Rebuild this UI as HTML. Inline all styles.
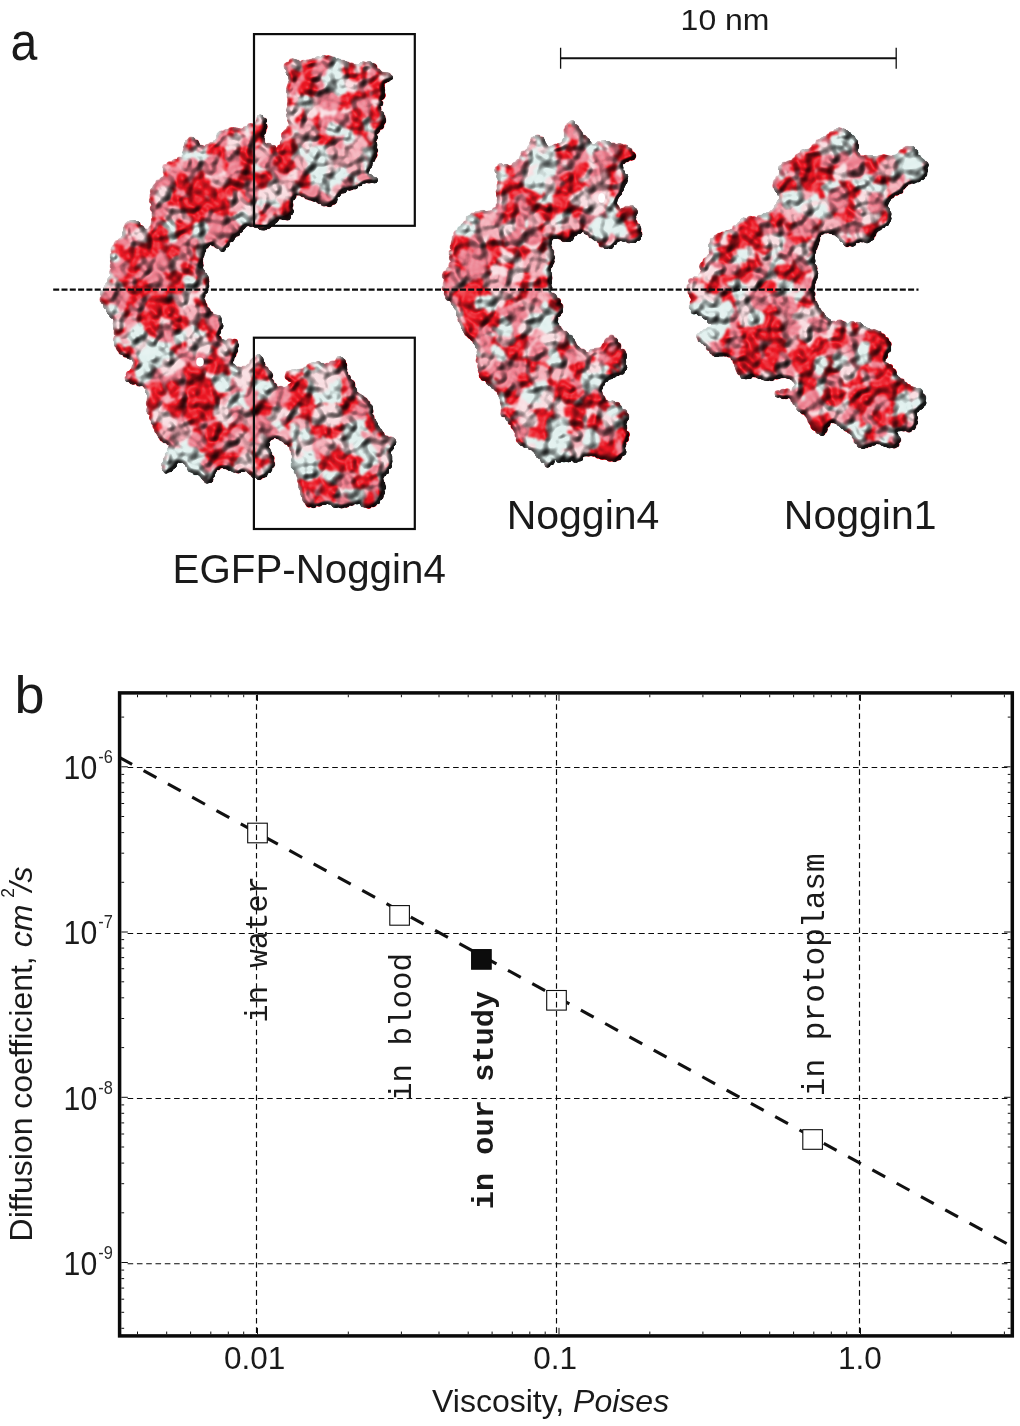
<!DOCTYPE html>
<html><head><meta charset="utf-8"><title>figure</title>
<style>
html,body{margin:0;padding:0;background:#fff;}
body{width:1020px;height:1426px;overflow:hidden;}
svg{display:block;}
text{font-family:"Liberation Sans",sans-serif;fill:#1a1a1a;}
text.mono{font-family:"Liberation Mono",monospace;}
.grid{stroke:#0a0a0a;stroke-width:1.15;stroke-dasharray:5.6 3.7;fill:none;}
</style></head><body>
<svg width="1020" height="1426" viewBox="0 0 1020 1426">
<rect width="1020" height="1426" fill="#fff"/>
<defs>

<filter id="lt" x="-4%" y="-4%" width="108%" height="108%" color-interpolation-filters="sRGB">
  <feColorMatrix in="SourceGraphic" type="matrix" values="0 0 0 0 0  0 0 0 0 0  0 0 0 0 0  1 0 0 0 0" result="h0"/>
  <feGaussianBlur in="h0" stdDeviation="1.9" result="hA"/>
  <feDiffuseLighting in="hA" surfaceScale="13" diffuseConstant="0.580" lighting-color="#ffffff" result="lit">
    <feDistantLight azimuth="225" elevation="62"/>
  </feDiffuseLighting>
  <feComponentTransfer in="lit" result="lit2"><feFuncR type="linear" slope="0.9" intercept="0.047"/><feFuncG type="linear" slope="0.9" intercept="0.047"/><feFuncB type="linear" slope="0.9" intercept="0.047"/></feComponentTransfer>
  <feSpecularLighting in="hA" surfaceScale="13" specularConstant="0.42" specularExponent="16" lighting-color="#ffffff" result="spec">
    <feDistantLight azimuth="225" elevation="62"/>
  </feSpecularLighting>
  <feComposite in="spec" in2="spec" operator="arithmetic" k1="0" k2="0.9" k3="0" k4="-0.2" result="spec1"/>
  <feGaussianBlur in="spec1" stdDeviation="0.9" result="spec2"/>
  <feComposite in="spec2" in2="lit2" operator="over" result="sh"/>
  <feComposite in="sh" in2="SourceAlpha" operator="in" result="shin"/>
  <feFlood flood-color="#ffffff" result="wh"/>
  <feComposite in="shin" in2="wh" operator="over"/>
</filter>
<filter id="cb" x="-4%" y="-4%" width="108%" height="108%" color-interpolation-filters="sRGB"><feTurbulence type="fractalNoise" baseFrequency="0.06" numOctaves="2" seed="4" result="n"/><feDisplacementMap in="SourceGraphic" in2="n" scale="14" xChannelSelector="R" yChannelSelector="G" result="d"/><feGaussianBlur in="d" stdDeviation="1.2"/></filter>
<radialGradient id="h0"><stop offset="0" stop-color="rgb(255,0,0)"/><stop offset="0.3" stop-color="rgb(243,0,0)"/><stop offset="0.5" stop-color="rgb(221,0,0)"/><stop offset="0.7" stop-color="rgb(182,0,0)"/><stop offset="0.85" stop-color="rgb(134,0,0)"/><stop offset="0.95" stop-color="rgb(80,0,0)"/><stop offset="1" stop-color="rgb(0,0,0)"/></radialGradient>
<radialGradient id="h1"><stop offset="0" stop-color="rgb(217,0,0)"/><stop offset="0.3" stop-color="rgb(207,0,0)"/><stop offset="0.5" stop-color="rgb(188,0,0)"/><stop offset="0.7" stop-color="rgb(155,0,0)"/><stop offset="0.85" stop-color="rgb(114,0,0)"/><stop offset="0.95" stop-color="rgb(68,0,0)"/><stop offset="1" stop-color="rgb(0,0,0)"/></radialGradient>
<radialGradient id="h2"><stop offset="0" stop-color="rgb(178,0,0)"/><stop offset="0.3" stop-color="rgb(170,0,0)"/><stop offset="0.5" stop-color="rgb(155,0,0)"/><stop offset="0.7" stop-color="rgb(127,0,0)"/><stop offset="0.85" stop-color="rgb(94,0,0)"/><stop offset="0.95" stop-color="rgb(56,0,0)"/><stop offset="1" stop-color="rgb(0,0,0)"/></radialGradient>
<radialGradient id="h3"><stop offset="0" stop-color="rgb(140,0,0)"/><stop offset="0.3" stop-color="rgb(134,0,0)"/><stop offset="0.5" stop-color="rgb(121,0,0)"/><stop offset="0.7" stop-color="rgb(100,0,0)"/><stop offset="0.85" stop-color="rgb(74,0,0)"/><stop offset="0.95" stop-color="rgb(44,0,0)"/><stop offset="1" stop-color="rgb(0,0,0)"/></radialGradient>
</defs>
<style>.s0{fill:url(#h0)}.s1{fill:url(#h1)}.s2{fill:url(#h2)}.s3{fill:url(#h3)}.k0{fill:#e0f0ee}.k1{fill:#f9dce0}.k2{fill:#f4acb6}.k3{fill:#ec7c8c}.k4{fill:#ec1622}.sp{mix-blend-mode:hard-light}.sp circle{mix-blend-mode:lighten}</style>
<g><g filter="url(#cb)"><circle class="k3" cx="162.5" cy="307.0" r="8.9"/><circle class="k2" cx="174.0" cy="417.0" r="10.2"/><circle class="k3" cx="195.5" cy="175.0" r="8.5"/><circle class="k2" cx="295.0" cy="418.0" r="8.6"/><circle class="k2" cx="227.5" cy="437.5" r="7.9"/><circle class="k0" cx="240.5" cy="227.0" r="4.6"/><circle class="k3" cx="299.5" cy="186.5" r="8.8"/><circle class="k2" cx="319.5" cy="443.5" r="9.1"/><circle class="k2" cx="303.5" cy="480.0" r="6.4"/><circle class="k3" cx="379.0" cy="431.0" r="3.1"/><circle class="k4" cx="343.0" cy="434.5" r="9.8"/><circle class="k4" cx="324.0" cy="482.0" r="10.0"/><circle class="k1" cx="335.5" cy="184.5" r="8.4"/><circle class="k4" cx="253.0" cy="404.0" r="8.1"/><circle class="k3" cx="164.5" cy="357.0" r="9.8"/><circle class="k3" cx="184.0" cy="157.0" r="2.6"/><circle class="k2" cx="161.5" cy="426.0" r="8.8"/><circle class="k2" cx="340.5" cy="505.0" r="3.5"/><circle class="k2" cx="180.5" cy="211.0" r="9.4"/><circle class="k1" cx="206.5" cy="365.0" r="8.1"/><circle class="k3" cx="184.5" cy="328.0" r="10.2"/><circle class="k3" cx="266.5" cy="457.5" r="7.0"/><circle class="k3" cx="242.5" cy="164.0" r="9.8"/><circle class="k2" cx="327.5" cy="131.0" r="9.0"/><circle class="k3" cx="301.5" cy="379.0" r="10.3"/><circle class="k4" cx="344.0" cy="92.5" r="8.6"/><circle class="k2" cx="219.5" cy="406.5" r="8.6"/><circle class="k3" cx="373.5" cy="419.5" r="2.1"/><circle class="k4" cx="267.0" cy="412.0" r="9.6"/><circle class="k4" cx="263.0" cy="128.5" r="4.0"/><circle class="k2" cx="363.0" cy="500.5" r="6.4"/><circle class="k4" cx="230.5" cy="464.5" r="6.4"/><circle class="k4" cx="338.0" cy="402.0" r="8.1"/><circle class="k4" cx="112.5" cy="284.0" r="7.0"/><circle class="k4" cx="312.0" cy="401.5" r="8.4"/><circle class="k1" cx="355.0" cy="426.5" r="8.7"/><circle class="k2" cx="336.0" cy="114.5" r="10.2"/><circle class="k1" cx="345.0" cy="456.0" r="10.1"/><circle class="k4" cx="260.5" cy="188.5" r="8.0"/><circle class="k4" cx="260.0" cy="373.5" r="9.2"/><circle class="k4" cx="120.5" cy="258.0" r="9.4"/><circle class="k3" cx="253.0" cy="438.5" r="9.7"/><circle class="k2" cx="226.5" cy="388.5" r="10.2"/><circle class="k4" cx="310.0" cy="423.0" r="9.6"/><circle class="k4" cx="314.5" cy="125.5" r="9.6"/><circle class="k0" cx="297.5" cy="373.5" r="5.0"/><circle class="k2" cx="136.5" cy="227.0" r="6.1"/><circle class="k1" cx="322.0" cy="371.5" r="7.9"/><circle class="k3" cx="121.0" cy="339.0" r="8.0"/><circle class="k4" cx="372.0" cy="92.5" r="9.1"/><circle class="k2" cx="342.5" cy="417.0" r="9.0"/><circle class="k4" cx="173.5" cy="244.0" r="9.4"/><circle class="k3" cx="295.5" cy="426.5" r="9.1"/><circle class="k3" cx="109.0" cy="312.5" r="2.1"/><circle class="k4" cx="294.0" cy="177.0" r="8.0"/><circle class="k1" cx="187.0" cy="345.5" r="9.7"/><circle class="k1" cx="345.0" cy="131.0" r="8.6"/><circle class="k1" cx="380.0" cy="438.0" r="6.3"/><circle class="k2" cx="203.5" cy="164.5" r="9.3"/><circle class="k3" cx="252.0" cy="206.5" r="9.7"/><circle class="k4" cx="348.5" cy="388.0" r="7.8"/><circle class="k1" cx="344.0" cy="107.0" r="9.7"/><circle class="k0" cx="202.5" cy="469.5" r="7.3"/><circle class="k0" cx="309.5" cy="141.0" r="10.3"/><circle class="k4" cx="310.5" cy="501.5" r="5.9"/><circle class="k0" cx="372.0" cy="129.0" r="7.8"/><circle class="k3" cx="159.5" cy="397.5" r="9.0"/><circle class="k3" cx="341.0" cy="378.0" r="8.6"/><circle class="k4" cx="210.0" cy="357.5" r="9.9"/><circle class="k4" cx="152.5" cy="309.5" r="9.4"/><circle class="k2" cx="183.0" cy="277.5" r="9.3"/><circle class="k2" cx="159.0" cy="246.0" r="10.0"/><circle class="k2" cx="197.0" cy="353.0" r="8.8"/><circle class="k4" cx="130.0" cy="286.5" r="8.7"/><circle class="k4" cx="172.0" cy="259.5" r="8.0"/><circle class="k3" cx="380.0" cy="87.5" r="4.8"/><circle class="k2" cx="294.5" cy="93.5" r="8.1"/><circle class="k3" cx="261.5" cy="423.5" r="10.3"/><circle class="k4" cx="158.5" cy="294.0" r="8.1"/><circle class="k3" cx="166.5" cy="237.0" r="8.5"/><circle class="k2" cx="184.5" cy="422.0" r="10.2"/><circle class="k1" cx="197.0" cy="145.0" r="3.1"/><circle class="k3" cx="222.5" cy="449.5" r="8.9"/><circle class="k1" cx="279.5" cy="436.0" r="3.8"/><circle class="k0" cx="317.5" cy="460.0" r="8.5"/><circle class="k2" cx="278.0" cy="183.5" r="9.1"/><circle class="k4" cx="372.5" cy="152.0" r="5.7"/><circle class="k1" cx="153.0" cy="338.5" r="8.6"/><circle class="k0" cx="171.5" cy="351.5" r="9.0"/><circle class="k0" cx="375.5" cy="181.0" r="2.1"/><circle class="k2" cx="199.0" cy="243.0" r="8.5"/><circle class="k3" cx="207.5" cy="226.5" r="9.8"/><circle class="k3" cx="239.5" cy="137.5" r="9.0"/><circle class="k4" cx="149.5" cy="240.0" r="8.1"/><circle class="k0" cx="296.0" cy="121.5" r="8.1"/><circle class="k0" cx="182.5" cy="447.5" r="8.9"/><circle class="k1" cx="245.5" cy="188.5" r="8.2"/><circle class="k3" cx="355.5" cy="399.0" r="6.8"/><circle class="k2" cx="368.5" cy="441.0" r="9.6"/><circle class="k3" cx="189.5" cy="181.5" r="8.2"/><circle class="k2" cx="188.0" cy="150.0" r="5.5"/><circle class="k1" cx="344.5" cy="394.5" r="8.9"/><circle class="k0" cx="300.0" cy="392.5" r="9.2"/><circle class="k4" cx="215.5" cy="240.5" r="6.4"/><circle class="k3" cx="226.5" cy="215.0" r="9.6"/><circle class="k4" cx="351.5" cy="103.0" r="8.1"/><circle class="k3" cx="388.5" cy="441.5" r="5.5"/><circle class="k3" cx="201.5" cy="395.5" r="9.8"/><circle class="k4" cx="227.5" cy="181.0" r="8.6"/><circle class="k1" cx="205.0" cy="451.0" r="8.3"/><circle class="k0" cx="342.0" cy="150.5" r="8.1"/><circle class="k0" cx="317.0" cy="77.5" r="8.1"/><circle class="k3" cx="337.0" cy="123.5" r="9.2"/><circle class="k1" cx="259.5" cy="474.0" r="5.9"/><circle class="k4" cx="176.5" cy="344.5" r="8.9"/><circle class="k2" cx="301.0" cy="133.5" r="9.6"/><circle class="k3" cx="312.0" cy="66.0" r="7.1"/><circle class="k4" cx="138.0" cy="264.5" r="7.8"/><circle class="k2" cx="307.5" cy="157.0" r="8.1"/><circle class="k3" cx="152.0" cy="377.5" r="10.1"/><circle class="k3" cx="315.0" cy="436.0" r="8.5"/><circle class="k3" cx="149.0" cy="233.5" r="6.1"/><circle class="k3" cx="301.5" cy="407.0" r="8.2"/><circle class="k4" cx="142.5" cy="316.5" r="8.5"/><circle class="k2" cx="325.5" cy="150.5" r="9.3"/><circle class="k1" cx="236.0" cy="392.5" r="9.6"/><circle class="k3" cx="173.5" cy="332.5" r="8.9"/><circle class="k1" cx="356.0" cy="80.0" r="8.2"/><circle class="k1" cx="321.5" cy="95.0" r="8.2"/><circle class="k1" cx="179.0" cy="220.5" r="8.2"/><circle class="k4" cx="316.5" cy="110.5" r="10.3"/><circle class="k4" cx="203.0" cy="409.5" r="8.8"/><circle class="k3" cx="276.0" cy="433.5" r="4.5"/><circle class="k3" cx="178.0" cy="308.5" r="7.8"/><circle class="k3" cx="164.5" cy="224.0" r="9.9"/><circle class="k4" cx="206.5" cy="177.5" r="9.8"/><circle class="k4" cx="177.5" cy="394.5" r="9.0"/><circle class="k4" cx="357.5" cy="93.5" r="9.7"/><circle class="k4" cx="310.0" cy="481.0" r="9.1"/><circle class="k0" cx="254.5" cy="160.5" r="8.7"/><circle class="k4" cx="255.5" cy="180.5" r="8.3"/><circle class="k2" cx="220.5" cy="325.0" r="3.7"/><circle class="k0" cx="329.5" cy="84.0" r="10.1"/><circle class="k3" cx="218.5" cy="221.5" r="9.4"/><circle class="k3" cx="210.0" cy="237.5" r="7.0"/><circle class="k3" cx="302.5" cy="82.0" r="9.2"/><circle class="k4" cx="166.0" cy="289.5" r="9.9"/><circle class="k1" cx="370.5" cy="73.0" r="9.8"/><circle class="k1" cx="249.0" cy="422.0" r="10.3"/><circle class="k0" cx="359.5" cy="174.5" r="8.0"/><circle class="k4" cx="204.5" cy="372.5" r="8.5"/><circle class="k0" cx="343.5" cy="74.0" r="8.8"/><circle class="k4" cx="274.5" cy="215.0" r="7.4"/><circle class="k3" cx="220.5" cy="360.0" r="10.2"/><circle class="k1" cx="245.5" cy="386.0" r="8.9"/><circle class="k4" cx="172.0" cy="320.5" r="9.6"/><circle class="k1" cx="155.0" cy="202.5" r="6.4"/><circle class="k0" cx="268.5" cy="170.5" r="9.8"/><circle class="k4" cx="339.0" cy="194.5" r="2.4"/><circle class="k0" cx="169.0" cy="449.0" r="2.0"/><circle class="k4" cx="192.0" cy="277.5" r="8.2"/><circle class="k0" cx="192.5" cy="158.0" r="9.7"/><circle class="k3" cx="313.5" cy="496.0" r="9.2"/><circle class="k4" cx="194.5" cy="292.0" r="9.8"/><circle class="k4" cx="290.0" cy="121.5" r="2.4"/><circle class="k1" cx="218.5" cy="398.0" r="8.7"/><circle class="k3" cx="252.5" cy="412.0" r="9.4"/><circle class="k4" cx="368.5" cy="411.0" r="5.0"/><circle class="k3" cx="339.5" cy="448.0" r="8.8"/><circle class="k1" cx="239.0" cy="178.0" r="8.4"/><circle class="k3" cx="324.0" cy="366.0" r="2.6"/><circle class="k2" cx="169.0" cy="275.5" r="9.2"/><circle class="k4" cx="200.5" cy="184.0" r="9.8"/><circle class="k4" cx="211.5" cy="418.5" r="9.1"/><circle class="k2" cx="188.0" cy="237.5" r="10.2"/><circle class="k0" cx="279.5" cy="204.0" r="8.1"/><circle class="k1" cx="259.5" cy="144.5" r="6.6"/><circle class="k0" cx="131.5" cy="344.5" r="8.8"/><circle class="k3" cx="375.5" cy="432.5" r="6.7"/><circle class="k4" cx="164.0" cy="253.0" r="9.9"/><circle class="k4" cx="303.0" cy="192.0" r="5.1"/><circle class="k4" cx="289.5" cy="392.0" r="7.0"/><circle class="k0" cx="331.5" cy="169.0" r="10.3"/><circle class="k2" cx="268.0" cy="152.5" r="9.2"/><circle class="k4" cx="149.0" cy="283.0" r="8.6"/><circle class="k0" cx="291.5" cy="132.0" r="7.0"/><circle class="k0" cx="146.0" cy="231.0" r="2.6"/><circle class="k4" cx="186.0" cy="379.5" r="9.7"/><circle class="k1" cx="269.5" cy="182.0" r="7.8"/><circle class="k0" cx="260.0" cy="171.0" r="9.0"/><circle class="k3" cx="157.5" cy="258.0" r="7.8"/><circle class="k3" cx="226.0" cy="170.0" r="9.5"/><circle class="k4" cx="140.5" cy="242.0" r="9.9"/><circle class="k3" cx="285.0" cy="390.5" r="4.0"/><circle class="k4" cx="202.0" cy="208.5" r="8.8"/><circle class="k2" cx="139.0" cy="354.5" r="9.0"/><circle class="k3" cx="186.5" cy="396.5" r="9.6"/><circle class="k1" cx="296.0" cy="167.0" r="9.6"/><circle class="k3" cx="323.5" cy="502.0" r="3.2"/><circle class="k3" cx="317.0" cy="192.0" r="10.3"/><circle class="k0" cx="347.0" cy="492.0" r="8.7"/><circle class="k4" cx="193.0" cy="214.0" r="10.3"/><circle class="k1" cx="309.5" cy="175.5" r="8.8"/><circle class="k0" cx="359.0" cy="491.5" r="9.4"/><circle class="k3" cx="308.0" cy="120.5" r="10.0"/><circle class="k4" cx="386.5" cy="454.5" r="5.5"/><circle class="k4" cx="325.0" cy="432.0" r="7.8"/><circle class="k4" cx="185.0" cy="405.5" r="8.7"/><circle class="k4" cx="353.5" cy="186.5" r="3.5"/><circle class="k0" cx="215.5" cy="159.0" r="9.4"/><circle class="k4" cx="228.0" cy="455.5" r="8.0"/><circle class="k4" cx="215.5" cy="349.0" r="7.8"/><circle class="k4" cx="334.5" cy="460.0" r="10.2"/><circle class="k2" cx="377.0" cy="445.5" r="7.8"/><circle class="k3" cx="180.5" cy="159.0" r="2.6"/><circle class="k0" cx="325.0" cy="387.5" r="8.7"/><circle class="k2" cx="364.5" cy="172.5" r="4.0"/><circle class="k1" cx="252.5" cy="369.5" r="7.8"/><circle class="k4" cx="188.5" cy="386.5" r="7.8"/><circle class="k4" cx="301.0" cy="112.0" r="8.3"/><circle class="k2" cx="289.0" cy="88.0" r="2.6"/><circle class="k4" cx="174.5" cy="163.0" r="3.7"/><circle class="k4" cx="167.5" cy="300.5" r="10.2"/><circle class="k2" cx="230.5" cy="208.0" r="9.6"/><circle class="k1" cx="350.0" cy="117.5" r="9.3"/><circle class="k3" cx="352.0" cy="480.5" r="9.1"/><circle class="k3" cx="326.0" cy="472.0" r="10.3"/><circle class="k3" cx="194.0" cy="426.5" r="9.7"/><circle class="k4" cx="261.5" cy="210.0" r="10.3"/><circle class="k3" cx="130.5" cy="244.0" r="10.0"/><circle class="k4" cx="254.5" cy="465.0" r="8.4"/><circle class="k0" cx="316.0" cy="150.0" r="9.5"/><circle class="k1" cx="355.5" cy="453.0" r="8.2"/><circle class="k4" cx="209.5" cy="316.5" r="4.9"/><circle class="k3" cx="206.0" cy="197.0" r="8.4"/><circle class="k4" cx="357.5" cy="136.0" r="9.1"/><circle class="k2" cx="299.0" cy="442.0" r="8.8"/><circle class="k2" cx="174.0" cy="381.0" r="10.3"/><circle class="k4" cx="219.0" cy="328.5" r="3.7"/><circle class="k2" cx="232.0" cy="356.5" r="3.5"/><circle class="k4" cx="369.0" cy="145.5" r="8.5"/><circle class="k3" cx="247.5" cy="180.0" r="9.4"/><circle class="k3" cx="196.5" cy="320.0" r="9.3"/><circle class="k4" cx="217.5" cy="465.0" r="4.9"/><circle class="k0" cx="219.5" cy="421.0" r="9.9"/><circle class="k3" cx="185.5" cy="262.0" r="8.7"/><circle class="k3" cx="169.0" cy="173.5" r="5.9"/><circle class="k4" cx="109.0" cy="299.0" r="9.1"/><circle class="k3" cx="376.0" cy="150.5" r="2.0"/><circle class="k0" cx="364.0" cy="129.0" r="8.4"/><circle class="k0" cx="330.5" cy="498.0" r="6.9"/><circle class="k0" cx="367.0" cy="452.5" r="7.8"/><circle class="k1" cx="183.0" cy="170.0" r="9.1"/><circle class="k1" cx="179.5" cy="251.0" r="9.3"/><circle class="k4" cx="152.5" cy="198.0" r="3.5"/><circle class="k4" cx="182.0" cy="200.0" r="10.2"/><circle class="k1" cx="285.0" cy="214.5" r="5.7"/><circle class="k2" cx="350.0" cy="379.5" r="2.1"/><circle class="k1" cx="163.0" cy="387.5" r="8.1"/><circle class="k0" cx="310.0" cy="372.5" r="8.1"/><circle class="k4" cx="366.0" cy="415.5" r="8.1"/><circle class="k1" cx="356.0" cy="440.0" r="8.7"/><circle class="k4" cx="163.0" cy="316.0" r="9.6"/><circle class="k0" cx="358.0" cy="472.0" r="8.6"/><circle class="k0" cx="188.0" cy="462.5" r="4.2"/><circle class="k4" cx="237.5" cy="152.0" r="8.5"/><circle class="k4" cx="288.5" cy="431.5" r="9.2"/><circle class="k0" cx="193.5" cy="464.0" r="8.0"/><circle class="k1" cx="325.0" cy="174.0" r="8.5"/><circle class="k4" cx="142.0" cy="384.0" r="3.1"/><circle class="k4" cx="161.0" cy="341.0" r="9.5"/><circle class="k4" cx="188.5" cy="368.5" r="8.2"/><circle class="k0" cx="326.5" cy="75.0" r="8.3"/><circle class="k2" cx="145.5" cy="334.5" r="8.2"/><circle class="k3" cx="128.5" cy="315.5" r="10.0"/><circle class="k1" cx="173.0" cy="446.0" r="4.5"/><circle class="k0" cx="346.0" cy="173.5" r="9.2"/><circle class="k4" cx="157.0" cy="192.5" r="7.0"/><circle class="k0" cx="261.5" cy="199.0" r="9.8"/><circle class="k4" cx="246.0" cy="198.5" r="8.7"/><circle class="k4" cx="115.5" cy="273.0" r="6.5"/><circle class="k3" cx="232.5" cy="409.0" r="9.1"/><circle class="k3" cx="192.0" cy="360.5" r="8.7"/><circle class="k1" cx="166.5" cy="202.0" r="8.9"/><circle class="k0" cx="206.5" cy="460.0" r="8.0"/><circle class="k2" cx="139.0" cy="365.0" r="6.4"/><circle class="k0" cx="224.0" cy="430.0" r="8.0"/><circle class="k1" cx="303.0" cy="96.0" r="10.0"/><circle class="k0" cx="383.5" cy="122.5" r="2.1"/><circle class="k3" cx="374.0" cy="102.0" r="8.5"/><circle class="k4" cx="324.0" cy="424.0" r="9.7"/><circle class="k2" cx="255.0" cy="215.5" r="10.1"/><circle class="k3" cx="164.0" cy="179.5" r="3.2"/><circle class="k3" cx="378.0" cy="458.5" r="8.1"/><circle class="k1" cx="265.5" cy="467.0" r="7.7"/><circle class="k3" cx="293.5" cy="388.0" r="5.7"/><circle class="k0" cx="237.5" cy="372.0" r="5.5"/><circle class="k3" cx="301.5" cy="471.0" r="7.3"/><circle class="k0" cx="329.0" cy="402.5" r="7.8"/><circle class="k2" cx="178.5" cy="439.0" r="8.8"/><circle class="k0" cx="325.5" cy="186.5" r="9.8"/><circle class="k3" cx="269.0" cy="144.5" r="2.0"/><circle class="k0" cx="195.0" cy="454.0" r="9.2"/><circle class="k1" cx="328.5" cy="91.5" r="7.8"/><circle class="k3" cx="389.0" cy="447.0" r="4.9"/><circle class="k2" cx="155.0" cy="266.5" r="7.9"/><circle class="k1" cx="205.5" cy="339.0" r="9.6"/><circle class="k4" cx="235.5" cy="424.0" r="7.9"/><circle class="k4" cx="199.0" cy="220.5" r="8.7"/><circle class="k4" cx="358.5" cy="405.5" r="8.8"/><circle class="k1" cx="204.0" cy="244.5" r="5.3"/><circle class="k3" cx="177.0" cy="236.0" r="8.4"/><circle class="k1" cx="160.5" cy="325.0" r="8.8"/><circle class="k0" cx="366.0" cy="117.0" r="9.4"/><circle class="k0" cx="226.0" cy="375.5" r="8.6"/><circle class="k0" cx="173.0" cy="464.5" r="4.2"/><circle class="k4" cx="226.5" cy="145.0" r="9.9"/><circle class="k4" cx="317.5" cy="487.5" r="10.0"/><circle class="k1" cx="127.5" cy="381.0" r="2.0"/><circle class="k0" cx="316.0" cy="471.5" r="8.9"/><circle class="k2" cx="132.5" cy="325.0" r="9.5"/><circle class="k4" cx="280.5" cy="405.0" r="8.0"/><circle class="k2" cx="179.0" cy="267.0" r="8.2"/><circle class="k1" cx="236.5" cy="225.0" r="9.1"/><circle class="k4" cx="312.5" cy="94.0" r="9.7"/><circle class="k4" cx="144.0" cy="379.5" r="8.0"/><circle class="k4" cx="270.5" cy="461.0" r="5.0"/><circle class="k1" cx="304.0" cy="65.0" r="5.0"/><circle class="k4" cx="222.5" cy="197.0" r="9.9"/><circle class="k4" cx="242.5" cy="453.5" r="8.1"/><circle class="k1" cx="229.0" cy="468.0" r="2.6"/><circle class="k3" cx="168.0" cy="189.0" r="7.8"/><circle class="k3" cx="294.5" cy="84.5" r="6.9"/><circle class="k2" cx="161.0" cy="415.5" r="10.3"/><circle class="k3" cx="318.5" cy="63.5" r="7.3"/><circle class="k2" cx="370.0" cy="493.5" r="8.2"/><circle class="k1" cx="187.0" cy="436.5" r="9.5"/><circle class="k3" cx="270.0" cy="424.5" r="9.3"/><circle class="k3" cx="275.5" cy="389.0" r="3.9"/><circle class="k4" cx="129.0" cy="306.0" r="8.6"/><circle class="k2" cx="151.0" cy="366.0" r="9.7"/><circle class="k2" cx="224.0" cy="237.0" r="9.1"/><circle class="k4" cx="189.5" cy="225.5" r="8.5"/><circle class="k3" cx="140.0" cy="307.5" r="9.1"/><circle class="k4" cx="202.0" cy="419.0" r="8.2"/><circle class="k4" cx="254.0" cy="151.0" r="8.0"/><circle class="k3" cx="288.0" cy="439.0" r="5.9"/><circle class="k1" cx="383.0" cy="466.5" r="8.4"/><circle class="k3" cx="191.5" cy="247.0" r="8.6"/><circle class="k3" cx="375.0" cy="501.0" r="4.9"/><circle class="k1" cx="145.5" cy="345.5" r="8.7"/><circle class="k1" cx="235.5" cy="195.5" r="8.1"/><circle class="k4" cx="259.5" cy="124.5" r="4.8"/><circle class="k4" cx="195.0" cy="377.5" r="10.3"/><circle class="k2" cx="338.5" cy="359.0" r="2.8"/><circle class="k3" cx="167.0" cy="407.0" r="7.9"/><circle class="k1" cx="266.5" cy="381.0" r="6.6"/><circle class="k4" cx="224.5" cy="160.5" r="7.8"/><circle class="k2" cx="369.0" cy="178.0" r="4.8"/><circle class="k4" cx="127.5" cy="267.5" r="8.8"/><circle class="k3" cx="350.0" cy="160.0" r="9.2"/><circle class="k4" cx="173.0" cy="402.5" r="9.5"/><circle class="k1" cx="152.0" cy="397.5" r="5.5"/><circle class="k2" cx="333.5" cy="366.0" r="5.5"/><circle class="k3" cx="247.5" cy="220.5" r="6.0"/><circle class="k4" cx="161.0" cy="434.0" r="4.2"/><circle class="k3" cx="330.0" cy="66.0" r="8.2"/><circle class="k4" cx="161.0" cy="275.5" r="8.6"/><circle class="k1" cx="287.5" cy="173.0" r="9.5"/><circle class="k4" cx="140.5" cy="255.0" r="9.3"/><circle class="k3" cx="176.0" cy="371.5" r="9.5"/><circle class="k3" cx="237.0" cy="445.5" r="8.1"/><circle class="k0" cx="267.0" cy="444.0" r="3.0"/><circle class="k1" cx="393.0" cy="445.5" r="2.6"/><circle class="k1" cx="302.0" cy="148.0" r="8.0"/><circle class="k1" cx="197.0" cy="262.0" r="6.0"/><circle class="k4" cx="295.5" cy="449.5" r="5.7"/><circle class="k0" cx="199.0" cy="472.5" r="3.5"/><circle class="k3" cx="297.0" cy="69.5" r="8.2"/><circle class="k2" cx="333.5" cy="147.5" r="8.6"/><circle class="k4" cx="215.5" cy="388.0" r="9.5"/><circle class="k1" cx="333.5" cy="439.0" r="8.2"/><circle class="k1" cx="277.0" cy="153.0" r="4.5"/><circle class="k0" cx="195.5" cy="340.0" r="7.8"/><circle class="k0" cx="288.0" cy="109.5" r="2.0"/><circle class="k3" cx="164.5" cy="379.5" r="9.2"/><circle class="k4" cx="253.0" cy="132.5" r="9.6"/><circle class="k3" cx="171.5" cy="168.5" r="7.3"/><circle class="k4" cx="201.0" cy="435.0" r="8.1"/><circle class="k3" cx="380.0" cy="72.5" r="2.4"/><circle class="k4" cx="157.5" cy="432.0" r="2.4"/><circle class="k3" cx="327.5" cy="367.5" r="4.5"/><circle class="k2" cx="390.0" cy="78.0" r="2.8"/><circle class="k4" cx="311.5" cy="104.0" r="8.8"/><circle class="k0" cx="208.5" cy="153.0" r="9.1"/><circle class="k2" cx="165.0" cy="433.5" r="7.8"/><circle class="k0" cx="310.0" cy="166.5" r="8.2"/><circle class="k1" cx="204.5" cy="308.5" r="4.2"/><circle class="k4" cx="124.5" cy="229.5" r="2.0"/><circle class="k3" cx="213.5" cy="232.0" r="9.5"/><circle class="k4" cx="356.0" cy="128.0" r="10.1"/><circle class="k1" cx="307.0" cy="367.0" r="2.1"/><circle class="k3" cx="378.0" cy="427.5" r="2.0"/><circle class="k2" cx="175.5" cy="190.0" r="8.4"/><circle class="k1" cx="116.5" cy="309.0" r="8.2"/><circle class="k3" cx="195.0" cy="148.0" r="6.4"/><circle class="k4" cx="381.0" cy="100.0" r="3.2"/><circle class="k3" cx="214.5" cy="447.0" r="8.9"/><circle class="k4" cx="127.0" cy="351.0" r="6.6"/><circle class="k0" cx="317.0" cy="388.5" r="8.0"/><circle class="k4" cx="337.5" cy="487.0" r="8.8"/><circle class="k0" cx="197.5" cy="331.0" r="10.1"/><circle class="k2" cx="203.5" cy="293.0" r="3.2"/><circle class="k3" cx="291.0" cy="79.0" r="2.6"/><circle class="k4" cx="363.0" cy="99.5" r="8.7"/><circle class="k3" cx="340.5" cy="426.5" r="7.8"/><circle class="k3" cx="378.0" cy="117.5" r="7.7"/><circle class="k4" cx="138.0" cy="295.0" r="9.9"/><circle class="k2" cx="248.0" cy="469.0" r="3.1"/><circle class="k0" cx="298.5" cy="434.0" r="10.3"/><circle class="k2" cx="227.5" cy="401.0" r="9.5"/><circle class="k3" cx="314.0" cy="450.0" r="9.6"/><circle class="k0" cx="154.0" cy="346.0" r="8.1"/><circle class="k1" cx="226.0" cy="353.5" r="9.6"/><circle class="k0" cx="353.0" cy="180.0" r="9.6"/><circle class="k0" cx="210.5" cy="474.0" r="4.8"/><circle class="k3" cx="163.5" cy="466.5" r="3.1"/><circle class="k2" cx="370.0" cy="83.0" r="9.8"/><circle class="k4" cx="137.0" cy="372.5" r="7.5"/><circle class="k4" cx="194.0" cy="195.5" r="9.6"/><circle class="k3" cx="150.0" cy="387.5" r="5.9"/><circle class="k3" cx="154.0" cy="423.5" r="2.6"/><circle class="k2" cx="375.5" cy="475.0" r="8.2"/><circle class="k3" cx="157.0" cy="283.5" r="10.3"/><circle class="k0" cx="243.0" cy="407.5" r="10.2"/><circle class="k2" cx="108.0" cy="306.5" r="4.4"/><circle class="k3" cx="134.5" cy="278.5" r="9.1"/><circle class="k4" cx="189.5" cy="139.5" r="3.5"/><circle class="k3" cx="216.0" cy="211.0" r="9.6"/><circle class="k3" cx="348.5" cy="67.5" r="5.5"/><circle class="k4" cx="322.5" cy="119.0" r="10.2"/><circle class="k4" cx="373.5" cy="156.0" r="3.2"/><circle class="k2" cx="198.5" cy="307.0" r="8.4"/><circle class="k3" cx="107.5" cy="289.0" r="4.8"/><circle class="k4" cx="338.0" cy="370.0" r="9.5"/><circle class="k4" cx="338.0" cy="60.0" r="2.1"/><circle class="k4" cx="192.0" cy="409.5" r="9.1"/><circle class="k3" cx="184.5" cy="189.0" r="8.0"/><circle class="k4" cx="367.0" cy="474.0" r="8.0"/><circle class="k3" cx="160.0" cy="370.5" r="8.7"/><circle class="k1" cx="219.0" cy="142.5" r="4.9"/><circle class="k3" cx="359.0" cy="107.0" r="9.3"/><circle class="k2" cx="347.5" cy="472.0" r="8.1"/><circle class="k2" cx="247.0" cy="429.5" r="8.2"/><circle class="k0" cx="331.5" cy="195.0" r="7.9"/><circle class="k2" cx="211.5" cy="480.0" r="2.0"/><circle class="k2" cx="185.0" cy="297.5" r="9.5"/><circle class="k4" cx="262.0" cy="219.0" r="8.3"/><circle class="k3" cx="282.5" cy="419.5" r="8.3"/><circle class="k4" cx="127.5" cy="297.5" r="7.9"/><circle class="k0" cx="238.5" cy="233.0" r="2.4"/><circle class="k0" cx="214.0" cy="143.0" r="2.6"/><circle class="k4" cx="246.5" cy="444.5" r="8.8"/><circle class="k4" cx="204.0" cy="383.0" r="9.7"/><circle class="k4" cx="304.5" cy="195.5" r="2.6"/><circle class="k1" cx="331.5" cy="503.0" r="3.1"/><circle class="k2" cx="112.5" cy="315.0" r="3.7"/><circle class="k3" cx="261.0" cy="443.5" r="8.6"/><circle class="k1" cx="347.5" cy="445.5" r="8.3"/><circle class="k4" cx="252.5" cy="378.5" r="8.5"/><circle class="k0" cx="285.5" cy="66.0" r="2.0"/><circle class="k0" cx="264.0" cy="474.5" r="3.5"/><circle class="k2" cx="316.0" cy="136.0" r="8.8"/><circle class="k2" cx="206.5" cy="148.0" r="3.9"/><circle class="k2" cx="293.0" cy="144.0" r="10.1"/><circle class="k0" cx="293.0" cy="445.5" r="4.6"/><circle class="k2" cx="236.5" cy="347.0" r="2.1"/><circle class="k3" cx="130.0" cy="377.5" r="5.6"/><circle class="k4" cx="238.5" cy="211.0" r="8.2"/><circle class="k4" cx="246.5" cy="172.0" r="9.1"/><circle class="k0" cx="298.5" cy="462.0" r="7.5"/><circle class="k4" cx="196.5" cy="402.0" r="7.8"/><circle class="k3" cx="288.5" cy="217.0" r="2.8"/><circle class="k2" cx="320.0" cy="102.5" r="9.5"/><circle class="k4" cx="292.0" cy="159.0" r="9.8"/><circle class="k3" cx="124.5" cy="325.5" r="8.6"/><circle class="k4" cx="230.0" cy="239.0" r="4.2"/><circle class="k2" cx="370.0" cy="429.5" r="9.7"/><circle class="k4" cx="336.5" cy="469.0" r="8.1"/><circle class="k3" cx="184.0" cy="356.5" r="8.6"/><circle class="k3" cx="372.5" cy="466.5" r="8.8"/><circle class="k4" cx="157.0" cy="428.0" r="3.9"/><circle class="k4" cx="122.0" cy="278.0" r="8.2"/><circle class="k4" cx="379.5" cy="493.5" r="5.5"/><circle class="k1" cx="118.0" cy="289.5" r="8.2"/><circle class="k4" cx="332.5" cy="427.5" r="10.0"/><circle class="k2" cx="124.5" cy="239.5" r="4.5"/><circle class="k1" cx="176.5" cy="363.0" r="8.4"/><circle class="k0" cx="171.0" cy="230.0" r="10.2"/><circle class="k0" cx="362.0" cy="151.0" r="9.6"/><circle class="k1" cx="154.0" cy="409.5" r="8.2"/><circle class="k4" cx="158.5" cy="217.0" r="7.0"/><circle class="k4" cx="313.0" cy="410.5" r="9.5"/><circle class="k0" cx="165.0" cy="460.0" r="2.5"/><circle class="k4" cx="302.0" cy="490.5" r="3.1"/><circle class="k1" cx="288.5" cy="116.5" r="2.4"/><circle class="k3" cx="119.5" cy="298.0" r="10.1"/><circle class="k1" cx="130.0" cy="232.5" r="7.7"/><circle class="k3" cx="270.5" cy="208.5" r="8.0"/><circle class="k1" cx="242.0" cy="368.5" r="2.5"/><circle class="k2" cx="251.0" cy="452.5" r="9.6"/><circle class="k1" cx="186.5" cy="317.0" r="8.0"/><circle class="k2" cx="272.0" cy="147.5" r="3.5"/><circle class="k2" cx="128.0" cy="333.0" r="8.9"/><circle class="k3" cx="315.0" cy="59.0" r="2.0"/><circle class="k3" cx="113.0" cy="260.5" r="3.0"/><circle class="k0" cx="369.0" cy="160.5" r="5.5"/><circle class="k0" cx="191.0" cy="447.0" r="9.1"/><circle class="k0" cx="273.5" cy="198.0" r="9.9"/><circle class="k3" cx="225.0" cy="463.5" r="5.3"/><circle class="k4" cx="150.5" cy="319.0" r="8.4"/><circle class="k0" cx="189.5" cy="285.5" r="7.9"/><circle class="k0" cx="367.5" cy="170.0" r="2.4"/><circle class="k1" cx="214.5" cy="373.5" r="9.6"/><circle class="k4" cx="377.5" cy="481.0" r="6.1"/><circle class="k3" cx="348.0" cy="500.5" r="6.4"/><circle class="k0" cx="340.5" cy="166.5" r="8.5"/><circle class="k3" cx="349.0" cy="189.0" r="2.0"/><circle class="k4" cx="306.0" cy="415.5" r="9.6"/><circle class="k1" cx="141.0" cy="227.5" r="3.1"/><circle class="k4" cx="283.0" cy="147.0" r="4.9"/><circle class="k1" cx="225.0" cy="346.0" r="6.0"/><circle class="k0" cx="204.5" cy="474.5" r="5.2"/><circle class="k1" cx="115.0" cy="246.5" r="3.2"/><circle class="k4" cx="238.5" cy="461.5" r="8.9"/><circle class="k1" cx="187.0" cy="336.0" r="8.9"/><circle class="k0" cx="201.0" cy="232.0" r="9.2"/><circle class="k4" cx="235.5" cy="236.0" r="2.4"/><circle class="k4" cx="188.5" cy="144.0" r="4.8"/><circle class="k4" cx="294.0" cy="195.0" r="3.8"/><circle class="k0" cx="222.0" cy="248.0" r="3.7"/><circle class="k0" cx="172.0" cy="468.5" r="3.0"/><circle class="k2" cx="216.5" cy="335.5" r="3.1"/><circle class="k1" cx="382.5" cy="473.5" r="3.8"/><circle class="k4" cx="197.0" cy="254.0" r="7.5"/><circle class="k4" cx="256.5" cy="223.0" r="5.0"/><circle class="k4" cx="254.5" cy="389.0" r="9.9"/><circle class="k4" cx="360.5" cy="480.5" r="8.1"/><circle class="k4" cx="103.0" cy="291.0" r="2.5"/><circle class="k2" cx="211.0" cy="146.5" r="4.2"/><circle class="k1" cx="113.5" cy="267.5" r="4.0"/><circle class="k4" cx="321.5" cy="406.5" r="9.3"/><circle class="k3" cx="194.0" cy="143.0" r="4.8"/><circle class="k0" cx="194.0" cy="472.5" r="2.5"/><circle class="k3" cx="219.0" cy="440.0" r="9.7"/><circle class="k4" cx="231.5" cy="134.5" r="6.9"/><circle class="k0" cx="328.5" cy="395.0" r="9.2"/><circle class="k4" cx="358.5" cy="185.0" r="2.6"/><circle class="k0" cx="168.5" cy="462.5" r="6.6"/><circle class="k0" cx="156.5" cy="357.5" r="9.1"/><circle class="k3" cx="275.5" cy="163.5" r="10.2"/><circle class="k0" cx="170.0" cy="453.5" r="4.8"/><circle class="k4" cx="165.0" cy="213.5" r="9.0"/><circle class="k3" cx="159.0" cy="181.0" r="2.1"/><circle class="k2" cx="392.5" cy="438.5" r="2.0"/><circle class="k1" cx="133.0" cy="368.0" r="2.0"/><circle class="k0" cx="243.5" cy="398.5" r="9.2"/><circle class="k3" cx="196.0" cy="269.5" r="8.2"/><circle class="k1" cx="155.5" cy="186.5" r="3.1"/><circle class="k4" cx="152.5" cy="403.5" r="6.5"/><circle class="k0" cx="303.0" cy="453.0" r="10.0"/><circle class="k3" cx="296.0" cy="106.0" r="9.0"/><circle class="k2" cx="234.5" cy="129.5" r="2.4"/><circle class="k2" cx="245.5" cy="371.0" r="5.5"/><circle class="k0" cx="366.0" cy="505.0" r="3.7"/><circle class="k3" cx="202.0" cy="275.5" r="5.0"/><circle class="k4" cx="211.0" cy="204.5" r="8.2"/><circle class="k4" cx="272.0" cy="224.5" r="2.4"/><circle class="k0" cx="117.5" cy="342.0" r="4.8"/><circle class="k0" cx="200.5" cy="152.5" r="7.5"/><circle class="k3" cx="353.0" cy="391.0" r="4.5"/><circle class="k4" cx="260.0" cy="456.5" r="8.6"/><circle class="k1" cx="290.5" cy="411.0" r="9.4"/><circle class="k2" cx="172.5" cy="428.5" r="8.4"/><circle class="k3" cx="269.0" cy="376.0" r="4.0"/><circle class="k4" cx="208.5" cy="403.0" r="9.8"/><circle class="k3" cx="175.0" cy="177.5" r="9.2"/><circle class="k3" cx="364.0" cy="181.0" r="2.8"/><circle class="k0" cx="371.5" cy="64.5" r="3.0"/><circle class="k1" cx="216.0" cy="173.0" r="9.1"/><circle class="k4" cx="144.5" cy="324.5" r="10.3"/><circle class="k2" cx="266.0" cy="373.0" r="5.2"/><circle class="k0" cx="166.5" cy="439.5" r="4.2"/><circle class="k4" cx="207.5" cy="186.0" r="7.8"/><circle class="k1" cx="339.0" cy="495.0" r="8.5"/><circle class="k1" cx="310.0" cy="381.0" r="8.7"/><circle class="k2" cx="186.5" cy="307.5" r="8.1"/><circle class="k2" cx="265.5" cy="402.5" r="8.2"/><circle class="k2" cx="329.5" cy="60.0" r="4.6"/><circle class="k3" cx="265.5" cy="433.5" r="9.2"/><circle class="k4" cx="375.5" cy="136.0" r="2.5"/><circle class="k0" cx="349.5" cy="145.0" r="10.3"/><circle class="k0" cx="111.5" cy="272.5" r="2.5"/><circle class="k1" cx="292.5" cy="114.5" r="6.7"/><circle class="k0" cx="206.0" cy="329.5" r="8.3"/><circle class="k4" cx="366.0" cy="138.0" r="7.8"/><circle class="k3" cx="164.0" cy="265.5" r="8.8"/><circle class="k3" cx="223.5" cy="134.5" r="5.0"/><circle class="k3" cx="332.0" cy="106.0" r="8.6"/><circle class="k3" cx="379.0" cy="498.0" r="3.5"/><circle class="k3" cx="338.0" cy="139.0" r="10.3"/><circle class="k4" cx="104.5" cy="304.5" r="2.4"/><circle class="k3" cx="384.5" cy="116.5" r="2.1"/><circle class="k4" cx="131.0" cy="355.0" r="5.0"/><circle class="k0" cx="322.0" cy="162.5" r="9.0"/><circle class="k4" cx="232.5" cy="351.5" r="5.0"/><circle class="k3" cx="254.0" cy="193.5" r="8.3"/><circle class="k3" cx="146.5" cy="383.5" r="4.6"/><circle class="k0" cx="357.5" cy="501.5" r="3.1"/><circle class="k4" cx="103.5" cy="301.0" r="3.5"/><circle class="k2" cx="285.5" cy="196.5" r="8.7"/><circle class="k3" cx="323.5" cy="493.0" r="8.5"/><circle class="k2" cx="242.0" cy="417.5" r="10.1"/><circle class="k4" cx="205.5" cy="442.5" r="10.2"/><circle class="k4" cx="338.5" cy="98.5" r="8.2"/><circle class="k2" cx="218.0" cy="245.5" r="3.7"/><circle class="k0" cx="361.5" cy="458.0" r="8.3"/><circle class="k3" cx="148.5" cy="392.0" r="3.5"/><circle class="k3" cx="279.5" cy="172.0" r="7.9"/><circle class="k4" cx="346.0" cy="404.5" r="10.0"/><circle class="k4" cx="149.5" cy="293.5" r="8.4"/><circle class="k0" cx="206.0" cy="279.0" r="3.5"/><circle class="k2" cx="118.0" cy="317.5" r="7.0"/><circle class="k3" cx="283.5" cy="157.0" r="9.1"/><circle class="k4" cx="174.5" cy="204.5" r="7.8"/><circle class="k3" cx="231.0" cy="234.5" r="6.7"/><circle class="k2" cx="360.5" cy="67.5" r="5.3"/><circle class="k3" cx="256.0" cy="363.5" r="7.0"/><circle class="k4" cx="303.0" cy="372.5" r="4.0"/><circle class="k3" cx="381.5" cy="127.0" r="2.1"/><circle class="k0" cx="237.0" cy="377.5" r="7.8"/><circle class="k3" cx="362.0" cy="165.0" r="8.2"/><circle class="k0" cx="281.0" cy="391.0" r="4.8"/><circle class="k3" cx="316.5" cy="87.0" r="9.1"/><circle class="k4" cx="151.0" cy="229.5" r="3.7"/><circle class="k1" cx="202.0" cy="346.5" r="10.2"/><circle class="k3" cx="210.0" cy="467.5" r="7.8"/><circle class="k4" cx="364.0" cy="62.5" r="2.1"/><circle class="k4" cx="328.0" cy="454.5" r="9.6"/><circle class="k0" cx="337.0" cy="80.5" r="9.4"/><circle class="k3" cx="248.0" cy="143.0" r="9.5"/><circle class="k4" cx="217.0" cy="457.5" r="8.4"/><circle class="k4" cx="143.0" cy="288.5" r="9.3"/><circle class="k4" cx="226.0" cy="366.5" r="7.9"/><circle class="k0" cx="228.5" cy="152.0" r="7.8"/><circle class="k2" cx="372.0" cy="504.5" r="3.0"/><circle class="k1" cx="232.5" cy="340.5" r="3.2"/><circle class="k3" cx="363.5" cy="399.5" r="3.2"/><circle class="k3" cx="224.0" cy="243.5" r="5.6"/><circle class="k2" cx="270.0" cy="393.5" r="8.1"/><circle class="k2" cx="125.5" cy="250.5" r="9.4"/><circle class="k0" cx="318.0" cy="181.5" r="10.0"/><circle class="k2" cx="168.5" cy="340.5" r="7.8"/><circle class="k1" cx="367.5" cy="174.5" r="2.4"/><circle class="k4" cx="329.0" cy="205.0" r="2.4"/><circle class="k3" cx="346.5" cy="374.0" r="2.0"/><circle class="k0" cx="175.5" cy="455.5" r="8.0"/><circle class="k0" cx="343.0" cy="360.5" r="2.1"/><circle class="k4" cx="358.0" cy="117.0" r="8.9"/><circle class="k0" cx="308.5" cy="389.5" r="8.2"/><circle class="k4" cx="325.0" cy="139.5" r="7.9"/><circle class="k1" cx="206.0" cy="479.0" r="3.5"/><circle class="k0" cx="340.0" cy="66.5" r="7.3"/><circle class="k3" cx="231.0" cy="417.0" r="10.2"/><circle class="k4" cx="151.5" cy="204.0" r="2.6"/><circle class="k2" cx="271.0" cy="467.5" r="2.8"/><circle class="k0" cx="295.0" cy="464.5" r="4.5"/><circle class="k1" cx="297.5" cy="455.0" r="6.1"/><circle class="k4" cx="301.0" cy="62.5" r="2.6"/><circle class="k0" cx="206.0" cy="288.0" r="3.5"/><circle class="k2" cx="153.0" cy="223.0" r="2.5"/><circle class="k4" cx="349.5" cy="413.0" r="9.6"/><circle class="k1" cx="335.5" cy="411.5" r="8.6"/><circle class="k1" cx="379.0" cy="111.0" r="2.8"/><circle class="k1" cx="341.5" cy="62.5" r="3.1"/><circle class="k4" cx="376.0" cy="68.0" r="2.4"/><circle class="k4" cx="302.5" cy="496.5" r="2.0"/><circle class="k4" cx="239.5" cy="431.0" r="9.2"/><circle class="k3" cx="228.5" cy="228.5" r="9.7"/><circle class="k3" cx="208.5" cy="428.0" r="7.9"/><circle class="k3" cx="157.5" cy="224.5" r="7.0"/><circle class="k0" cx="137.5" cy="334.5" r="8.7"/><circle class="k4" cx="261.5" cy="139.5" r="3.5"/><circle class="k1" cx="332.0" cy="161.0" r="9.9"/><circle class="k2" cx="177.0" cy="298.0" r="8.2"/><circle class="k2" cx="352.5" cy="500.5" r="4.8"/><circle class="k3" cx="359.5" cy="433.0" r="7.9"/><circle class="k0" cx="271.0" cy="436.0" r="3.9"/><circle class="k1" cx="318.0" cy="418.0" r="8.4"/><circle class="k1" cx="325.0" cy="413.5" r="7.7"/><circle class="k0" cx="219.0" cy="134.0" r="3.0"/><circle class="k4" cx="270.0" cy="384.0" r="4.9"/><circle class="k1" cx="231.5" cy="345.0" r="7.0"/><circle class="k4" cx="289.5" cy="444.5" r="2.6"/><circle class="k4" cx="309.5" cy="73.5" r="9.8"/><circle class="k3" cx="384.5" cy="487.0" r="2.0"/><circle class="k2" cx="167.0" cy="167.0" r="3.7"/><circle class="k3" cx="147.0" cy="302.0" r="9.2"/><circle class="k2" cx="115.0" cy="337.0" r="2.0"/><circle class="k3" cx="232.5" cy="159.5" r="10.2"/><circle class="k2" cx="326.5" cy="447.0" r="8.0"/><circle class="k0" cx="147.0" cy="356.5" r="10.1"/><circle class="k3" cx="202.0" cy="271.0" r="2.8"/><circle class="k1" cx="269.0" cy="440.0" r="2.0"/><circle class="k1" cx="240.0" cy="467.0" r="5.9"/><circle class="k1" cx="348.5" cy="83.0" r="9.7"/><circle class="k1" cx="291.0" cy="379.5" r="2.8"/><circle class="k1" cx="380.5" cy="79.5" r="5.6"/><circle class="k4" cx="133.5" cy="223.5" r="3.9"/><circle class="k4" cx="303.5" cy="487.0" r="5.3"/><circle class="k4" cx="351.5" cy="72.0" r="8.3"/><circle class="k4" cx="176.5" cy="288.5" r="8.8"/><circle class="k4" cx="389.5" cy="468.0" r="2.1"/><circle class="k3" cx="325.5" cy="201.0" r="5.9"/><circle class="k3" cx="267.0" cy="227.0" r="2.5"/><circle class="k0" cx="381.0" cy="488.0" r="5.0"/><circle class="k0" cx="304.5" cy="499.5" r="2.8"/><circle class="k2" cx="135.0" cy="358.5" r="3.9"/><circle class="k0" cx="316.5" cy="366.0" r="5.3"/><circle class="k4" cx="228.5" cy="189.5" r="8.5"/><circle class="k0" cx="298.5" cy="477.5" r="2.0"/><circle class="k3" cx="172.0" cy="440.0" r="6.6"/><circle class="k2" cx="294.0" cy="100.0" r="6.5"/><circle class="k3" cx="309.0" cy="190.0" r="9.5"/><circle class="k0" cx="218.0" cy="321.5" r="5.6"/><circle class="k4" cx="260.0" cy="381.5" r="10.0"/><circle class="k1" cx="345.5" cy="368.5" r="2.0"/><circle class="k2" cx="263.0" cy="228.5" r="2.6"/><circle class="k4" cx="385.5" cy="74.0" r="2.0"/><circle class="k3" cx="214.0" cy="327.5" r="8.6"/><circle class="k2" cx="167.5" cy="394.0" r="8.5"/><circle class="k3" cx="367.5" cy="106.5" r="9.6"/><circle class="k0" cx="314.5" cy="200.0" r="2.0"/><circle class="k4" cx="384.5" cy="81.5" r="2.0"/><circle class="k3" cx="291.0" cy="372.5" r="2.8"/><circle class="k3" cx="327.0" cy="501.0" r="3.5"/><circle class="k0" cx="295.0" cy="60.5" r="2.1"/><circle class="k3" cx="320.5" cy="198.5" r="5.7"/><circle class="k1" cx="138.0" cy="381.5" r="5.0"/><circle class="k4" cx="212.5" cy="336.0" r="7.0"/><circle class="k3" cx="273.5" cy="385.0" r="2.8"/><circle class="k4" cx="346.5" cy="464.5" r="8.5"/><circle class="k3" cx="234.5" cy="167.5" r="9.5"/><circle class="k2" cx="289.5" cy="65.5" r="5.5"/><circle class="k2" cx="342.0" cy="187.5" r="6.3"/><circle class="k3" cx="284.5" cy="142.5" r="4.4"/><circle class="k0" cx="187.0" cy="456.0" r="7.8"/><circle class="k3" cx="183.5" cy="414.5" r="8.0"/><circle class="k1" cx="307.0" cy="440.0" r="9.6"/><circle class="k3" cx="346.5" cy="381.0" r="5.9"/><circle class="k4" cx="235.5" cy="343.0" r="3.1"/><circle class="k3" cx="169.5" cy="443.0" r="2.8"/><circle class="k4" cx="290.5" cy="400.5" r="10.1"/><circle class="k0" cx="116.0" cy="333.0" r="2.5"/><circle class="k4" cx="291.0" cy="104.5" r="4.0"/><circle class="k3" cx="217.5" cy="341.5" r="5.6"/><circle class="k3" cx="145.0" cy="272.5" r="10.2"/><circle class="k1" cx="257.0" cy="477.0" r="2.4"/><circle class="k2" cx="339.5" cy="158.0" r="9.4"/><circle class="k1" cx="287.5" cy="204.0" r="5.6"/><circle class="k4" cx="122.0" cy="351.5" r="3.5"/><circle class="k4" cx="318.5" cy="501.0" r="5.5"/><circle class="k0" cx="389.5" cy="459.0" r="3.1"/><circle class="k3" cx="211.0" cy="218.5" r="8.2"/><circle class="k4" cx="277.5" cy="219.5" r="2.1"/><circle class="k0" cx="317.0" cy="171.0" r="8.9"/><circle class="k1" cx="214.5" cy="317.5" r="3.5"/><circle class="k4" cx="267.5" cy="448.5" r="3.2"/><circle class="k0" cx="296.0" cy="469.0" r="3.7"/><circle class="k4" cx="258.5" cy="135.5" r="6.0"/><circle class="k4" cx="119.5" cy="347.0" r="3.9"/><circle class="k4" cx="192.0" cy="205.5" r="9.6"/><circle class="k4" cx="179.5" cy="322.0" r="8.1"/><circle class="k4" cx="307.0" cy="491.0" r="7.7"/><circle class="k0" cx="306.0" cy="462.0" r="8.3"/><circle class="k4" cx="379.0" cy="123.5" r="6.1"/><circle class="k2" cx="226.0" cy="246.5" r="2.1"/><circle class="k1" cx="331.0" cy="419.0" r="9.9"/><circle class="k1" cx="154.5" cy="419.5" r="4.4"/><circle class="k0" cx="200.5" cy="267.0" r="3.5"/><circle class="k4" cx="118.5" cy="241.5" r="2.4"/><circle class="k0" cx="334.0" cy="476.5" r="8.9"/><circle class="k4" cx="353.5" cy="385.5" r="2.8"/><circle class="k3" cx="266.5" cy="160.5" r="8.6"/><circle class="k4" cx="214.5" cy="191.5" r="9.4"/><circle class="k0" cx="349.5" cy="504.0" r="2.6"/><circle class="k1" cx="287.0" cy="139.0" r="6.1"/><circle class="k0" cx="319.0" cy="398.5" r="8.1"/><circle class="k3" cx="301.5" cy="176.0" r="7.8"/><circle class="k0" cx="185.0" cy="460.5" r="3.5"/><circle class="k3" cx="198.0" cy="298.0" r="6.5"/><circle class="k1" cx="249.5" cy="366.5" r="3.7"/><circle class="k3" cx="129.5" cy="372.5" r="2.1"/><circle class="k1" cx="245.5" cy="132.0" r="5.2"/><circle class="k1" cx="208.0" cy="310.5" r="2.6"/><circle class="k1" cx="107.5" cy="285.0" r="3.1"/><circle class="k1" cx="116.0" cy="327.5" r="3.2"/><circle class="k4" cx="341.5" cy="385.5" r="8.1"/><circle class="k3" cx="256.0" cy="429.5" r="8.2"/><circle class="k2" cx="381.0" cy="482.5" r="3.5"/><circle class="k0" cx="364.0" cy="424.0" r="9.0"/><circle class="k0" cx="295.0" cy="191.0" r="5.6"/><circle class="k4" cx="339.0" cy="363.0" r="6.1"/><circle class="k4" cx="263.5" cy="143.5" r="2.5"/><circle class="k2" cx="254.0" cy="472.0" r="5.2"/><circle class="k3" cx="370.5" cy="164.5" r="2.4"/><circle class="k0" cx="179.0" cy="461.0" r="2.0"/><circle class="k2" cx="309.0" cy="61.0" r="2.0"/><circle class="k4" cx="196.5" cy="387.5" r="8.1"/><circle class="k0" cx="190.5" cy="470.0" r="3.1"/><circle class="k0" cx="167.5" cy="470.5" r="2.6"/><circle class="k3" cx="166.0" cy="176.5" r="2.5"/><circle class="k3" cx="358.0" cy="414.5" r="9.0"/><circle class="k0" cx="252.5" cy="360.0" r="2.1"/><circle class="k2" cx="259.5" cy="397.0" r="9.1"/><circle class="k3" cx="197.0" cy="441.5" r="8.3"/><circle class="k4" cx="150.5" cy="412.5" r="3.7"/><circle class="k0" cx="332.0" cy="382.0" r="8.9"/><circle class="k1" cx="264.0" cy="451.0" r="7.1"/><circle class="k4" cx="158.0" cy="236.0" r="10.2"/><circle class="k4" cx="231.5" cy="430.5" r="8.3"/><circle class="k1" cx="113.0" cy="277.5" r="4.6"/><circle class="k0" cx="233.0" cy="469.5" r="3.0"/><circle class="k3" cx="149.0" cy="259.0" r="9.3"/><circle class="k4" cx="290.0" cy="96.5" r="3.2"/><circle class="k4" cx="309.0" cy="505.0" r="2.4"/><circle class="k0" cx="268.0" cy="471.0" r="3.1"/><circle class="k3" cx="153.0" cy="192.0" r="3.0"/><circle class="k2" cx="270.0" cy="221.5" r="5.9"/><circle class="k4" cx="261.5" cy="367.0" r="4.8"/><circle class="k2" cx="280.5" cy="215.5" r="4.0"/><circle class="k4" cx="351.5" cy="64.5" r="2.0"/><circle class="k2" cx="348.0" cy="422.5" r="7.9"/><circle class="k1" cx="168.5" cy="367.0" r="9.3"/><circle class="k4" cx="126.5" cy="225.0" r="3.1"/><circle class="k3" cx="310.0" cy="196.5" r="3.7"/><circle class="k4" cx="138.5" cy="224.0" r="2.6"/><circle class="k1" cx="154.5" cy="215.5" r="3.0"/><circle class="k1" cx="264.0" cy="225.0" r="5.5"/><circle class="k4" cx="136.0" cy="362.5" r="2.6"/><circle class="k4" cx="206.0" cy="321.0" r="9.6"/><circle class="k2" cx="321.5" cy="203.5" r="2.0"/><circle class="k3" cx="365.5" cy="403.0" r="3.9"/><circle class="k1" cx="261.5" cy="120.0" r="5.5"/><circle class="k1" cx="270.0" cy="372.5" r="2.1"/><circle class="k4" cx="360.0" cy="72.5" r="8.8"/><circle class="k0" cx="373.0" cy="160.0" r="2.1"/><circle class="k3" cx="154.0" cy="227.5" r="4.2"/><circle class="k0" cx="223.0" cy="341.5" r="2.4"/><circle class="k1" cx="320.5" cy="380.5" r="9.5"/><circle class="k2" cx="228.5" cy="341.5" r="2.6"/><circle class="k4" cx="246.0" cy="156.5" r="9.7"/><circle class="k2" cx="239.5" cy="131.5" r="3.1"/><circle class="k0" cx="247.5" cy="128.5" r="3.8"/><circle class="k1" cx="202.5" cy="284.5" r="7.0"/><circle class="k0" cx="259.5" cy="357.5" r="3.1"/><circle class="k4" cx="323.5" cy="57.0" r="2.0"/><circle class="k2" cx="286.0" cy="188.0" r="9.6"/><circle class="k4" cx="291.5" cy="208.0" r="2.4"/><circle class="k4" cx="375.5" cy="424.5" r="2.6"/><circle class="k1" cx="383.0" cy="91.5" r="2.0"/><circle class="k1" cx="262.0" cy="116.0" r="2.4"/><circle class="k4" cx="109.5" cy="279.0" r="2.1"/><circle class="k4" cx="381.0" cy="434.5" r="3.5"/><circle class="k4" cx="126.5" cy="376.0" r="2.6"/><circle class="k4" cx="342.5" cy="365.5" r="4.5"/><circle class="k4" cx="288.0" cy="74.0" r="2.1"/><circle class="k2" cx="384.0" cy="448.5" r="8.2"/><circle class="k4" cx="161.5" cy="438.0" r="2.4"/><circle class="k0" cx="221.5" cy="320.5" r="2.0"/><circle class="k4" cx="222.5" cy="206.0" r="9.6"/><circle class="k0" cx="113.5" cy="253.0" r="4.0"/><circle class="k4" cx="132.0" cy="256.5" r="9.6"/><circle class="k4" cx="243.0" cy="223.0" r="5.2"/><circle class="k4" cx="380.0" cy="96.0" r="5.3"/><circle class="k0" cx="338.0" cy="177.5" r="7.8"/><circle class="k3" cx="273.0" cy="405.5" r="8.1"/><circle class="k4" cx="368.5" cy="481.5" r="8.8"/><circle class="k1" cx="192.0" cy="301.5" r="9.6"/><circle class="k0" cx="297.0" cy="474.0" r="2.0"/><circle class="k0" cx="278.0" cy="429.5" r="8.9"/><circle class="k0" cx="184.5" cy="161.5" r="6.4"/><circle class="k1" cx="275.5" cy="413.5" r="9.5"/><circle class="k4" cx="296.0" cy="381.0" r="5.0"/><circle class="k3" cx="357.0" cy="394.5" r="2.4"/><circle class="k4" cx="288.0" cy="128.5" r="2.1"/><circle class="k2" cx="303.0" cy="425.5" r="7.7"/><circle class="k4" cx="370.5" cy="416.5" r="4.0"/><circle class="k0" cx="380.0" cy="477.0" r="3.2"/><circle class="k4" cx="201.0" cy="301.5" r="4.5"/><circle class="k4" cx="372.5" cy="141.0" r="5.0"/><circle class="k4" cx="356.0" cy="464.0" r="8.6"/><circle class="k3" cx="122.0" cy="243.5" r="6.0"/><circle class="k4" cx="165.0" cy="172.0" r="2.4"/><circle class="k4" cx="147.0" cy="248.0" r="9.2"/><circle class="k4" cx="214.5" cy="432.5" r="9.2"/><circle class="k1" cx="357.5" cy="159.0" r="7.9"/><circle class="k2" cx="369.0" cy="405.5" r="2.8"/><circle class="k1" cx="227.5" cy="130.5" r="2.0"/><circle class="k3" cx="252.0" cy="222.5" r="4.5"/><circle class="k2" cx="337.0" cy="191.5" r="5.9"/><circle class="k4" cx="181.0" cy="229.0" r="8.1"/><circle class="k4" cx="152.0" cy="208.0" r="2.4"/><circle class="k4" cx="336.5" cy="502.5" r="5.9"/><circle class="k4" cx="300.0" cy="481.0" r="2.8"/><circle class="k3" cx="287.5" cy="69.0" r="3.9"/><circle class="k4" cx="216.5" cy="149.5" r="9.0"/><circle class="k4" cx="284.0" cy="440.5" r="2.4"/><circle class="k4" cx="372.0" cy="423.5" r="5.3"/><circle class="k3" cx="238.5" cy="471.0" r="2.5"/><circle class="k1" cx="260.5" cy="362.0" r="4.0"/><circle class="k1" cx="130.0" cy="222.5" r="2.1"/><circle class="k0" cx="213.5" cy="472.0" r="2.6"/><circle class="k2" cx="367.5" cy="65.0" r="4.5"/><circle class="k2" cx="274.0" cy="462.5" r="2.0"/><circle class="k3" cx="119.5" cy="267.5" r="9.8"/><circle class="k1" cx="389.0" cy="463.0" r="3.5"/><circle class="k0" cx="299.0" cy="155.0" r="8.6"/><circle class="k3" cx="316.0" cy="505.0" r="2.4"/><circle class="k1" cx="292.0" cy="213.5" r="2.0"/><circle class="k4" cx="228.0" cy="242.5" r="3.1"/><circle class="k0" cx="233.5" cy="369.0" r="4.8"/><circle class="k2" cx="252.5" cy="127.5" r="4.5"/><circle class="k3" cx="191.0" cy="167.5" r="9.6"/><circle class="k4" cx="148.5" cy="402.5" r="2.5"/><circle class="k4" cx="278.5" cy="149.0" r="2.4"/><circle class="k1" cx="381.0" cy="115.0" r="3.8"/><circle class="k4" cx="255.5" cy="124.5" r="2.5"/><circle class="k2" cx="185.5" cy="217.0" r="7.9"/><circle class="k1" cx="271.0" cy="380.0" r="2.0"/><circle class="k1" cx="140.5" cy="234.5" r="7.7"/><circle class="k4" cx="236.5" cy="185.5" r="8.8"/><circle class="k4" cx="292.5" cy="74.0" r="6.1"/><circle class="k3" cx="291.0" cy="198.0" r="3.9"/><circle class="k3" cx="147.5" cy="407.0" r="2.0"/><circle class="k3" cx="228.0" cy="360.0" r="5.7"/><circle class="k4" cx="153.0" cy="329.0" r="8.6"/><circle class="k0" cx="374.5" cy="132.0" r="4.2"/><circle class="k1" cx="360.0" cy="397.5" r="3.2"/><circle class="k3" cx="210.0" cy="242.5" r="2.0"/><circle class="k2" cx="270.0" cy="456.5" r="3.5"/><circle class="k2" cx="115.5" cy="321.5" r="3.5"/><circle class="k2" cx="185.0" cy="147.0" r="2.0"/><circle class="k4" cx="119.5" cy="330.5" r="6.1"/><circle class="k3" cx="334.0" cy="58.5" r="2.0"/><circle class="k0" cx="153.5" cy="212.0" r="3.0"/><circle class="k0" cx="204.0" cy="249.0" r="2.8"/><circle class="k0" cx="336.5" cy="88.5" r="10.0"/><circle class="k0" cx="184.0" cy="152.5" r="2.0"/><circle class="k4" cx="285.5" cy="209.0" r="8.3"/><circle class="k3" cx="102.5" cy="295.0" r="3.0"/><circle class="k3" cx="200.5" cy="260.0" r="2.5"/><circle class="k1" cx="287.5" cy="374.5" r="3.2"/><circle class="k1" cx="334.5" cy="197.5" r="4.2"/><circle class="k1" cx="294.0" cy="459.5" r="3.0"/><circle class="k3" cx="125.0" cy="234.5" r="3.0"/><circle class="k4" cx="196.5" cy="368.0" r="9.1"/><circle class="k2" cx="353.5" cy="167.5" r="8.6"/><circle class="k4" cx="155.5" cy="301.5" r="8.3"/><circle class="k3" cx="381.0" cy="83.5" r="3.5"/><circle class="k4" cx="127.5" cy="356.0" r="2.6"/><circle class="k4" cx="134.0" cy="381.5" r="3.7"/><circle class="k3" cx="204.5" cy="312.5" r="6.6"/><circle class="k1" cx="247.0" cy="213.5" r="10.1"/><circle class="k2" cx="319.0" cy="58.0" r="2.6"/><circle class="k4" cx="333.5" cy="203.0" r="2.6"/><circle class="k0" cx="235.5" cy="401.0" r="9.2"/><circle class="k4" cx="291.0" cy="61.0" r="2.1"/><circle class="k0" cx="336.0" cy="394.0" r="7.9"/><circle class="k0" cx="263.0" cy="389.0" r="9.6"/><circle class="k2" cx="358.5" cy="143.5" r="8.0"/><circle class="k4" cx="311.0" cy="366.5" r="3.7"/><circle class="k3" cx="182.0" cy="243.0" r="8.3"/><circle class="k4" cx="312.5" cy="62.0" r="3.5"/><circle class="k4" cx="155.5" cy="391.0" r="8.2"/><circle class="k3" cx="234.5" cy="385.0" r="7.8"/><circle class="k1" cx="331.0" cy="374.0" r="9.1"/><circle class="k4" cx="287.5" cy="150.0" r="9.6"/><circle class="k3" cx="218.0" cy="138.5" r="2.5"/><circle class="k3" cx="362.5" cy="84.5" r="8.2"/><circle class="k4" cx="308.5" cy="88.0" r="7.7"/><circle class="k3" cx="218.0" cy="316.5" r="2.0"/><circle class="k3" cx="232.0" cy="360.5" r="2.0"/><circle class="k2" cx="353.0" cy="152.5" r="10.2"/><circle class="k4" cx="204.5" cy="303.5" r="2.1"/><circle class="k0" cx="188.5" cy="466.5" r="2.8"/><circle class="k0" cx="351.0" cy="433.5" r="10.1"/><circle class="k4" cx="178.0" cy="408.0" r="7.8"/><circle class="k4" cx="117.0" cy="251.5" r="7.5"/><circle class="k2" cx="385.5" cy="470.5" r="4.2"/><circle class="k4" cx="375.0" cy="111.0" r="6.6"/><circle class="k1" cx="244.5" cy="378.0" r="9.5"/><circle class="k4" cx="148.5" cy="396.5" r="2.4"/><circle class="k3" cx="375.5" cy="488.5" r="7.8"/><circle class="k4" cx="265.5" cy="124.0" r="2.0"/><circle class="k2" cx="293.5" cy="126.0" r="5.1"/><circle class="k1" cx="251.5" cy="363.5" r="3.5"/><circle class="k1" cx="385.5" cy="459.5" r="7.1"/><circle class="k1" cx="201.5" cy="296.0" r="3.7"/><circle class="k0" cx="335.0" cy="73.0" r="8.1"/><circle class="k2" cx="386.5" cy="438.0" r="2.5"/><circle class="k3" cx="215.0" cy="468.0" r="4.2"/><circle class="k1" cx="378.0" cy="104.5" r="4.8"/><circle class="k2" cx="237.0" cy="368.0" r="2.0"/><circle class="k4" cx="261.5" cy="478.5" r="2.4"/><circle class="k3" cx="342.0" cy="192.0" r="2.6"/><circle class="k3" cx="263.5" cy="364.0" r="2.0"/><circle class="k4" cx="290.0" cy="100.5" r="2.5"/><circle class="k2" cx="181.0" cy="429.5" r="9.6"/><circle class="k2" cx="342.5" cy="373.0" r="5.5"/><circle class="k0" cx="161.0" cy="349.5" r="10.3"/><circle class="k1" cx="370.0" cy="181.5" r="2.0"/><circle class="k1" cx="327.5" cy="112.0" r="7.8"/><circle class="k0" cx="145.5" cy="372.0" r="9.1"/><circle class="k3" cx="282.5" cy="395.5" r="8.0"/><circle class="k4" cx="209.5" cy="393.5" r="10.2"/><circle class="k1" cx="356.0" cy="67.0" r="3.5"/><circle class="k3" cx="111.5" cy="256.0" r="2.0"/><circle class="k0" cx="345.5" cy="505.0" r="3.0"/><circle class="k4" cx="286.0" cy="134.0" r="4.2"/><circle class="k4" cx="192.5" cy="417.5" r="9.4"/><circle class="k4" cx="258.5" cy="226.5" r="2.6"/><circle class="k1" cx="265.5" cy="146.5" r="3.0"/><circle class="k2" cx="219.0" cy="181.5" r="7.8"/><circle class="k3" cx="265.0" cy="368.5" r="2.8"/><circle class="k1" cx="279.0" cy="192.0" r="8.1"/><circle class="k3" cx="365.0" cy="407.0" r="6.7"/><circle class="k4" cx="299.5" cy="193.5" r="2.4"/><circle class="k3" cx="106.5" cy="293.5" r="6.3"/><circle class="k3" cx="167.5" cy="181.0" r="6.4"/><circle class="k2" cx="199.0" cy="148.0" r="3.2"/><circle class="k0" cx="220.5" cy="381.5" r="8.4"/><circle class="k1" cx="288.0" cy="387.0" r="2.1"/><circle class="k1" cx="268.0" cy="191.5" r="9.1"/><circle class="k0" cx="374.0" cy="145.5" r="3.5"/><circle class="k3" cx="378.0" cy="129.5" r="3.1"/><circle class="k1" cx="232.0" cy="364.5" r="2.1"/><circle class="k0" cx="336.0" cy="63.0" r="5.6"/><circle class="k0" cx="269.0" cy="452.0" r="2.5"/><circle class="k3" cx="159.0" cy="207.5" r="9.1"/><circle class="k4" cx="370.0" cy="501.0" r="6.9"/><circle class="k2" cx="245.5" cy="465.5" r="6.0"/><circle class="k0" cx="173.5" cy="460.5" r="5.7"/><circle class="k0" cx="359.5" cy="181.0" r="5.2"/><circle class="k2" cx="309.0" cy="130.5" r="7.9"/><circle class="k0" cx="388.0" cy="451.0" r="3.5"/><circle class="k3" cx="213.5" cy="243.5" r="2.8"/><circle class="k4" cx="326.5" cy="464.5" r="7.8"/><circle class="k3" cx="334.0" cy="362.0" r="2.4"/><circle class="k4" cx="206.5" cy="283.0" r="3.0"/><circle class="k3" cx="160.0" cy="186.0" r="6.6"/><circle class="k1" cx="395.0" cy="442.5" r="2.6"/><circle class="k4" cx="170.5" cy="311.5" r="9.8"/><circle class="k3" cx="347.0" cy="184.0" r="7.3"/><circle class="k3" cx="344.0" cy="479.5" r="9.1"/><circle class="k4" cx="304.0" cy="399.5" r="9.1"/><circle class="k3" cx="249.5" cy="125.5" r="2.0"/><circle class="k3" cx="186.5" cy="253.5" r="7.8"/><circle class="k4" cx="263.5" cy="133.5" r="2.0"/><circle class="k1" cx="201.0" cy="251.5" r="4.6"/><circle class="k3" cx="377.0" cy="75.5" r="6.7"/><circle class="k2" cx="330.0" cy="364.0" r="2.4"/><circle class="k3" cx="212.5" cy="166.0" r="8.0"/><circle class="k3" cx="342.5" cy="118.5" r="7.9"/><circle class="k1" cx="274.5" cy="221.5" r="2.8"/><circle class="k0" cx="307.5" cy="432.0" r="8.8"/><circle class="k0" cx="361.0" cy="447.0" r="8.6"/><circle class="k4" cx="290.5" cy="84.0" r="3.0"/><circle class="k0" cx="336.5" cy="507.0" r="2.1"/><circle class="k1" cx="283.5" cy="218.0" r="2.0"/><circle class="k4" cx="293.0" cy="384.0" r="2.1"/><circle class="k4" cx="382.5" cy="491.5" r="3.0"/><circle class="k4" cx="317.0" cy="428.5" r="7.8"/><circle class="k2" cx="292.0" cy="451.0" r="2.0"/><circle class="k1" cx="297.0" cy="64.0" r="5.0"/><circle class="k3" cx="342.0" cy="501.5" r="6.7"/><circle class="k0" cx="181.0" cy="457.0" r="6.1"/><circle class="k1" cx="264.5" cy="440.0" r="5.3"/><circle class="k2" cx="302.5" cy="162.5" r="7.9"/><circle class="k1" cx="118.5" cy="324.5" r="6.0"/><circle class="k4" cx="146.0" cy="388.0" r="2.0"/><circle class="k3" cx="181.0" cy="386.5" r="8.2"/><circle class="k1" cx="344.5" cy="65.0" r="4.4"/><circle class="k4" cx="284.5" cy="165.0" r="8.6"/><circle class="k3" cx="212.5" cy="320.5" r="6.6"/><circle class="k3" cx="153.0" cy="275.5" r="9.7"/><circle class="k3" cx="284.0" cy="137.0" r="3.0"/><circle class="k3" cx="165.0" cy="334.0" r="8.8"/><circle class="k4" cx="175.0" cy="280.0" r="7.8"/><circle class="k3" cx="202.0" cy="256.5" r="2.0"/><circle class="k4" cx="300.0" cy="485.5" r="2.0"/><circle class="k0" cx="367.0" cy="166.0" r="4.6"/><circle class="k2" cx="172.5" cy="215.5" r="7.9"/><circle class="k2" cx="179.5" cy="162.5" r="5.3"/><circle class="k1" cx="288.5" cy="92.5" r="2.5"/><circle class="k2" cx="255.5" cy="356.5" r="2.1"/><circle class="k1" cx="248.5" cy="460.0" r="8.3"/><circle class="k1" cx="166.0" cy="456.5" r="2.4"/><circle class="k2" cx="372.0" cy="135.0" r="6.0"/><circle class="k2" cx="229.5" cy="445.0" r="8.0"/><circle class="k0" cx="361.5" cy="504.5" r="2.1"/><circle class="k2" cx="238.5" cy="202.5" r="8.3"/><circle class="k0" cx="111.0" cy="309.5" r="5.3"/><circle class="k4" cx="154.0" cy="219.5" r="3.0"/><circle class="k0" cx="345.0" cy="190.0" r="2.6"/><circle class="k1" cx="293.5" cy="455.5" r="2.1"/><circle class="k4" cx="151.5" cy="416.5" r="2.8"/><circle class="k2" cx="371.5" cy="413.0" r="2.5"/><circle class="k0" cx="112.0" cy="249.0" r="2.1"/><circle class="k4" cx="212.5" cy="410.5" r="9.9"/><circle class="k0" cx="179.5" cy="337.5" r="7.8"/><circle class="k4" cx="153.5" cy="251.5" r="7.8"/><circle class="k3" cx="115.0" cy="263.5" r="5.0"/><circle class="k3" cx="325.0" cy="61.5" r="6.5"/><circle class="k3" cx="113.5" cy="318.5" r="2.6"/><circle class="k0" cx="306.0" cy="370.5" r="3.8"/><circle class="k1" cx="291.0" cy="202.5" r="2.0"/><circle class="k4" cx="221.0" cy="466.0" r="2.1"/><circle class="k1" cx="233.0" cy="141.5" r="7.8"/><circle class="k0" cx="187.5" cy="155.5" r="5.6"/><circle class="k3" cx="259.0" cy="415.5" r="7.8"/><circle class="k4" cx="198.5" cy="201.5" r="7.7"/><circle class="k4" cx="214.0" cy="365.5" r="9.4"/><circle class="k1" cx="374.0" cy="177.5" r="2.1"/><circle class="k1" cx="318.5" cy="363.0" r="2.0"/><circle class="k1" cx="243.5" cy="470.0" r="2.0"/><circle class="k1" cx="371.5" cy="409.0" r="2.0"/><circle class="k4" cx="187.0" cy="271.0" r="8.2"/><circle class="k4" cx="306.5" cy="182.5" r="8.2"/><circle class="k4" cx="176.5" cy="160.0" r="2.0"/><circle class="k0" cx="257.5" cy="120.5" r="2.0"/><circle class="k1" cx="124.0" cy="354.5" r="2.1"/><circle class="k3" cx="130.5" cy="226.5" r="6.1"/><circle class="k4" cx="293.0" cy="376.0" r="6.7"/><circle class="k4" cx="171.0" cy="164.5" r="3.5"/><circle class="k0" cx="369.0" cy="459.5" r="7.8"/><circle class="k0" cx="364.5" cy="466.0" r="7.8"/><circle class="k2" cx="265.0" cy="118.5" r="2.0"/><circle class="k1" cx="294.0" cy="370.5" r="2.0"/><circle class="k4" cx="219.5" cy="338.5" r="2.1"/><circle class="k3" cx="329.5" cy="123.0" r="7.9"/><circle class="k3" cx="200.5" cy="360.0" r="8.2"/><circle class="k2" cx="313.5" cy="363.5" r="2.0"/><circle class="k3" cx="219.0" cy="332.5" r="2.0"/><circle class="k4" cx="181.0" cy="182.0" r="7.8"/><circle class="k0" cx="195.0" cy="139.0" r="2.0"/><circle class="k3" cx="299.5" cy="370.5" r="2.0"/><circle class="k4" cx="382.0" cy="75.5" r="4.0"/><circle class="k3" cx="320.5" cy="70.0" r="8.0"/><circle class="k4" cx="331.5" cy="491.5" r="7.9"/><circle class="k0" cx="196.0" cy="469.5" r="5.7"/><circle class="k4" cx="382.5" cy="496.0" r="2.0"/><circle class="k4" cx="259.5" cy="408.0" r="10.2"/><circle class="k3" cx="272.0" cy="432.0" r="6.8"/><circle class="k0" cx="315.0" cy="158.0" r="8.7"/><circle class="k3" cx="201.5" cy="263.5" r="2.0"/><circle class="k3" cx="202.5" cy="147.0" r="2.1"/><circle class="k2" cx="318.0" cy="201.5" r="2.0"/><circle class="k0" cx="240.5" cy="218.5" r="8.2"/><circle class="k2" cx="248.0" cy="224.5" r="2.0"/><circle class="k4" cx="377.0" cy="84.0" r="7.5"/><circle class="k3" cx="258.5" cy="117.0" r="2.0"/><circle class="k0" cx="356.0" cy="497.5" r="7.0"/><circle class="k0" cx="308.0" cy="473.0" r="8.5"/><circle class="k3" cx="364.5" cy="177.0" r="6.0"/><circle class="k4" cx="250.5" cy="473.0" r="2.1"/><circle class="k3" cx="207.5" cy="245.5" r="2.0"/><circle class="k4" cx="171.0" cy="196.0" r="7.9"/><circle class="k4" cx="376.0" cy="504.5" r="2.0"/><circle class="k1" cx="287.0" cy="113.0" r="2.0"/><circle class="k4" cx="287.5" cy="62.5" r="2.0"/><circle class="k2" cx="260.0" cy="155.5" r="7.9"/><circle class="k3" cx="279.0" cy="387.5" r="2.0"/><circle class="k1" cx="309.0" cy="112.5" r="8.0"/><circle class="k3" cx="350.0" cy="383.5" r="4.5"/><circle class="k3" cx="235.5" cy="231.0" r="5.9"/><circle class="k3" cx="222.5" cy="139.5" r="7.1"/><circle class="k4" cx="274.0" cy="150.5" r="3.7"/><circle class="k3" cx="235.5" cy="438.0" r="9.7"/><circle class="k1" cx="223.5" cy="414.0" r="9.4"/><circle class="k2" cx="283.0" cy="435.0" r="6.4"/><circle class="k3" cx="391.0" cy="74.5" r="2.0"/><circle class="k0" cx="244.5" cy="226.5" r="2.1"/><circle class="k4" cx="327.5" cy="57.0" r="2.0"/><circle class="k2" cx="325.0" cy="205.0" r="2.4"/><circle class="k1" cx="386.0" cy="78.0" r="4.4"/><circle class="k3" cx="306.5" cy="496.5" r="5.6"/><circle class="k4" cx="172.5" cy="388.5" r="7.9"/><circle class="k4" cx="194.0" cy="188.0" r="7.9"/><circle class="k3" cx="251.5" cy="396.5" r="9.7"/><circle class="k2" cx="192.5" cy="312.5" r="9.4"/><circle class="k3" cx="312.5" cy="506.0" r="2.5"/><circle class="k3" cx="320.5" cy="504.0" r="2.0"/><circle class="k2" cx="253.5" cy="476.0" r="2.0"/><circle class="k3" cx="328.0" cy="99.0" r="9.7"/><circle class="k1" cx="291.5" cy="108.5" r="5.3"/><circle class="k4" cx="263.0" cy="178.5" r="8.8"/><circle class="k0" cx="349.5" cy="137.5" r="8.0"/><circle class="k2" cx="243.5" cy="437.5" r="7.8"/><circle class="k3" cx="380.0" cy="107.5" r="2.0"/><circle class="k1" cx="166.5" cy="420.5" r="7.9"/><circle class="k0" cx="115.0" cy="257.0" r="5.5"/><circle class="k4" cx="134.5" cy="271.0" r="8.0"/><circle class="k1" cx="163.5" cy="195.0" r="7.9"/><circle class="k0" cx="335.5" cy="131.5" r="8.1"/><circle class="k4" cx="171.5" cy="251.5" r="7.9"/><circle class="k0" cx="303.5" cy="104.0" r="8.1"/><circle class="k4" cx="298.5" cy="385.5" r="7.5"/></g><g class="sp" filter="url(#lt)"><circle class="s2" cx="140.0" cy="375.0" r="7.7"/><circle class="s3" cx="365.0" cy="502.0" r="6.1"/><circle class="s2" cx="235.5" cy="404.5" r="5.9"/><circle class="s2" cx="155.5" cy="295.5" r="10.9"/><circle class="s3" cx="289.5" cy="115.5" r="3.7"/><circle class="s3" cx="154.5" cy="270.0" r="9.4"/><circle class="s0" cx="260.5" cy="442.0" r="8.8"/><circle class="s0" cx="176.0" cy="328.5" r="5.8"/><circle class="s0" cx="182.0" cy="423.0" r="6.2"/><circle class="s3" cx="268.0" cy="398.0" r="6.5"/><circle class="s2" cx="246.0" cy="188.0" r="6.0"/><circle class="s0" cx="230.5" cy="231.5" r="8.0"/><circle class="s1" cx="131.0" cy="301.5" r="10.4"/><circle class="s0" cx="163.5" cy="346.0" r="6.8"/><circle class="s2" cx="363.0" cy="412.0" r="7.9"/><circle class="s2" cx="329.0" cy="116.5" r="9.3"/><circle class="s1" cx="194.0" cy="393.5" r="7.1"/><circle class="s0" cx="308.0" cy="88.0" r="8.3"/><circle class="s0" cx="298.0" cy="179.0" r="9.9"/><circle class="s2" cx="157.5" cy="410.0" r="5.7"/><circle class="s0" cx="282.0" cy="211.0" r="6.6"/><circle class="s1" cx="129.5" cy="258.0" r="7.7"/><circle class="s1" cx="250.0" cy="380.0" r="8.2"/><circle class="s2" cx="231.5" cy="368.5" r="5.8"/><circle class="s0" cx="169.0" cy="274.0" r="7.7"/><circle class="s0" cx="118.5" cy="328.0" r="5.7"/><circle class="s3" cx="128.0" cy="320.5" r="10.1"/><circle class="s3" cx="330.5" cy="190.5" r="5.8"/><circle class="s0" cx="309.0" cy="164.5" r="7.1"/><circle class="s1" cx="321.5" cy="368.5" r="5.9"/><circle class="s3" cx="254.5" cy="421.0" r="11.0"/><circle class="s0" cx="212.0" cy="451.0" r="9.7"/><circle class="s3" cx="367.0" cy="85.5" r="6.8"/><circle class="s1" cx="351.5" cy="461.0" r="7.3"/><circle class="s0" cx="378.5" cy="87.5" r="6.4"/><circle class="s2" cx="322.0" cy="70.0" r="7.1"/><circle class="s2" cx="194.5" cy="428.0" r="9.9"/><circle class="s2" cx="328.0" cy="488.0" r="9.5"/><circle class="s0" cx="156.5" cy="314.0" r="6.5"/><circle class="s1" cx="264.0" cy="126.5" r="3.7"/><circle class="s2" cx="234.5" cy="342.5" r="3.7"/><circle class="s2" cx="222.5" cy="456.5" r="5.8"/><circle class="s0" cx="284.0" cy="143.0" r="4.2"/><circle class="s3" cx="311.5" cy="68.5" r="5.8"/><circle class="s1" cx="161.5" cy="390.0" r="7.3"/><circle class="s3" cx="181.0" cy="339.5" r="9.6"/><circle class="s2" cx="272.0" cy="166.0" r="8.2"/><circle class="s0" cx="337.0" cy="471.0" r="11.0"/><circle class="s0" cx="356.5" cy="116.0" r="8.0"/><circle class="s2" cx="141.5" cy="285.0" r="7.1"/><circle class="s0" cx="332.5" cy="199.5" r="5.5"/><circle class="s0" cx="206.0" cy="402.0" r="9.3"/><circle class="s1" cx="199.5" cy="439.0" r="9.4"/><circle class="s1" cx="348.5" cy="101.5" r="8.8"/><circle class="s1" cx="338.5" cy="137.0" r="6.3"/><circle class="s2" cx="269.5" cy="414.0" r="10.4"/><circle class="s3" cx="357.5" cy="419.5" r="6.7"/><circle class="s1" cx="127.5" cy="248.5" r="10.1"/><circle class="s2" cx="316.5" cy="123.0" r="10.6"/><circle class="s3" cx="215.0" cy="461.0" r="6.1"/><circle class="s0" cx="389.0" cy="466.0" r="3.2"/><circle class="s0" cx="276.5" cy="435.5" r="3.0"/><circle class="s0" cx="329.0" cy="126.5" r="6.2"/><circle class="s0" cx="260.0" cy="118.0" r="3.9"/><circle class="s2" cx="261.0" cy="471.0" r="7.6"/><circle class="s1" cx="304.5" cy="430.5" r="5.8"/><circle class="s0" cx="193.0" cy="330.0" r="6.2"/><circle class="s0" cx="249.0" cy="201.0" r="7.1"/><circle class="s3" cx="203.0" cy="392.5" r="7.0"/><circle class="s2" cx="332.0" cy="420.0" r="6.2"/><circle class="s2" cx="129.5" cy="374.5" r="3.7"/><circle class="s0" cx="318.0" cy="416.5" r="9.6"/><circle class="s1" cx="130.5" cy="330.0" r="8.4"/><circle class="s2" cx="273.5" cy="198.5" r="10.2"/><circle class="s3" cx="242.0" cy="161.0" r="5.9"/><circle class="s3" cx="347.0" cy="411.0" r="10.3"/><circle class="s1" cx="290.0" cy="159.0" r="9.6"/><circle class="s2" cx="159.5" cy="213.0" r="7.9"/><circle class="s0" cx="227.0" cy="414.0" r="5.9"/><circle class="s1" cx="222.5" cy="371.0" r="6.7"/><circle class="s2" cx="299.0" cy="142.0" r="8.0"/><circle class="s3" cx="208.5" cy="180.0" r="8.7"/><circle class="s3" cx="316.5" cy="394.0" r="9.1"/><circle class="s3" cx="171.5" cy="242.0" r="7.6"/><circle class="s0" cx="271.5" cy="179.0" r="8.3"/><circle class="s1" cx="359.0" cy="155.5" r="8.3"/><circle class="s2" cx="208.0" cy="369.0" r="7.3"/><circle class="s3" cx="365.5" cy="163.5" r="7.5"/><circle class="s3" cx="237.0" cy="191.0" r="5.9"/><circle class="s3" cx="276.5" cy="425.5" r="9.5"/><circle class="s0" cx="181.0" cy="219.0" r="6.0"/><circle class="s2" cx="203.0" cy="281.5" r="6.7"/><circle class="s1" cx="359.0" cy="473.0" r="10.0"/><circle class="s1" cx="196.5" cy="166.0" r="6.3"/><circle class="s0" cx="168.5" cy="184.0" r="9.7"/><circle class="s2" cx="325.5" cy="425.0" r="9.4"/><circle class="s1" cx="302.5" cy="462.0" r="10.1"/><circle class="s0" cx="377.5" cy="483.5" r="7.2"/><circle class="s0" cx="142.5" cy="333.5" r="6.8"/><circle class="s3" cx="209.5" cy="470.5" r="7.1"/><circle class="s2" cx="303.0" cy="110.5" r="7.1"/><circle class="s2" cx="179.5" cy="284.0" r="6.6"/><circle class="s0" cx="307.5" cy="384.5" r="8.9"/><circle class="s0" cx="150.5" cy="326.5" r="5.8"/><circle class="s1" cx="201.0" cy="188.0" r="8.9"/><circle class="s0" cx="329.0" cy="80.0" r="9.2"/><circle class="s1" cx="328.5" cy="393.5" r="8.6"/><circle class="s3" cx="218.5" cy="350.0" r="7.8"/><circle class="s2" cx="218.5" cy="420.0" r="6.4"/><circle class="s0" cx="204.0" cy="357.5" r="8.1"/><circle class="s0" cx="271.0" cy="153.0" r="7.7"/><circle class="s3" cx="315.0" cy="145.0" r="6.1"/><circle class="s3" cx="304.0" cy="123.0" r="5.9"/><circle class="s0" cx="330.5" cy="411.5" r="6.6"/><circle class="s2" cx="371.5" cy="490.5" r="6.6"/><circle class="s3" cx="318.5" cy="476.5" r="7.8"/><circle class="s2" cx="323.5" cy="496.0" r="6.4"/><circle class="s3" cx="201.5" cy="348.0" r="5.7"/><circle class="s1" cx="361.5" cy="452.5" r="10.0"/><circle class="s0" cx="189.0" cy="225.0" r="10.5"/><circle class="s2" cx="224.0" cy="196.5" r="7.9"/><circle class="s3" cx="287.5" cy="391.0" r="5.2"/><circle class="s0" cx="291.5" cy="408.0" r="7.2"/><circle class="s1" cx="123.0" cy="311.0" r="8.1"/><circle class="s1" cx="322.5" cy="458.5" r="10.6"/><circle class="s1" cx="208.5" cy="194.0" r="11.0"/><circle class="s3" cx="193.0" cy="409.0" r="6.1"/><circle class="s2" cx="252.5" cy="170.5" r="6.1"/><circle class="s1" cx="220.0" cy="230.5" r="10.5"/><circle class="s3" cx="171.0" cy="368.0" r="10.3"/><circle class="s0" cx="194.5" cy="304.5" r="5.9"/><circle class="s0" cx="352.0" cy="468.5" r="5.9"/><circle class="s0" cx="258.0" cy="400.5" r="10.4"/><circle class="s3" cx="306.0" cy="155.0" r="10.6"/><circle class="s2" cx="202.5" cy="454.0" r="6.3"/><circle class="s2" cx="385.5" cy="458.5" r="7.2"/><circle class="s0" cx="166.0" cy="295.0" r="8.8"/><circle class="s2" cx="241.5" cy="424.0" r="9.0"/><circle class="s3" cx="168.5" cy="418.5" r="9.8"/><circle class="s0" cx="192.0" cy="318.5" r="10.9"/><circle class="s0" cx="185.5" cy="241.0" r="8.0"/><circle class="s1" cx="201.5" cy="150.5" r="5.7"/><circle class="s2" cx="237.0" cy="460.5" r="5.9"/><circle class="s1" cx="211.5" cy="169.5" r="6.6"/><circle class="s1" cx="192.0" cy="356.0" r="6.4"/><circle class="s1" cx="317.5" cy="487.5" r="9.9"/><circle class="s1" cx="305.0" cy="493.0" r="5.5"/><circle class="s2" cx="260.5" cy="181.0" r="7.6"/><circle class="s1" cx="254.0" cy="159.0" r="6.4"/><circle class="s2" cx="319.5" cy="436.5" r="8.8"/><circle class="s0" cx="250.5" cy="214.0" r="9.8"/><circle class="s0" cx="111.0" cy="297.0" r="5.7"/><circle class="s3" cx="318.5" cy="112.0" r="7.8"/><circle class="s1" cx="136.0" cy="316.5" r="6.8"/><circle class="s2" cx="267.0" cy="212.0" r="6.3"/><circle class="s3" cx="172.5" cy="388.0" r="8.2"/><circle class="s3" cx="130.5" cy="355.5" r="4.6"/><circle class="s3" cx="341.0" cy="499.0" r="9.1"/><circle class="s3" cx="241.5" cy="397.5" r="6.3"/><circle class="s3" cx="189.5" cy="276.0" r="7.1"/><circle class="s2" cx="176.0" cy="170.0" r="5.8"/><circle class="s2" cx="338.5" cy="92.0" r="6.8"/><circle class="s1" cx="356.0" cy="137.5" r="8.7"/><circle class="s3" cx="257.5" cy="193.5" r="10.6"/><circle class="s2" cx="122.5" cy="294.0" r="8.3"/><circle class="s2" cx="227.0" cy="427.5" r="7.8"/><circle class="s0" cx="218.0" cy="331.5" r="3.4"/><circle class="s3" cx="266.5" cy="437.0" r="5.9"/><circle class="s0" cx="339.5" cy="425.5" r="7.6"/><circle class="s1" cx="203.0" cy="423.0" r="6.1"/><circle class="s0" cx="166.0" cy="471.0" r="3.0"/><circle class="s2" cx="365.5" cy="104.5" r="10.2"/><circle class="s2" cx="339.0" cy="182.0" r="5.9"/><circle class="s2" cx="379.5" cy="431.0" r="3.0"/><circle class="s1" cx="338.5" cy="77.5" r="5.8"/><circle class="s2" cx="295.5" cy="116.0" r="5.7"/><circle class="s3" cx="320.0" cy="80.0" r="5.8"/><circle class="s2" cx="131.5" cy="230.0" r="5.8"/><circle class="s0" cx="328.5" cy="62.0" r="6.7"/><circle class="s1" cx="342.5" cy="454.5" r="7.2"/><circle class="s0" cx="264.5" cy="474.5" r="3.3"/><circle class="s0" cx="336.5" cy="367.5" r="7.2"/><circle class="s2" cx="170.0" cy="335.0" r="6.2"/><circle class="s3" cx="381.5" cy="84.0" r="3.2"/><circle class="s2" cx="296.5" cy="442.0" r="5.8"/><circle class="s2" cx="184.5" cy="328.0" r="8.3"/><circle class="s2" cx="250.0" cy="465.5" r="7.3"/><circle class="s2" cx="366.0" cy="127.0" r="7.9"/><circle class="s3" cx="228.5" cy="186.0" r="6.3"/><circle class="s1" cx="364.0" cy="180.0" r="3.9"/><circle class="s1" cx="234.5" cy="214.5" r="7.0"/><circle class="s2" cx="157.0" cy="376.0" r="6.5"/><circle class="s2" cx="217.5" cy="386.0" r="9.8"/><circle class="s3" cx="369.5" cy="97.0" r="6.5"/><circle class="s1" cx="245.5" cy="412.0" r="5.7"/><circle class="s3" cx="315.5" cy="171.0" r="6.3"/><circle class="s2" cx="152.5" cy="257.5" r="7.5"/><circle class="s3" cx="221.0" cy="157.0" r="6.2"/><circle class="s1" cx="219.0" cy="205.5" r="9.8"/><circle class="s1" cx="289.5" cy="72.5" r="4.4"/><circle class="s3" cx="237.5" cy="449.0" r="6.9"/><circle class="s3" cx="352.0" cy="78.0" r="5.9"/><circle class="s2" cx="193.0" cy="156.0" r="6.6"/><circle class="s2" cx="164.0" cy="399.0" r="6.3"/><circle class="s3" cx="279.5" cy="415.5" r="7.1"/><circle class="s0" cx="330.0" cy="139.0" r="8.5"/><circle class="s2" cx="175.0" cy="254.5" r="7.0"/><circle class="s2" cx="276.5" cy="396.0" r="9.9"/><circle class="s3" cx="326.0" cy="106.0" r="7.8"/><circle class="s0" cx="169.5" cy="224.5" r="5.8"/><circle class="s2" cx="160.0" cy="248.0" r="10.8"/><circle class="s2" cx="337.0" cy="170.5" r="6.0"/><circle class="s2" cx="237.0" cy="137.5" r="6.2"/><circle class="s1" cx="331.0" cy="463.5" r="5.8"/><circle class="s0" cx="366.0" cy="437.5" r="6.8"/><circle class="s2" cx="265.5" cy="452.0" r="6.1"/><circle class="s1" cx="244.5" cy="455.0" r="5.7"/><circle class="s3" cx="242.5" cy="440.5" r="5.7"/><circle class="s0" cx="228.0" cy="176.0" r="8.9"/><circle class="s3" cx="229.0" cy="139.5" r="7.7"/><circle class="s3" cx="156.5" cy="426.0" r="4.2"/><circle class="s1" cx="343.5" cy="147.0" r="7.8"/><circle class="s3" cx="302.5" cy="78.5" r="7.1"/><circle class="s1" cx="173.5" cy="345.5" r="10.2"/><circle class="s1" cx="191.0" cy="451.0" r="11.0"/><circle class="s2" cx="147.0" cy="252.5" r="5.7"/><circle class="s3" cx="204.0" cy="411.5" r="5.7"/><circle class="s0" cx="114.5" cy="282.0" r="8.1"/><circle class="s0" cx="179.5" cy="207.5" r="9.0"/><circle class="s3" cx="165.5" cy="306.0" r="9.1"/><circle class="s3" cx="118.0" cy="339.5" r="5.2"/><circle class="s2" cx="122.0" cy="262.5" r="6.6"/><circle class="s0" cx="142.5" cy="238.5" r="9.9"/><circle class="s1" cx="169.5" cy="436.5" r="6.6"/><circle class="s0" cx="378.5" cy="465.0" r="6.1"/><circle class="s3" cx="170.5" cy="199.5" r="6.5"/><circle class="s3" cx="199.0" cy="461.0" r="6.2"/><circle class="s0" cx="290.5" cy="187.5" r="6.4"/><circle class="s0" cx="375.0" cy="129.5" r="5.4"/><circle class="s2" cx="342.5" cy="380.0" r="5.7"/><circle class="s0" cx="189.5" cy="259.0" r="6.0"/><circle class="s2" cx="230.5" cy="347.0" r="5.8"/><circle class="s2" cx="317.5" cy="447.5" r="8.9"/><circle class="s1" cx="370.5" cy="411.0" r="3.2"/><circle class="s1" cx="177.5" cy="317.0" r="7.8"/><circle class="s0" cx="350.0" cy="480.5" r="7.1"/><circle class="s0" cx="323.5" cy="58.5" r="3.7"/><circle class="s1" cx="312.5" cy="462.0" r="6.9"/><circle class="s2" cx="339.5" cy="483.5" r="6.7"/><circle class="s2" cx="169.0" cy="212.5" r="5.7"/><circle class="s2" cx="209.5" cy="152.0" r="7.5"/><circle class="s3" cx="293.5" cy="86.5" r="6.8"/><circle class="s0" cx="212.0" cy="358.5" r="5.7"/><circle class="s0" cx="227.0" cy="439.5" r="8.6"/><circle class="s0" cx="298.5" cy="400.5" r="7.5"/><circle class="s0" cx="326.0" cy="432.5" r="5.9"/><circle class="s0" cx="276.5" cy="189.5" r="6.0"/><circle class="s1" cx="141.5" cy="297.5" r="5.7"/><circle class="s0" cx="157.0" cy="280.0" r="9.4"/><circle class="s0" cx="156.5" cy="203.0" r="5.8"/><circle class="s0" cx="226.0" cy="244.0" r="4.0"/><circle class="s3" cx="145.5" cy="381.5" r="6.0"/><circle class="s2" cx="116.5" cy="302.0" r="5.8"/><circle class="s2" cx="202.0" cy="323.0" r="9.6"/><circle class="s3" cx="150.5" cy="410.5" r="4.8"/><circle class="s1" cx="254.5" cy="362.5" r="5.4"/><circle class="s0" cx="134.5" cy="367.0" r="3.3"/><circle class="s3" cx="259.0" cy="390.0" r="10.1"/><circle class="s2" cx="240.5" cy="385.5" r="8.3"/><circle class="s2" cx="195.0" cy="363.5" r="7.2"/><circle class="s0" cx="366.0" cy="426.0" r="9.1"/><circle class="s1" cx="165.0" cy="411.0" r="5.9"/><circle class="s0" cx="183.0" cy="301.5" r="6.2"/><circle class="s3" cx="206.0" cy="246.0" r="3.0"/><circle class="s0" cx="342.0" cy="118.0" r="10.5"/><circle class="s0" cx="304.0" cy="473.5" r="6.3"/><circle class="s0" cx="229.5" cy="398.5" r="8.4"/><circle class="s0" cx="195.5" cy="244.0" r="6.5"/><circle class="s2" cx="234.5" cy="161.5" r="10.2"/><circle class="s3" cx="184.0" cy="438.0" r="10.1"/><circle class="s1" cx="376.5" cy="119.5" r="9.6"/><circle class="s0" cx="167.5" cy="460.0" r="5.0"/><circle class="s3" cx="115.5" cy="249.5" r="5.4"/><circle class="s3" cx="220.5" cy="145.0" r="7.9"/><circle class="s2" cx="258.0" cy="370.5" r="6.3"/><circle class="s1" cx="158.5" cy="324.0" r="7.5"/><circle class="s1" cx="125.5" cy="236.0" r="4.1"/><circle class="s3" cx="338.0" cy="62.5" r="4.6"/><circle class="s0" cx="292.0" cy="196.0" r="4.7"/><circle class="s3" cx="347.5" cy="443.5" r="6.5"/><circle class="s1" cx="347.5" cy="386.0" r="8.1"/><circle class="s0" cx="368.5" cy="476.5" r="8.4"/><circle class="s2" cx="346.5" cy="433.0" r="7.6"/><circle class="s1" cx="167.0" cy="284.5" r="9.8"/><circle class="s2" cx="128.0" cy="346.5" r="10.1"/><circle class="s1" cx="343.0" cy="361.5" r="3.0"/><circle class="s1" cx="285.5" cy="436.0" r="7.0"/><circle class="s1" cx="184.5" cy="194.0" r="7.9"/><circle class="s1" cx="361.0" cy="73.0" r="5.9"/><circle class="s3" cx="328.5" cy="180.0" r="7.8"/><circle class="s0" cx="366.5" cy="461.5" r="10.0"/><circle class="s3" cx="260.0" cy="136.5" r="4.7"/><circle class="s0" cx="198.0" cy="337.0" r="6.6"/><circle class="s3" cx="160.0" cy="229.0" r="8.1"/><circle class="s2" cx="144.5" cy="361.5" r="9.5"/><circle class="s3" cx="197.5" cy="382.5" r="10.6"/><circle class="s0" cx="185.5" cy="167.5" r="5.8"/><circle class="s3" cx="146.0" cy="308.5" r="6.1"/><circle class="s0" cx="182.0" cy="229.0" r="5.7"/><circle class="s0" cx="174.5" cy="230.5" r="9.2"/><circle class="s3" cx="160.0" cy="364.0" r="9.0"/><circle class="s1" cx="294.0" cy="429.0" r="9.2"/><circle class="s1" cx="294.5" cy="102.0" r="7.2"/><circle class="s3" cx="184.5" cy="407.5" r="6.7"/><circle class="s0" cx="296.0" cy="381.5" r="5.0"/><circle class="s1" cx="362.0" cy="483.5" r="6.5"/><circle class="s0" cx="191.0" cy="345.0" r="7.7"/><circle class="s3" cx="147.5" cy="352.0" r="9.7"/><circle class="s1" cx="189.5" cy="147.0" r="6.7"/><circle class="s2" cx="295.5" cy="153.5" r="6.1"/><circle class="s3" cx="391.0" cy="442.0" r="5.8"/><circle class="s1" cx="162.0" cy="431.5" r="6.5"/><circle class="s2" cx="332.5" cy="364.5" r="3.9"/><circle class="s1" cx="250.5" cy="135.5" r="8.7"/><circle class="s3" cx="214.0" cy="322.0" r="8.2"/><circle class="s2" cx="322.5" cy="377.5" r="6.7"/><circle class="s1" cx="375.0" cy="429.5" r="5.7"/><circle class="s2" cx="224.5" cy="166.0" r="10.3"/><circle class="s0" cx="222.0" cy="219.0" r="9.2"/><circle class="s1" cx="155.0" cy="402.5" r="9.1"/><circle class="s0" cx="235.5" cy="149.0" r="7.0"/><circle class="s0" cx="132.0" cy="289.0" r="6.3"/><circle class="s1" cx="350.0" cy="155.5" r="5.7"/><circle class="s3" cx="275.0" cy="206.0" r="5.7"/><circle class="s0" cx="346.0" cy="178.0" r="7.9"/><circle class="s0" cx="319.0" cy="503.5" r="3.2"/><circle class="s1" cx="296.0" cy="65.5" r="6.4"/><circle class="s2" cx="210.0" cy="479.5" r="3.7"/><circle class="s1" cx="205.5" cy="159.5" r="5.7"/><circle class="s1" cx="349.5" cy="126.0" r="8.9"/><circle class="s1" cx="231.0" cy="456.0" r="7.6"/><circle class="s2" cx="176.0" cy="357.0" r="6.0"/><circle class="s0" cx="176.5" cy="403.5" r="10.6"/><circle class="s1" cx="349.5" cy="185.0" r="5.9"/><circle class="s3" cx="178.0" cy="267.0" r="7.4"/><circle class="s2" cx="320.0" cy="199.5" r="4.8"/><circle class="s3" cx="133.0" cy="380.0" r="5.0"/><circle class="s3" cx="225.5" cy="357.0" r="6.0"/><circle class="s3" cx="239.0" cy="203.0" r="8.1"/><circle class="s3" cx="115.0" cy="261.0" r="5.2"/><circle class="s1" cx="313.5" cy="407.0" r="6.9"/><circle class="s0" cx="194.0" cy="207.5" r="5.8"/><circle class="s3" cx="154.0" cy="196.0" r="4.7"/><circle class="s1" cx="258.5" cy="357.0" r="3.3"/><circle class="s1" cx="308.0" cy="99.5" r="6.1"/><circle class="s1" cx="180.0" cy="160.0" r="3.4"/><circle class="s1" cx="323.5" cy="162.0" r="7.3"/><circle class="s0" cx="165.5" cy="264.5" r="10.3"/><circle class="s2" cx="345.0" cy="396.5" r="5.8"/><circle class="s0" cx="121.5" cy="352.0" r="3.0"/><circle class="s1" cx="112.0" cy="316.0" r="3.0"/><circle class="s1" cx="339.0" cy="442.5" r="6.2"/><circle class="s3" cx="370.0" cy="445.5" r="5.8"/><circle class="s0" cx="287.0" cy="441.0" r="4.0"/><circle class="s3" cx="303.5" cy="63.0" r="3.2"/><circle class="s2" cx="325.5" cy="404.0" r="8.1"/><circle class="s3" cx="314.0" cy="379.0" r="6.4"/><circle class="s0" cx="180.0" cy="377.5" r="7.8"/><circle class="s1" cx="224.5" cy="380.5" r="6.0"/><circle class="s1" cx="191.5" cy="468.0" r="5.0"/><circle class="s3" cx="215.0" cy="186.0" r="5.9"/><circle class="s1" cx="197.5" cy="416.5" r="9.4"/><circle class="s2" cx="170.0" cy="165.0" r="3.7"/><circle class="s2" cx="390.0" cy="77.5" r="3.2"/><circle class="s1" cx="267.0" cy="375.5" r="6.2"/><circle class="s2" cx="175.0" cy="459.0" r="5.4"/><circle class="s3" cx="184.0" cy="386.5" r="10.2"/><circle class="s2" cx="245.5" cy="223.0" r="3.9"/><circle class="s1" cx="208.5" cy="209.5" r="7.0"/><circle class="s1" cx="256.0" cy="125.5" r="3.7"/><circle class="s3" cx="103.0" cy="293.0" r="3.7"/><circle class="s3" cx="190.5" cy="290.5" r="7.2"/><circle class="s0" cx="251.0" cy="440.0" r="10.3"/><circle class="s3" cx="387.5" cy="451.5" r="4.2"/><circle class="s3" cx="215.0" cy="442.0" r="6.1"/><circle class="s0" cx="140.0" cy="262.0" r="8.1"/><circle class="s2" cx="359.0" cy="87.5" r="5.7"/><circle class="s1" cx="207.5" cy="341.0" r="5.9"/><circle class="s1" cx="190.0" cy="175.0" r="5.9"/><circle class="s0" cx="262.5" cy="145.5" r="4.4"/><circle class="s2" cx="284.0" cy="404.5" r="6.4"/><circle class="s2" cx="376.0" cy="101.5" r="5.8"/><circle class="s1" cx="336.5" cy="384.5" r="10.3"/><circle class="s0" cx="183.0" cy="179.0" r="8.2"/><circle class="s0" cx="235.0" cy="439.5" r="5.7"/><circle class="s2" cx="283.0" cy="178.0" r="10.7"/><circle class="s2" cx="361.0" cy="494.5" r="9.1"/><circle class="s3" cx="255.0" cy="147.5" r="8.6"/><circle class="s1" cx="356.5" cy="169.0" r="7.0"/><circle class="s0" cx="256.0" cy="451.0" r="6.6"/><circle class="s1" cx="135.0" cy="359.0" r="3.7"/><circle class="s0" cx="261.0" cy="173.5" r="5.8"/><circle class="s3" cx="205.0" cy="237.5" r="5.7"/><circle class="s0" cx="347.0" cy="136.0" r="6.8"/><circle class="s0" cx="197.0" cy="262.5" r="6.3"/><circle class="s2" cx="309.0" cy="189.5" r="8.1"/><circle class="s0" cx="241.0" cy="225.0" r="5.8"/><circle class="s0" cx="331.0" cy="443.0" r="6.4"/><circle class="s1" cx="354.5" cy="94.5" r="7.1"/><circle class="s2" cx="372.0" cy="68.0" r="5.5"/><circle class="s0" cx="215.0" cy="428.5" r="7.9"/><circle class="s2" cx="351.5" cy="67.0" r="4.4"/><circle class="s0" cx="187.5" cy="311.0" r="6.6"/><circle class="s1" cx="371.0" cy="77.0" r="6.6"/><circle class="s3" cx="333.0" cy="98.5" r="5.8"/><circle class="s3" cx="208.5" cy="226.5" r="8.1"/><circle class="s3" cx="313.5" cy="426.5" r="6.9"/><circle class="s1" cx="380.0" cy="95.0" r="5.7"/><circle class="s1" cx="184.5" cy="366.0" r="9.4"/><circle class="s2" cx="313.5" cy="505.0" r="3.3"/><circle class="s3" cx="357.5" cy="178.5" r="7.1"/><circle class="s1" cx="250.0" cy="368.5" r="5.4"/><circle class="s1" cx="124.0" cy="280.0" r="9.6"/><circle class="s3" cx="296.0" cy="419.0" r="10.3"/><circle class="s1" cx="306.5" cy="499.0" r="4.7"/><circle class="s0" cx="191.5" cy="234.5" r="6.4"/><circle class="s3" cx="149.5" cy="403.5" r="3.7"/><circle class="s0" cx="303.5" cy="133.0" r="8.9"/><circle class="s2" cx="221.5" cy="136.0" r="5.7"/><circle class="s0" cx="275.0" cy="405.5" r="5.8"/><circle class="s0" cx="246.0" cy="152.0" r="6.3"/><circle class="s1" cx="308.0" cy="438.0" r="9.7"/><circle class="s2" cx="267.0" cy="427.5" r="7.1"/><circle class="s3" cx="303.0" cy="454.0" r="5.8"/><circle class="s2" cx="203.0" cy="306.0" r="4.6"/><circle class="s2" cx="306.5" cy="486.0" r="8.6"/><circle class="s0" cx="315.0" cy="135.0" r="6.5"/><circle class="s0" cx="131.5" cy="241.0" r="5.8"/><circle class="s0" cx="205.0" cy="312.0" r="6.1"/><circle class="s2" cx="176.5" cy="431.0" r="7.6"/><circle class="s1" cx="200.0" cy="216.0" r="5.8"/><circle class="s3" cx="297.5" cy="471.0" r="4.1"/><circle class="s1" cx="330.0" cy="501.0" r="4.1"/><circle class="s3" cx="332.5" cy="455.0" r="8.1"/><circle class="s0" cx="333.0" cy="153.5" r="7.9"/><circle class="s0" cx="158.0" cy="334.5" r="5.7"/><circle class="s2" cx="374.0" cy="150.5" r="4.2"/><circle class="s2" cx="248.5" cy="429.0" r="6.1"/><circle class="s1" cx="173.5" cy="444.5" r="5.2"/><circle class="s3" cx="351.5" cy="502.0" r="3.9"/><circle class="s2" cx="295.0" cy="465.5" r="4.8"/><circle class="s2" cx="156.5" cy="417.5" r="7.1"/><circle class="s0" cx="267.0" cy="389.0" r="5.8"/><circle class="s2" cx="365.0" cy="136.5" r="6.1"/><circle class="s1" cx="158.5" cy="236.5" r="5.8"/><circle class="s2" cx="157.0" cy="221.0" r="6.2"/><circle class="s0" cx="214.5" cy="336.0" r="5.2"/><circle class="s0" cx="158.0" cy="188.5" r="6.3"/><circle class="s2" cx="200.0" cy="203.0" r="9.7"/><circle class="s1" cx="379.0" cy="452.0" r="6.5"/><circle class="s2" cx="294.0" cy="372.0" r="3.7"/><circle class="s2" cx="261.5" cy="155.5" r="8.0"/><circle class="s1" cx="187.5" cy="464.5" r="3.0"/><circle class="s3" cx="259.5" cy="409.5" r="6.0"/><circle class="s3" cx="149.0" cy="276.5" r="6.0"/><circle class="s2" cx="169.0" cy="467.5" r="5.2"/><circle class="s0" cx="169.0" cy="323.5" r="6.0"/><circle class="s3" cx="345.0" cy="170.5" r="5.8"/><circle class="s1" cx="270.5" cy="382.5" r="3.9"/><circle class="s2" cx="166.5" cy="175.5" r="3.2"/><circle class="s0" cx="226.0" cy="465.0" r="4.6"/><circle class="s0" cx="227.5" cy="387.5" r="6.4"/><circle class="s1" cx="380.5" cy="126.0" r="3.7"/><circle class="s2" cx="155.0" cy="350.0" r="5.7"/><circle class="s3" cx="256.0" cy="208.0" r="6.1"/><circle class="s1" cx="217.0" cy="178.5" r="6.3"/><circle class="s1" cx="303.0" cy="193.0" r="4.4"/><circle class="s1" cx="180.0" cy="293.5" r="10.0"/><circle class="s0" cx="207.5" cy="332.0" r="7.5"/><circle class="s0" cx="348.0" cy="163.0" r="6.3"/><circle class="s2" cx="134.0" cy="272.0" r="6.4"/><circle class="s0" cx="317.5" cy="90.5" r="6.1"/><circle class="s3" cx="246.0" cy="129.0" r="3.3"/><circle class="s2" cx="276.0" cy="152.0" r="3.7"/><circle class="s3" cx="174.5" cy="302.0" r="5.7"/><circle class="s0" cx="137.0" cy="224.5" r="3.7"/><circle class="s3" cx="200.0" cy="272.5" r="5.5"/><circle class="s3" cx="335.5" cy="108.0" r="7.6"/><circle class="s3" cx="242.5" cy="145.0" r="6.1"/><circle class="s1" cx="245.5" cy="404.0" r="6.0"/><circle class="s3" cx="141.5" cy="344.5" r="9.4"/><circle class="s0" cx="267.5" cy="224.0" r="5.2"/><circle class="s2" cx="370.0" cy="418.0" r="4.8"/><circle class="s0" cx="294.5" cy="452.5" r="4.1"/><circle class="s3" cx="325.5" cy="95.5" r="8.9"/><circle class="s2" cx="293.5" cy="123.0" r="5.5"/><circle class="s0" cx="329.5" cy="172.0" r="6.2"/><circle class="s1" cx="352.0" cy="85.5" r="8.5"/><circle class="s3" cx="201.0" cy="249.5" r="5.5"/><circle class="s2" cx="373.0" cy="502.5" r="4.7"/><circle class="s0" cx="381.0" cy="439.5" r="5.9"/><circle class="s0" cx="273.5" cy="386.5" r="3.9"/><circle class="s0" cx="185.5" cy="252.0" r="6.9"/><circle class="s2" cx="376.0" cy="109.5" r="5.7"/><circle class="s3" cx="219.5" cy="401.0" r="6.3"/><circle class="s1" cx="152.0" cy="229.5" r="4.4"/><circle class="s2" cx="339.5" cy="161.0" r="7.4"/><circle class="s1" cx="384.0" cy="79.5" r="4.1"/><circle class="s0" cx="299.0" cy="95.0" r="5.7"/><circle class="s2" cx="235.5" cy="431.0" r="5.9"/><circle class="s1" cx="261.0" cy="219.0" r="6.8"/><circle class="s2" cx="205.0" cy="478.0" r="3.4"/><circle class="s2" cx="381.0" cy="475.5" r="3.7"/><circle class="s0" cx="348.0" cy="421.5" r="6.3"/><circle class="s1" cx="352.0" cy="383.5" r="3.0"/><circle class="s3" cx="287.5" cy="217.0" r="3.7"/><circle class="s0" cx="343.0" cy="67.0" r="6.9"/><circle class="s0" cx="282.5" cy="149.5" r="6.1"/><circle class="s2" cx="331.5" cy="162.5" r="5.7"/><circle class="s0" cx="314.5" cy="155.5" r="5.9"/><circle class="s2" cx="335.5" cy="69.5" r="6.2"/><circle class="s0" cx="205.0" cy="291.0" r="3.3"/><circle class="s0" cx="231.0" cy="130.5" r="3.2"/><circle class="s0" cx="201.5" cy="473.0" r="4.0"/><circle class="s3" cx="217.5" cy="238.5" r="6.6"/><circle class="s1" cx="283.0" cy="167.5" r="9.1"/><circle class="s0" cx="237.0" cy="179.5" r="8.1"/><circle class="s3" cx="354.0" cy="402.0" r="8.0"/><circle class="s0" cx="168.5" cy="352.0" r="5.9"/><circle class="s2" cx="331.0" cy="373.0" r="5.8"/><circle class="s2" cx="122.5" cy="254.5" r="6.1"/><circle class="s0" cx="367.0" cy="404.0" r="3.7"/><circle class="s1" cx="337.0" cy="193.0" r="4.8"/><circle class="s3" cx="205.5" cy="433.0" r="6.2"/><circle class="s3" cx="116.5" cy="332.5" r="3.2"/><circle class="s2" cx="341.0" cy="416.5" r="6.1"/><circle class="s1" cx="113.0" cy="309.0" r="7.5"/><circle class="s3" cx="113.5" cy="272.5" r="4.7"/><circle class="s1" cx="306.0" cy="413.0" r="9.8"/><circle class="s1" cx="369.0" cy="178.5" r="5.2"/><circle class="s1" cx="236.5" cy="417.5" r="6.4"/><circle class="s3" cx="166.0" cy="380.5" r="6.7"/><circle class="s0" cx="264.5" cy="204.5" r="6.1"/><circle class="s0" cx="216.5" cy="365.5" r="5.7"/><circle class="s0" cx="256.5" cy="225.0" r="3.4"/><circle class="s2" cx="198.0" cy="296.0" r="7.1"/><circle class="s1" cx="118.5" cy="319.0" r="5.7"/><circle class="s2" cx="119.5" cy="271.0" r="6.7"/><circle class="s1" cx="127.5" cy="379.0" r="3.2"/><circle class="s2" cx="192.0" cy="182.0" r="5.7"/><circle class="s0" cx="199.0" cy="231.5" r="5.8"/><circle class="s0" cx="146.0" cy="269.5" r="6.5"/><circle class="s2" cx="281.0" cy="389.0" r="3.2"/><circle class="s2" cx="136.0" cy="324.0" r="5.7"/><circle class="s2" cx="238.5" cy="376.5" r="5.9"/><circle class="s1" cx="188.0" cy="201.5" r="5.9"/><circle class="s1" cx="345.5" cy="110.5" r="6.0"/><circle class="s2" cx="293.5" cy="167.0" r="6.8"/><circle class="s2" cx="285.0" cy="194.0" r="10.3"/><circle class="s0" cx="352.0" cy="490.5" r="10.0"/><circle class="s0" cx="318.0" cy="364.0" r="3.2"/><circle class="s2" cx="382.0" cy="74.5" r="3.2"/><circle class="s1" cx="290.5" cy="136.5" r="9.3"/><circle class="s1" cx="317.5" cy="188.0" r="5.7"/><circle class="s0" cx="169.0" cy="442.5" r="3.0"/><circle class="s2" cx="149.0" cy="319.0" r="6.2"/><circle class="s2" cx="197.5" cy="176.0" r="7.0"/><circle class="s2" cx="288.0" cy="66.5" r="4.7"/><circle class="s2" cx="243.5" cy="469.0" r="3.2"/><circle class="s3" cx="184.5" cy="157.0" r="3.3"/><circle class="s3" cx="234.5" cy="468.5" r="4.6"/><circle class="s1" cx="305.5" cy="393.5" r="6.9"/><circle class="s2" cx="152.5" cy="394.0" r="6.2"/><circle class="s0" cx="302.5" cy="375.5" r="7.2"/><circle class="s2" cx="121.0" cy="240.5" r="3.3"/><circle class="s0" cx="243.0" cy="168.5" r="7.8"/><circle class="s3" cx="355.5" cy="437.5" r="7.1"/><circle class="s3" cx="146.0" cy="232.5" r="4.2"/><circle class="s0" cx="363.0" cy="66.0" r="5.0"/><circle class="s3" cx="153.5" cy="303.5" r="6.2"/><circle class="s3" cx="269.0" cy="145.5" r="3.0"/><circle class="s0" cx="132.0" cy="280.5" r="5.9"/><circle class="s3" cx="168.0" cy="170.5" r="5.7"/><circle class="s0" cx="366.0" cy="145.0" r="10.9"/><circle class="s2" cx="139.0" cy="251.5" r="7.0"/><circle class="s0" cx="348.0" cy="377.5" r="3.0"/><circle class="s2" cx="204.5" cy="378.5" r="5.9"/><circle class="s1" cx="381.0" cy="114.0" r="3.3"/><circle class="s1" cx="336.0" cy="397.0" r="6.6"/><circle class="s0" cx="311.5" cy="77.0" r="6.2"/><circle class="s1" cx="180.5" cy="451.5" r="7.7"/><circle class="s1" cx="341.5" cy="505.0" r="3.7"/><circle class="s3" cx="198.5" cy="147.0" r="3.0"/><circle class="s2" cx="226.5" cy="132.5" r="3.7"/><circle class="s0" cx="181.5" cy="397.0" r="6.1"/><circle class="s2" cx="234.5" cy="350.5" r="3.7"/><circle class="s2" cx="290.0" cy="129.0" r="4.0"/><circle class="s0" cx="189.5" cy="419.5" r="5.8"/><circle class="s3" cx="109.0" cy="286.5" r="5.2"/><circle class="s0" cx="237.0" cy="233.5" r="3.3"/><circle class="s2" cx="343.5" cy="463.5" r="6.4"/><circle class="s1" cx="179.5" cy="415.0" r="9.4"/><circle class="s2" cx="229.5" cy="205.5" r="5.7"/><circle class="s0" cx="165.5" cy="439.5" r="3.9"/><circle class="s2" cx="217.0" cy="466.5" r="4.1"/><circle class="s0" cx="356.0" cy="447.0" r="5.7"/><circle class="s2" cx="218.0" cy="244.5" r="4.7"/><circle class="s0" cx="191.5" cy="372.0" r="5.9"/><circle class="s2" cx="231.5" cy="354.5" r="5.0"/><circle class="s0" cx="187.5" cy="267.0" r="6.8"/><circle class="s1" cx="314.0" cy="61.0" r="3.4"/><circle class="s1" cx="255.5" cy="433.5" r="6.0"/><circle class="s2" cx="313.5" cy="497.5" r="6.5"/><circle class="s3" cx="327.5" cy="367.0" r="4.2"/><circle class="s1" cx="370.0" cy="155.0" r="7.0"/><circle class="s2" cx="344.5" cy="491.5" r="5.8"/><circle class="s1" cx="312.5" cy="180.0" r="7.3"/><circle class="s0" cx="345.0" cy="374.0" r="3.4"/><circle class="s2" cx="313.0" cy="365.0" r="3.3"/><circle class="s1" cx="186.0" cy="351.5" r="5.7"/><circle class="s3" cx="297.5" cy="389.5" r="7.4"/><circle class="s1" cx="250.5" cy="127.0" r="3.9"/><circle class="s3" cx="206.0" cy="277.5" r="3.0"/><circle class="s3" cx="270.5" cy="458.5" r="4.1"/><circle class="s3" cx="110.5" cy="279.5" r="3.4"/><circle class="s0" cx="291.5" cy="110.0" r="5.7"/><circle class="s0" cx="343.0" cy="404.0" r="6.2"/><circle class="s2" cx="117.0" cy="344.5" r="3.3"/><circle class="s1" cx="131.0" cy="223.0" r="3.2"/><circle class="s3" cx="298.0" cy="190.5" r="5.2"/><circle class="s2" cx="343.5" cy="190.0" r="3.7"/><circle class="s2" cx="153.5" cy="191.0" r="3.7"/><circle class="s1" cx="273.5" cy="218.5" r="5.8"/><circle class="s2" cx="213.5" cy="218.5" r="6.2"/><circle class="s2" cx="147.5" cy="292.0" r="6.5"/><circle class="s3" cx="113.0" cy="266.0" r="3.4"/><circle class="s3" cx="239.5" cy="369.5" r="3.2"/><circle class="s2" cx="261.5" cy="364.5" r="4.2"/><circle class="s3" cx="288.5" cy="373.5" r="3.2"/><circle class="s3" cx="189.5" cy="443.0" r="5.9"/><circle class="s1" cx="292.5" cy="385.0" r="3.0"/><circle class="s3" cx="343.5" cy="369.5" r="4.2"/><circle class="s0" cx="153.0" cy="341.0" r="6.1"/><circle class="s3" cx="173.5" cy="465.5" r="3.4"/><circle class="s0" cx="379.0" cy="496.0" r="5.0"/><circle class="s1" cx="207.0" cy="462.0" r="5.8"/><circle class="s2" cx="302.0" cy="480.0" r="5.2"/><circle class="s3" cx="341.0" cy="129.5" r="6.2"/><circle class="s1" cx="153.5" cy="358.0" r="6.0"/><circle class="s2" cx="321.5" cy="468.0" r="6.2"/><circle class="s3" cx="316.5" cy="100.0" r="9.2"/><circle class="s3" cx="271.5" cy="464.5" r="3.7"/><circle class="s2" cx="290.0" cy="444.5" r="3.0"/><circle class="s0" cx="212.0" cy="377.0" r="6.8"/><circle class="s3" cx="285.5" cy="426.0" r="6.9"/><circle class="s0" cx="168.5" cy="360.5" r="6.0"/><circle class="s1" cx="265.0" cy="196.5" r="5.8"/><circle class="s3" cx="265.0" cy="370.0" r="4.0"/><circle class="s0" cx="163.5" cy="195.0" r="8.7"/><circle class="s2" cx="152.0" cy="200.5" r="3.2"/><circle class="s0" cx="290.0" cy="144.5" r="5.7"/><circle class="s3" cx="268.5" cy="187.5" r="5.8"/><circle class="s2" cx="104.5" cy="299.5" r="5.2"/><circle class="s0" cx="369.0" cy="64.0" r="3.3"/><circle class="s0" cx="361.5" cy="398.0" r="3.3"/><circle class="s2" cx="259.0" cy="463.5" r="6.1"/><circle class="s2" cx="230.5" cy="238.0" r="4.7"/><circle class="s0" cx="374.0" cy="145.0" r="3.7"/><circle class="s1" cx="308.0" cy="63.0" r="3.7"/><circle class="s2" cx="139.5" cy="382.5" r="4.2"/><circle class="s0" cx="126.5" cy="228.5" r="3.7"/><circle class="s3" cx="188.0" cy="215.0" r="7.9"/><circle class="s1" cx="323.0" cy="152.5" r="7.0"/><circle class="s2" cx="251.0" cy="222.5" r="4.7"/><circle class="s0" cx="134.5" cy="338.0" r="5.9"/><circle class="s1" cx="324.5" cy="195.0" r="5.7"/><circle class="s1" cx="382.0" cy="90.5" r="3.2"/><circle class="s1" cx="386.5" cy="471.5" r="3.0"/><circle class="s1" cx="223.0" cy="343.5" r="4.4"/><circle class="s1" cx="191.5" cy="140.5" r="4.2"/><circle class="s1" cx="147.0" cy="244.5" r="5.8"/><circle class="s0" cx="303.5" cy="171.0" r="6.3"/><circle class="s1" cx="382.0" cy="492.5" r="3.3"/><circle class="s3" cx="324.0" cy="203.5" r="3.3"/><circle class="s2" cx="217.5" cy="410.5" r="7.6"/><circle class="s0" cx="334.5" cy="493.0" r="6.3"/><circle class="s1" cx="185.5" cy="460.5" r="3.9"/><circle class="s3" cx="251.0" cy="392.0" r="5.7"/><circle class="s1" cx="266.0" cy="444.5" r="4.2"/><circle class="s3" cx="291.5" cy="95.5" r="5.2"/><circle class="s1" cx="289.0" cy="205.0" r="4.7"/><circle class="s3" cx="236.0" cy="130.5" r="3.2"/><circle class="s1" cx="346.5" cy="93.5" r="6.4"/><circle class="s3" cx="250.0" cy="179.5" r="6.9"/><circle class="s3" cx="357.0" cy="102.5" r="6.2"/><circle class="s2" cx="166.0" cy="234.5" r="6.4"/><circle class="s0" cx="113.0" cy="256.0" r="3.7"/><circle class="s0" cx="198.0" cy="223.5" r="6.0"/><circle class="s2" cx="164.5" cy="464.5" r="3.7"/><circle class="s0" cx="330.5" cy="478.5" r="9.1"/><circle class="s0" cx="259.0" cy="476.5" r="3.7"/><circle class="s2" cx="374.5" cy="180.0" r="3.7"/><circle class="s1" cx="196.0" cy="471.5" r="4.1"/><circle class="s2" cx="356.5" cy="395.0" r="3.3"/><circle class="s3" cx="106.5" cy="306.0" r="3.7"/><circle class="s1" cx="221.0" cy="447.5" r="8.7"/><circle class="s1" cx="374.0" cy="137.5" r="4.2"/><circle class="s1" cx="258.5" cy="130.0" r="7.9"/><circle class="s2" cx="253.5" cy="187.0" r="5.8"/><circle class="s1" cx="335.5" cy="503.0" r="5.2"/><circle class="s0" cx="376.5" cy="472.5" r="6.7"/><circle class="s2" cx="135.5" cy="352.0" r="5.8"/><circle class="s0" cx="314.5" cy="197.5" r="4.6"/><circle class="s2" cx="175.0" cy="191.0" r="5.8"/><circle class="s1" cx="335.5" cy="435.0" r="5.9"/><circle class="s3" cx="312.5" cy="370.0" r="7.7"/><circle class="s1" cx="213.5" cy="160.5" r="5.8"/><circle class="s2" cx="158.5" cy="182.5" r="3.3"/><circle class="s0" cx="149.0" cy="370.5" r="7.7"/><circle class="s2" cx="339.0" cy="358.5" r="3.0"/><circle class="s2" cx="287.5" cy="398.0" r="5.7"/><circle class="s1" cx="179.5" cy="245.5" r="5.8"/><circle class="s1" cx="218.0" cy="318.5" r="3.9"/><circle class="s0" cx="367.5" cy="115.5" r="7.4"/><circle class="s1" cx="213.0" cy="201.0" r="5.8"/><circle class="s1" cx="380.5" cy="103.5" r="3.0"/><circle class="s1" cx="345.5" cy="473.5" r="6.4"/><circle class="s1" cx="357.0" cy="500.5" r="4.2"/><circle class="s1" cx="351.5" cy="143.5" r="5.8"/><circle class="s1" cx="301.5" cy="486.0" r="3.7"/><circle class="s1" cx="209.5" cy="384.5" r="5.7"/><circle class="s0" cx="294.0" cy="460.0" r="3.2"/><circle class="s2" cx="186.5" cy="152.5" r="4.6"/><circle class="s0" cx="290.5" cy="378.5" r="3.4"/><circle class="s1" cx="148.5" cy="391.5" r="3.7"/><circle class="s0" cx="290.5" cy="179.5" r="5.8"/><circle class="s1" cx="352.5" cy="391.0" r="5.2"/><circle class="s2" cx="153.0" cy="386.0" r="6.1"/><circle class="s3" cx="210.0" cy="315.0" r="3.9"/><circle class="s2" cx="164.5" cy="205.5" r="6.1"/><circle class="s1" cx="222.5" cy="248.5" r="3.7"/><circle class="s3" cx="171.5" cy="375.5" r="5.8"/><circle class="s3" cx="310.0" cy="400.0" r="5.7"/><circle class="s3" cx="291.0" cy="82.5" r="3.2"/><circle class="s0" cx="163.0" cy="180.5" r="3.9"/><circle class="s2" cx="208.0" cy="147.0" r="3.3"/><circle class="s0" cx="211.5" cy="393.0" r="5.9"/><circle class="s3" cx="171.0" cy="449.5" r="4.2"/><circle class="s2" cx="211.0" cy="417.5" r="5.7"/><circle class="s3" cx="304.0" cy="69.5" r="8.5"/><circle class="s0" cx="215.5" cy="143.0" r="3.4"/><circle class="s2" cx="202.5" cy="301.5" r="3.3"/><circle class="s0" cx="193.5" cy="283.0" r="5.8"/><circle class="s1" cx="290.0" cy="211.5" r="4.2"/><circle class="s3" cx="229.5" cy="342.0" r="3.7"/><circle class="s2" cx="326.0" cy="451.0" r="5.7"/><circle class="s0" cx="218.5" cy="339.0" r="3.3"/><circle class="s0" cx="169.5" cy="312.5" r="5.7"/><circle class="s3" cx="254.5" cy="474.5" r="3.9"/><circle class="s2" cx="161.5" cy="256.5" r="6.1"/><circle class="s2" cx="219.0" cy="171.5" r="5.7"/><circle class="s2" cx="155.0" cy="215.0" r="3.7"/><circle class="s0" cx="277.0" cy="160.5" r="5.8"/><circle class="s1" cx="284.5" cy="135.0" r="3.3"/><circle class="s3" cx="268.0" cy="469.0" r="4.7"/><circle class="s3" cx="173.5" cy="396.0" r="5.7"/><circle class="s1" cx="169.0" cy="404.5" r="5.7"/><circle class="s1" cx="168.0" cy="455.0" r="3.7"/><circle class="s1" cx="203.5" cy="446.0" r="5.7"/><circle class="s2" cx="153.5" cy="224.0" r="3.2"/><circle class="s0" cx="374.5" cy="424.5" r="3.7"/><circle class="s3" cx="188.0" cy="400.5" r="5.7"/><circle class="s3" cx="179.5" cy="275.0" r="6.0"/><circle class="s0" cx="306.0" cy="369.5" r="3.3"/><circle class="s1" cx="243.5" cy="133.0" r="5.2"/><circle class="s0" cx="219.5" cy="326.0" r="4.4"/><circle class="s3" cx="374.0" cy="459.0" r="5.9"/><circle class="s3" cx="290.5" cy="200.5" r="3.0"/><circle class="s0" cx="264.5" cy="227.5" r="3.2"/><circle class="s3" cx="357.0" cy="429.0" r="6.1"/><circle class="s1" cx="377.5" cy="73.0" r="4.7"/><circle class="s1" cx="189.5" cy="379.5" r="5.7"/><circle class="s1" cx="292.0" cy="78.0" r="4.1"/><circle class="s0" cx="209.0" cy="242.0" r="3.0"/><circle class="s3" cx="271.5" cy="437.0" r="3.0"/><circle class="s1" cx="308.0" cy="148.0" r="5.7"/><circle class="s3" cx="231.0" cy="376.0" r="8.2"/><circle class="s1" cx="324.0" cy="386.5" r="6.3"/><circle class="s3" cx="260.5" cy="380.0" r="9.1"/><circle class="s3" cx="191.0" cy="461.5" r="7.5"/><circle class="s3" cx="226.0" cy="225.5" r="5.7"/><circle class="s1" cx="359.5" cy="183.5" r="3.3"/><circle class="s3" cx="364.5" cy="174.5" r="4.6"/><circle class="s1" cx="383.0" cy="120.5" r="3.3"/><circle class="s1" cx="289.0" cy="88.5" r="3.0"/><circle class="s3" cx="304.5" cy="446.5" r="6.4"/><circle class="s2" cx="290.5" cy="104.5" r="3.7"/><circle class="s2" cx="311.5" cy="117.5" r="5.9"/><circle class="s1" cx="333.0" cy="86.5" r="5.8"/><circle class="s0" cx="109.5" cy="312.0" r="3.0"/><circle class="s3" cx="357.0" cy="68.0" r="4.7"/><circle class="s2" cx="318.0" cy="59.0" r="3.3"/><circle class="s2" cx="147.0" cy="386.0" r="3.7"/><circle class="s0" cx="312.0" cy="472.5" r="6.0"/><circle class="s3" cx="352.0" cy="453.0" r="6.0"/><circle class="s3" cx="382.5" cy="484.5" r="3.2"/><circle class="s1" cx="307.5" cy="196.0" r="3.7"/><circle class="s2" cx="154.5" cy="288.0" r="5.8"/><circle class="s0" cx="366.0" cy="169.5" r="4.1"/><circle class="s0" cx="138.0" cy="307.0" r="6.6"/><circle class="s1" cx="323.5" cy="134.5" r="5.8"/><circle class="s3" cx="336.0" cy="144.0" r="5.9"/><circle class="s1" cx="248.5" cy="448.0" r="5.7"/><circle class="s0" cx="141.0" cy="229.5" r="4.4"/><circle class="s1" cx="355.0" cy="186.5" r="3.2"/><circle class="s2" cx="175.0" cy="162.5" r="3.7"/><circle class="s1" cx="153.5" cy="208.5" r="3.7"/><circle class="s0" cx="280.0" cy="216.0" r="3.7"/><circle class="s0" cx="242.0" cy="210.5" r="5.7"/><circle class="s3" cx="134.0" cy="372.5" r="5.1"/><circle class="s2" cx="346.0" cy="503.5" r="4.4"/><circle class="s0" cx="264.0" cy="165.5" r="6.2"/><circle class="s3" cx="252.0" cy="457.5" r="5.7"/><circle class="s3" cx="329.5" cy="381.0" r="5.7"/><circle class="s3" cx="264.0" cy="419.5" r="5.8"/><circle class="s3" cx="201.0" cy="289.0" r="6.0"/><circle class="s3" cx="115.5" cy="324.0" r="3.4"/><circle class="s0" cx="264.0" cy="120.5" r="3.2"/><circle class="s1" cx="198.0" cy="400.5" r="5.9"/><circle class="s3" cx="181.5" cy="258.5" r="5.7"/><circle class="s3" cx="201.0" cy="254.5" r="3.7"/><circle class="s3" cx="151.0" cy="236.5" r="6.1"/><circle class="s1" cx="163.5" cy="318.0" r="6.1"/><circle class="s1" cx="316.0" cy="455.0" r="5.8"/><circle class="s1" cx="227.0" cy="148.5" r="5.8"/><circle class="s3" cx="193.0" cy="191.0" r="5.8"/><circle class="s2" cx="342.5" cy="62.5" r="3.0"/><circle class="s1" cx="231.5" cy="359.0" r="3.2"/><circle class="s1" cx="299.0" cy="371.5" r="3.2"/><circle class="s1" cx="333.0" cy="59.5" r="3.3"/><circle class="s2" cx="194.5" cy="252.5" r="10.5"/><circle class="s0" cx="196.0" cy="142.5" r="3.0"/><circle class="s0" cx="160.5" cy="436.0" r="3.0"/><circle class="s3" cx="117.5" cy="244.0" r="3.9"/><circle class="s2" cx="304.5" cy="422.0" r="6.2"/><circle class="s1" cx="186.0" cy="430.0" r="5.7"/><circle class="s3" cx="177.0" cy="184.0" r="5.7"/><circle class="s1" cx="149.5" cy="397.5" r="3.2"/><circle class="s1" cx="200.0" cy="259.0" r="3.3"/><circle class="s0" cx="250.0" cy="470.5" r="3.7"/><circle class="s0" cx="273.0" cy="148.0" r="3.3"/><circle class="s2" cx="161.0" cy="355.0" r="7.1"/><circle class="s1" cx="358.0" cy="126.5" r="5.9"/><circle class="s3" cx="262.0" cy="140.5" r="3.4"/><circle class="s1" cx="299.0" cy="161.0" r="6.0"/><circle class="s1" cx="357.0" cy="148.5" r="5.7"/><circle class="s3" cx="347.0" cy="64.5" r="3.2"/><circle class="s0" cx="287.5" cy="414.5" r="6.0"/><circle class="s2" cx="214.0" cy="470.5" r="3.0"/><circle class="s1" cx="290.0" cy="120.0" r="3.0"/><circle class="s0" cx="235.0" cy="170.0" r="6.1"/><circle class="s2" cx="152.0" cy="417.5" r="3.0"/><circle class="s3" cx="200.5" cy="265.5" r="3.3"/><circle class="s3" cx="204.0" cy="169.0" r="5.7"/><circle class="s1" cx="372.5" cy="159.5" r="3.0"/><circle class="s0" cx="199.0" cy="372.5" r="9.5"/><circle class="s3" cx="128.0" cy="267.5" r="5.9"/><circle class="s1" cx="316.5" cy="386.0" r="5.8"/><circle class="s0" cx="334.5" cy="405.0" r="6.0"/><circle class="s1" cx="235.5" cy="393.0" r="5.9"/><circle class="s0" cx="329.5" cy="204.0" r="3.3"/><circle class="s0" cx="252.0" cy="408.0" r="8.0"/><circle class="s1" cx="173.0" cy="411.5" r="5.7"/><circle class="s3" cx="202.5" cy="295.0" r="3.4"/><circle class="s0" cx="126.0" cy="354.0" r="3.7"/><circle class="s0" cx="188.5" cy="336.0" r="5.8"/><circle class="s2" cx="191.5" cy="435.0" r="6.0"/><circle class="s3" cx="164.0" cy="371.5" r="5.8"/><circle class="s2" cx="123.5" cy="335.0" r="6.6"/><circle class="s3" cx="368.5" cy="505.5" r="3.2"/><circle class="s1" cx="228.5" cy="363.0" r="4.7"/><circle class="s1" cx="324.5" cy="501.5" r="3.7"/><circle class="s0" cx="170.0" cy="426.5" r="6.1"/><circle class="s0" cx="321.0" cy="181.5" r="5.8"/><circle class="s0" cx="390.5" cy="447.5" r="3.7"/><circle class="s1" cx="263.0" cy="131.5" r="3.3"/><circle class="s2" cx="181.0" cy="460.0" r="3.4"/><circle class="s1" cx="389.5" cy="461.5" r="3.3"/><circle class="s3" cx="244.0" cy="370.0" r="4.4"/><circle class="s2" cx="377.5" cy="501.5" r="3.0"/><circle class="s3" cx="213.5" cy="243.5" r="3.0"/><circle class="s3" cx="212.0" cy="233.5" r="5.7"/><circle class="s2" cx="226.0" cy="213.0" r="5.7"/><circle class="s3" cx="267.0" cy="462.5" r="7.5"/><circle class="s0" cx="292.5" cy="62.0" r="3.9"/><circle class="s0" cx="324.5" cy="87.5" r="5.8"/><circle class="s1" cx="309.0" cy="504.5" r="3.0"/><circle class="s0" cx="324.0" cy="144.5" r="6.1"/><circle class="s0" cx="259.5" cy="427.0" r="5.8"/><circle class="s1" cx="221.5" cy="392.5" r="6.0"/><circle class="s0" cx="345.0" cy="74.0" r="5.8"/><circle class="s3" cx="179.5" cy="309.0" r="5.9"/><circle class="s2" cx="341.5" cy="390.0" r="5.7"/><circle class="s0" cx="386.0" cy="438.5" r="3.2"/><circle class="s2" cx="354.5" cy="410.0" r="5.8"/><circle class="s1" cx="362.5" cy="402.5" r="6.2"/><circle class="s0" cx="232.0" cy="198.5" r="6.2"/><circle class="s3" cx="310.5" cy="107.5" r="5.8"/><circle class="s3" cx="328.0" cy="471.5" r="5.7"/><circle class="s3" cx="369.5" cy="165.5" r="3.0"/><circle class="s1" cx="282.0" cy="202.5" r="6.0"/><circle class="s2" cx="130.5" cy="309.0" r="5.7"/><circle class="s3" cx="299.0" cy="475.5" r="3.0"/><circle class="s1" cx="209.0" cy="350.0" r="5.7"/><circle class="s0" cx="164.5" cy="219.0" r="6.1"/><circle class="s3" cx="233.5" cy="224.0" r="5.7"/><circle class="s3" cx="272.5" cy="223.5" r="3.0"/><circle class="s2" cx="212.0" cy="475.0" r="3.3"/><circle class="s2" cx="298.5" cy="411.0" r="5.9"/><circle class="s3" cx="161.5" cy="273.5" r="5.8"/><circle class="s0" cx="154.0" cy="422.0" r="3.3"/><circle class="s3" cx="273.0" cy="432.5" r="5.8"/><circle class="s1" cx="157.0" cy="430.5" r="3.0"/><circle class="s0" cx="238.5" cy="470.5" r="3.2"/><circle class="s1" cx="305.0" cy="182.5" r="5.9"/><circle class="s0" cx="296.0" cy="131.0" r="5.8"/><circle class="s0" cx="310.0" cy="128.5" r="6.1"/><circle class="s0" cx="361.0" cy="80.5" r="6.0"/><circle class="s1" cx="206.5" cy="286.0" r="3.2"/><circle class="s0" cx="114.5" cy="290.5" r="5.8"/><circle class="s2" cx="340.5" cy="100.5" r="5.9"/><circle class="s1" cx="343.0" cy="84.0" r="6.8"/><circle class="s3" cx="311.5" cy="480.5" r="5.8"/><circle class="s0" cx="229.0" cy="156.0" r="5.8"/><circle class="s2" cx="219.5" cy="435.5" r="6.2"/><circle class="s0" cx="137.5" cy="363.5" r="4.6"/><circle class="s3" cx="167.5" cy="252.0" r="5.7"/><circle class="s2" cx="366.5" cy="469.0" r="5.7"/><circle class="s2" cx="318.0" cy="63.5" r="5.8"/><circle class="s3" cx="178.0" cy="237.5" r="5.7"/><circle class="s3" cx="292.5" cy="448.5" r="3.3"/><circle class="s1" cx="140.5" cy="276.5" r="5.9"/><circle class="s1" cx="260.0" cy="123.0" r="5.0"/><circle class="s3" cx="308.5" cy="140.5" r="6.6"/><circle class="s2" cx="218.5" cy="139.5" r="3.4"/><circle class="s0" cx="196.5" cy="312.0" r="5.7"/><circle class="s3" cx="240.0" cy="230.0" r="3.3"/><circle class="s2" cx="360.0" cy="109.5" r="5.7"/><circle class="s0" cx="178.0" cy="198.5" r="5.7"/><circle class="s1" cx="173.0" cy="290.5" r="5.7"/><circle class="s0" cx="381.5" cy="435.0" r="3.4"/><circle class="s2" cx="221.5" cy="189.5" r="5.7"/><circle class="s2" cx="165.0" cy="167.0" r="3.0"/><circle class="s1" cx="267.5" cy="405.5" r="5.7"/><circle class="s0" cx="226.0" cy="406.0" r="6.2"/><circle class="s3" cx="173.5" cy="177.5" r="5.7"/><circle class="s3" cx="229.5" cy="468.0" r="3.0"/><circle class="s3" cx="230.5" cy="446.5" r="5.8"/><circle class="s0" cx="187.5" cy="142.5" r="3.4"/><circle class="s3" cx="295.0" cy="73.5" r="7.7"/><circle class="s1" cx="121.0" cy="347.0" r="5.5"/><circle class="s1" cx="290.5" cy="100.0" r="3.3"/><circle class="s3" cx="281.5" cy="438.0" r="3.3"/><circle class="s1" cx="243.5" cy="196.0" r="5.7"/><circle class="s2" cx="374.5" cy="155.0" r="3.0"/><circle class="s0" cx="269.5" cy="454.0" r="3.0"/><circle class="s1" cx="178.0" cy="370.0" r="5.7"/><circle class="s0" cx="380.5" cy="480.0" r="3.3"/><circle class="s3" cx="389.5" cy="456.5" r="3.0"/><circle class="s1" cx="221.5" cy="465.0" r="3.2"/><circle class="s0" cx="374.0" cy="437.5" r="5.7"/><circle class="s3" cx="369.5" cy="453.0" r="5.7"/><circle class="s1" cx="318.5" cy="401.5" r="5.9"/><circle class="s0" cx="301.0" cy="118.0" r="6.1"/><circle class="s2" cx="184.5" cy="356.5" r="6.1"/><circle class="s2" cx="380.5" cy="80.0" r="5.4"/><circle class="s3" cx="163.5" cy="329.0" r="6.1"/><circle class="s1" cx="361.0" cy="95.5" r="6.1"/><circle class="s1" cx="190.5" cy="169.5" r="6.1"/><circle class="s2" cx="163.5" cy="339.5" r="6.1"/><circle class="s0" cx="370.5" cy="484.5" r="6.1"/><circle class="s2" cx="261.5" cy="457.5" r="6.1"/><circle class="s2" cx="329.5" cy="69.5" r="6.1"/><circle class="s0" cx="299.0" cy="125.5" r="6.1"/><circle class="s0" cx="187.5" cy="162.0" r="6.1"/><circle class="s1" cx="246.0" cy="393.5" r="6.1"/><circle class="s2" cx="383.5" cy="468.0" r="6.1"/><circle class="s2" cx="109.0" cy="302.5" r="6.1"/><circle class="s3" cx="174.5" cy="217.5" r="6.1"/><circle class="s3" cx="189.5" cy="300.0" r="6.1"/><circle class="s2" cx="385.5" cy="445.5" r="6.1"/><circle class="s0" cx="194.5" cy="271.5" r="6.1"/><circle class="s2" cx="261.5" cy="432.0" r="6.1"/><circle class="s3" cx="173.5" cy="454.0" r="6.1"/><circle class="s1" cx="233.5" cy="133.0" r="6.1"/><circle class="s2" cx="148.0" cy="337.5" r="6.1"/><circle class="s1" cx="201.5" cy="243.0" r="6.1"/><circle class="s3" cx="188.5" cy="412.5" r="6.1"/><circle class="s1" cx="288.0" cy="376.5" r="3.4"/><circle class="s3" cx="143.0" cy="323.0" r="6.1"/><circle class="s2" cx="255.0" cy="165.5" r="6.1"/><circle class="s0" cx="215.0" cy="371.0" r="6.1"/><circle class="s3" cx="241.5" cy="466.0" r="6.1"/><circle class="s1" cx="350.5" cy="171.5" r="6.1"/><circle class="s0" cx="126.5" cy="232.5" r="4.6"/><circle class="s3" cx="339.5" cy="374.5" r="6.1"/><circle class="s0" cx="335.0" cy="128.5" r="6.1"/><circle class="s2" cx="371.0" cy="90.5" r="6.1"/><circle class="s1" cx="223.5" cy="363.5" r="6.1"/><circle class="s0" cx="196.5" cy="278.0" r="6.1"/><circle class="s3" cx="316.0" cy="84.0" r="6.1"/><circle class="s0" cx="216.0" cy="341.0" r="6.1"/><circle class="s0" cx="273.5" cy="213.0" r="6.1"/><circle class="s3" cx="195.0" cy="351.0" r="6.1"/><circle class="s2" cx="210.5" cy="412.0" r="6.1"/><circle class="s2" cx="181.0" cy="164.5" r="6.1"/><circle class="s1" cx="188.5" cy="186.0" r="6.1"/><circle class="s0" cx="337.0" cy="412.5" r="6.1"/><circle class="s1" cx="322.5" cy="173.0" r="6.1"/><circle class="s1" cx="206.5" cy="217.0" r="6.1"/><circle class="s0" cx="198.5" cy="160.5" r="6.1"/><circle class="s0" cx="170.5" cy="207.5" r="6.1"/><circle class="s0" cx="354.5" cy="73.0" r="6.1"/><circle class="s1" cx="259.5" cy="360.0" r="4.6"/><circle class="s0" cx="148.5" cy="283.0" r="6.1"/><circle class="s0" cx="342.5" cy="447.0" r="6.1"/><circle class="s2" cx="208.5" cy="422.5" r="6.1"/><circle class="s1" cx="137.5" cy="290.5" r="6.1"/><circle class="s0" cx="226.0" cy="350.5" r="6.1"/><circle class="s1" cx="262.0" cy="225.5" r="5.2"/><circle class="s3" cx="292.5" cy="375.0" r="5.9"/><circle class="s2" cx="315.5" cy="162.0" r="6.1"/><circle class="s2" cx="148.0" cy="263.0" r="6.1"/><circle class="s2" cx="230.5" cy="465.5" r="5.7"/><circle class="s0" cx="327.5" cy="200.5" r="6.1"/><circle class="s3" cx="220.5" cy="462.0" r="6.1"/><circle class="s1" cx="232.5" cy="409.5" r="6.1"/><circle class="s1" cx="232.0" cy="422.0" r="6.1"/><circle class="s2" cx="380.0" cy="445.5" r="6.1"/><circle class="s2" cx="337.0" cy="177.0" r="6.1"/><circle class="s0" cx="340.5" cy="188.0" r="6.1"/><circle class="s1" cx="310.0" cy="452.0" r="6.1"/><circle class="s2" cx="293.5" cy="395.0" r="6.1"/><circle class="s0" cx="242.0" cy="432.5" r="6.1"/><circle class="s2" cx="330.0" cy="497.5" r="6.1"/><circle class="s0" cx="265.5" cy="148.0" r="4.7"/><circle class="s2" cx="335.0" cy="187.0" r="6.1"/><circle class="s0" cx="204.5" cy="475.0" r="5.1"/><circle class="s0" cx="187.5" cy="282.5" r="6.1"/><circle class="s1" cx="361.0" cy="433.5" r="6.1"/><circle class="s3" cx="280.0" cy="155.5" r="6.1"/><circle class="s3" cx="385.0" cy="75.0" r="3.3"/><circle class="s3" cx="248.5" cy="163.0" r="6.1"/><circle class="s3" cx="192.0" cy="197.5" r="6.1"/><circle class="s1" cx="325.0" cy="187.0" r="6.1"/><circle class="s0" cx="261.0" cy="210.5" r="6.1"/><circle class="s0" cx="360.5" cy="443.0" r="6.1"/><circle class="s3" cx="309.0" cy="172.5" r="6.1"/><circle class="s0" cx="198.0" cy="468.0" r="6.1"/><circle class="s3" cx="196.0" cy="150.5" r="6.1"/><circle class="s2" cx="214.5" cy="331.0" r="6.1"/><circle class="s3" cx="240.5" cy="154.0" r="6.1"/><circle class="s0" cx="239.5" cy="408.5" r="6.1"/><circle class="s1" cx="353.5" cy="161.0" r="6.1"/><circle class="s1" cx="180.5" cy="352.5" r="6.1"/><circle class="s1" cx="193.5" cy="403.5" r="6.1"/><circle class="s0" cx="153.5" cy="331.5" r="6.1"/><circle class="s2" cx="199.5" cy="302.5" r="6.1"/><circle class="s1" cx="295.5" cy="448.0" r="6.1"/><circle class="s2" cx="168.5" cy="394.5" r="6.1"/><circle class="s0" cx="317.0" cy="75.5" r="6.1"/><circle class="s3" cx="143.5" cy="303.0" r="6.1"/><circle class="s3" cx="203.5" cy="466.0" r="6.1"/><circle class="s1" cx="151.5" cy="309.5" r="6.1"/><circle class="s2" cx="372.0" cy="497.0" r="6.1"/><circle class="s3" cx="319.0" cy="139.5" r="6.1"/><circle class="s2" cx="145.0" cy="314.5" r="6.1"/><circle class="s3" cx="365.0" cy="91.5" r="6.1"/><circle class="s2" cx="296.5" cy="108.5" r="6.1"/><circle class="s1" cx="246.0" cy="460.0" r="6.1"/><circle class="s0" cx="352.5" cy="425.5" r="6.1"/><circle class="s3" cx="150.5" cy="378.0" r="6.1"/><circle class="s2" cx="159.5" cy="383.5" r="6.1"/><circle class="s1" cx="129.5" cy="236.0" r="6.1"/><circle class="s3" cx="338.5" cy="460.0" r="6.1"/><circle class="s2" cx="160.5" cy="425.0" r="6.1"/><circle class="s3" cx="350.5" cy="149.0" r="6.1"/><circle class="s2" cx="226.0" cy="420.0" r="6.1"/><circle class="s1" cx="301.5" cy="101.0" r="6.1"/><circle class="s0" cx="266.5" cy="173.0" r="6.1"/><circle class="s1" cx="107.0" cy="291.0" r="5.5"/><circle class="s3" cx="224.0" cy="240.0" r="6.1"/><circle class="s1" cx="197.0" cy="236.5" r="6.1"/><circle class="s3" cx="374.0" cy="83.5" r="6.1"/><circle class="s3" cx="211.5" cy="345.0" r="6.1"/><circle class="s1" cx="188.5" cy="207.0" r="6.1"/><circle class="s3" cx="383.0" cy="487.5" r="3.3"/><circle class="s0" cx="316.5" cy="194.0" r="6.1"/><circle class="s3" cx="174.0" cy="309.0" r="6.1"/><circle class="s3" cx="370.5" cy="135.0" r="6.1"/><circle class="s2" cx="300.0" cy="89.0" r="6.1"/><circle class="s1" cx="292.5" cy="437.5" r="6.1"/><circle class="s1" cx="219.5" cy="359.5" r="6.1"/><circle class="s3" cx="128.5" cy="225.0" r="4.4"/><circle class="s0" cx="137.0" cy="231.0" r="6.1"/><circle class="s3" cx="259.0" cy="140.5" r="6.1"/><circle class="s1" cx="231.5" cy="192.5" r="6.1"/><circle class="s0" cx="196.0" cy="145.0" r="4.1"/><circle class="s1" cx="343.5" cy="365.5" r="3.7"/><circle class="s2" cx="245.5" cy="373.5" r="6.1"/><circle class="s3" cx="116.5" cy="255.5" r="6.1"/><circle class="s0" cx="267.5" cy="219.0" r="6.1"/><circle class="s0" cx="237.0" cy="371.0" r="4.8"/><circle class="s3" cx="289.0" cy="91.5" r="3.2"/><circle class="s2" cx="201.5" cy="342.5" r="6.1"/><circle class="s1" cx="305.5" cy="403.0" r="6.1"/><circle class="s2" cx="217.5" cy="152.5" r="6.1"/><circle class="s0" cx="211.5" cy="241.0" r="4.1"/><circle class="s0" cx="352.0" cy="109.5" r="6.1"/><circle class="s1" cx="223.5" cy="183.0" r="6.1"/><circle class="s3" cx="239.0" cy="219.5" r="6.1"/><circle class="s1" cx="209.0" cy="163.5" r="6.1"/><circle class="s2" cx="243.5" cy="446.5" r="6.1"/><circle class="s2" cx="212.0" cy="145.5" r="3.9"/><circle class="s0" cx="311.0" cy="62.0" r="3.2"/><circle class="s3" cx="366.0" cy="71.0" r="6.1"/><circle class="s0" cx="350.0" cy="395.0" r="6.1"/><circle class="s3" cx="319.5" cy="500.5" r="5.8"/><circle class="s2" cx="133.5" cy="225.0" r="5.5"/><circle class="s0" cx="340.0" cy="361.0" r="4.8"/><circle class="s3" cx="244.5" cy="176.0" r="6.1"/><circle class="s0" cx="378.0" cy="491.5" r="6.1"/><circle class="s2" cx="279.5" cy="408.5" r="6.1"/><circle class="s2" cx="187.0" cy="375.0" r="6.1"/><circle class="s2" cx="170.5" cy="329.0" r="6.1"/><circle class="s3" cx="163.0" cy="406.0" r="6.1"/><circle class="s3" cx="208.5" cy="440.5" r="6.1"/><circle class="s0" cx="343.5" cy="155.0" r="6.1"/><circle class="s1" cx="181.5" cy="186.5" r="6.1"/><circle class="s0" cx="291.0" cy="387.5" r="4.1"/><circle class="s0" cx="214.0" cy="398.5" r="6.1"/><circle class="s1" cx="133.5" cy="266.0" r="6.1"/><circle class="s1" cx="328.5" cy="437.5" r="6.1"/><circle class="s3" cx="207.0" cy="480.5" r="3.4"/><circle class="s1" cx="175.5" cy="279.0" r="6.1"/><circle class="s2" cx="324.5" cy="443.0" r="6.1"/><circle class="s0" cx="248.0" cy="157.5" r="6.1"/><circle class="s1" cx="219.0" cy="376.0" r="6.1"/><circle class="s1" cx="359.0" cy="396.5" r="3.3"/><circle class="s2" cx="369.5" cy="407.5" r="3.7"/><circle class="s1" cx="232.5" cy="384.5" r="6.1"/><circle class="s3" cx="139.5" cy="270.0" r="6.1"/><circle class="s1" cx="378.5" cy="434.5" r="5.7"/><circle class="s3" cx="255.5" cy="176.0" r="6.1"/><circle class="s2" cx="349.0" cy="70.5" r="6.1"/><circle class="s1" cx="295.0" cy="456.0" r="3.7"/><circle class="s2" cx="335.0" cy="447.5" r="6.1"/><circle class="s3" cx="339.5" cy="490.0" r="6.1"/><circle class="s2" cx="170.0" cy="318.0" r="6.1"/><circle class="s2" cx="248.5" cy="387.5" r="6.1"/><circle class="s0" cx="291.0" cy="150.0" r="6.1"/><circle class="s0" cx="300.0" cy="166.5" r="6.1"/><circle class="s0" cx="362.5" cy="120.5" r="6.1"/><circle class="s2" cx="116.5" cy="265.5" r="6.1"/><circle class="s0" cx="310.5" cy="197.0" r="3.7"/><circle class="s1" cx="309.5" cy="502.0" r="5.1"/><circle class="s0" cx="213.0" cy="436.0" r="6.1"/><circle class="s0" cx="214.5" cy="404.0" r="6.1"/><circle class="s2" cx="373.5" cy="421.5" r="3.3"/><circle class="s3" cx="298.5" cy="437.0" r="6.1"/><circle class="s3" cx="240.5" cy="187.0" r="6.1"/><circle class="s3" cx="162.5" cy="438.0" r="3.4"/><circle class="s1" cx="239.0" cy="455.5" r="6.1"/><circle class="s3" cx="137.5" cy="368.0" r="6.1"/><circle class="s3" cx="196.0" cy="212.5" r="6.1"/><circle class="s3" cx="174.5" cy="440.0" r="6.1"/><circle class="s2" cx="279.0" cy="435.0" r="4.6"/><circle class="s2" cx="329.0" cy="147.0" r="6.1"/><circle class="s3" cx="333.5" cy="429.5" r="6.1"/><circle class="s3" cx="243.0" cy="139.5" r="6.1"/><circle class="s2" cx="387.5" cy="79.0" r="3.2"/><circle class="s0" cx="248.0" cy="143.5" r="6.1"/><circle class="s0" cx="316.5" cy="150.5" r="6.1"/><circle class="s2" cx="365.0" cy="76.5" r="6.1"/><circle class="s0" cx="283.5" cy="217.0" r="3.2"/><circle class="s3" cx="157.0" cy="345.0" r="6.1"/><circle class="s3" cx="255.5" cy="222.0" r="5.8"/><circle class="s2" cx="375.0" cy="443.0" r="6.1"/><circle class="s1" cx="235.5" cy="345.5" r="3.7"/><circle class="s3" cx="204.5" cy="275.5" r="3.3"/><circle class="s3" cx="304.5" cy="95.0" r="6.1"/><circle class="s3" cx="207.0" cy="243.5" r="3.7"/><circle class="s3" cx="315.0" cy="468.0" r="6.1"/><circle class="s3" cx="198.5" cy="407.5" r="6.1"/><circle class="s3" cx="387.5" cy="76.0" r="3.9"/><circle class="s2" cx="164.5" cy="468.5" r="3.3"/><circle class="s3" cx="171.5" cy="463.5" r="6.1"/><circle class="s1" cx="145.5" cy="328.0" r="6.1"/><circle class="s3" cx="226.0" cy="461.0" r="6.1"/><circle class="s0" cx="340.5" cy="437.0" r="6.1"/><circle class="s2" cx="181.5" cy="171.5" r="6.1"/><circle class="s0" cx="253.0" cy="471.5" r="5.1"/><circle class="s1" cx="326.0" cy="371.5" r="6.1"/><circle class="s1" cx="285.0" cy="419.5" r="6.1"/><circle class="s1" cx="347.5" cy="450.0" r="6.1"/><circle class="s0" cx="244.0" cy="182.5" r="6.1"/><circle class="s0" cx="371.0" cy="433.0" r="6.1"/><circle class="s3" cx="124.0" cy="239.5" r="4.4"/><circle class="s1" cx="138.5" cy="328.5" r="6.1"/><circle class="s1" cx="268.0" cy="159.5" r="6.1"/><circle class="s2" cx="157.0" cy="308.0" r="6.1"/><circle class="s2" cx="239.0" cy="131.5" r="3.4"/><circle class="s2" cx="176.0" cy="424.0" r="6.1"/><circle class="s2" cx="373.5" cy="449.5" r="6.1"/><circle class="s2" cx="248.0" cy="399.0" r="6.1"/><circle class="s3" cx="383.5" cy="473.5" r="3.3"/></g></g>
<g><g filter="url(#cb)"><circle class="k4" cx="477.5" cy="323.5" r="9.2"/><circle class="k2" cx="549.0" cy="428.5" r="9.7"/><circle class="k0" cx="523.5" cy="245.0" r="10.3"/><circle class="k0" cx="617.5" cy="212.5" r="4.9"/><circle class="k2" cx="458.5" cy="237.5" r="6.9"/><circle class="k0" cx="581.0" cy="377.5" r="9.7"/><circle class="k4" cx="510.0" cy="323.0" r="8.8"/><circle class="k4" cx="539.0" cy="301.0" r="8.4"/><circle class="k4" cx="469.5" cy="248.5" r="9.8"/><circle class="k3" cx="555.0" cy="400.5" r="9.2"/><circle class="k4" cx="532.0" cy="356.5" r="9.1"/><circle class="k3" cx="587.5" cy="227.0" r="7.7"/><circle class="k4" cx="560.0" cy="186.0" r="8.4"/><circle class="k2" cx="603.5" cy="366.5" r="8.0"/><circle class="k4" cx="607.5" cy="179.5" r="9.9"/><circle class="k3" cx="497.0" cy="333.5" r="8.8"/><circle class="k3" cx="592.5" cy="218.0" r="9.1"/><circle class="k4" cx="587.5" cy="187.0" r="10.3"/><circle class="k0" cx="538.0" cy="166.0" r="9.8"/><circle class="k4" cx="549.5" cy="175.5" r="7.8"/><circle class="k0" cx="514.0" cy="199.5" r="8.0"/><circle class="k4" cx="607.0" cy="205.0" r="9.2"/><circle class="k4" cx="532.5" cy="368.0" r="8.3"/><circle class="k4" cx="569.0" cy="432.0" r="9.2"/><circle class="k0" cx="529.5" cy="435.0" r="8.7"/><circle class="k4" cx="508.0" cy="297.0" r="8.9"/><circle class="k3" cx="524.0" cy="415.5" r="9.9"/><circle class="k3" cx="521.5" cy="299.5" r="9.2"/><circle class="k3" cx="618.0" cy="147.0" r="4.0"/><circle class="k2" cx="540.0" cy="238.5" r="8.3"/><circle class="k4" cx="550.5" cy="299.5" r="7.3"/><circle class="k1" cx="519.0" cy="325.5" r="9.2"/><circle class="k3" cx="604.0" cy="240.0" r="7.0"/><circle class="k4" cx="540.5" cy="141.0" r="4.5"/><circle class="k1" cx="501.0" cy="250.5" r="8.4"/><circle class="k4" cx="482.0" cy="246.5" r="9.1"/><circle class="k0" cx="542.5" cy="327.0" r="9.0"/><circle class="k3" cx="529.5" cy="201.0" r="8.7"/><circle class="k1" cx="538.0" cy="278.5" r="7.8"/><circle class="k3" cx="488.5" cy="368.0" r="9.7"/><circle class="k4" cx="518.0" cy="378.5" r="9.4"/><circle class="k3" cx="590.5" cy="360.5" r="7.6"/><circle class="k1" cx="564.5" cy="211.5" r="8.5"/><circle class="k0" cx="611.0" cy="224.5" r="9.9"/><circle class="k4" cx="616.0" cy="438.0" r="9.2"/><circle class="k3" cx="516.0" cy="307.5" r="9.5"/><circle class="k0" cx="588.5" cy="371.5" r="9.1"/><circle class="k3" cx="600.0" cy="416.0" r="10.1"/><circle class="k1" cx="606.5" cy="152.5" r="10.1"/><circle class="k3" cx="630.0" cy="234.5" r="9.0"/><circle class="k4" cx="457.5" cy="310.0" r="2.1"/><circle class="k2" cx="603.0" cy="407.5" r="8.5"/><circle class="k2" cx="592.0" cy="156.5" r="9.5"/><circle class="k3" cx="481.5" cy="278.0" r="8.7"/><circle class="k4" cx="482.0" cy="356.0" r="6.0"/><circle class="k0" cx="560.0" cy="447.0" r="8.7"/><circle class="k1" cx="565.0" cy="159.0" r="8.4"/><circle class="k4" cx="616.0" cy="359.5" r="9.7"/><circle class="k4" cx="523.0" cy="227.0" r="8.4"/><circle class="k2" cx="552.5" cy="366.0" r="9.4"/><circle class="k2" cx="523.5" cy="179.5" r="9.6"/><circle class="k4" cx="507.0" cy="202.5" r="10.1"/><circle class="k4" cx="528.5" cy="189.0" r="8.0"/><circle class="k0" cx="537.0" cy="251.5" r="9.5"/><circle class="k0" cx="583.0" cy="208.5" r="9.6"/><circle class="k4" cx="581.0" cy="444.0" r="9.1"/><circle class="k4" cx="454.5" cy="268.0" r="7.0"/><circle class="k1" cx="565.5" cy="168.5" r="8.7"/><circle class="k4" cx="502.0" cy="265.5" r="8.6"/><circle class="k3" cx="514.0" cy="254.5" r="8.6"/><circle class="k1" cx="571.0" cy="453.5" r="9.1"/><circle class="k2" cx="589.5" cy="427.0" r="8.5"/><circle class="k4" cx="601.0" cy="453.5" r="5.5"/><circle class="k1" cx="526.0" cy="349.5" r="9.2"/><circle class="k1" cx="545.0" cy="382.0" r="9.5"/><circle class="k2" cx="615.5" cy="160.0" r="8.0"/><circle class="k1" cx="504.0" cy="286.5" r="8.9"/><circle class="k0" cx="587.5" cy="354.0" r="2.0"/><circle class="k2" cx="465.5" cy="309.5" r="7.7"/><circle class="k2" cx="473.0" cy="276.0" r="9.4"/><circle class="k0" cx="548.5" cy="449.5" r="9.3"/><circle class="k4" cx="487.5" cy="312.5" r="8.0"/><circle class="k0" cx="544.5" cy="310.0" r="9.0"/><circle class="k4" cx="525.5" cy="284.0" r="10.2"/><circle class="k0" cx="544.5" cy="159.5" r="8.0"/><circle class="k4" cx="501.0" cy="223.5" r="7.8"/><circle class="k4" cx="568.5" cy="199.5" r="10.3"/><circle class="k3" cx="458.5" cy="305.0" r="5.7"/><circle class="k2" cx="616.0" cy="415.5" r="9.0"/><circle class="k4" cx="545.5" cy="360.0" r="8.2"/><circle class="k4" cx="590.0" cy="410.5" r="7.8"/><circle class="k1" cx="538.0" cy="346.0" r="8.6"/><circle class="k1" cx="506.0" cy="237.0" r="8.2"/><circle class="k2" cx="546.5" cy="287.5" r="5.5"/><circle class="k3" cx="513.5" cy="344.0" r="9.5"/><circle class="k4" cx="495.5" cy="347.5" r="8.9"/><circle class="k0" cx="487.5" cy="335.0" r="8.5"/><circle class="k4" cx="576.0" cy="391.5" r="9.9"/><circle class="k3" cx="461.0" cy="281.0" r="8.6"/><circle class="k4" cx="490.0" cy="354.0" r="9.0"/><circle class="k0" cx="526.5" cy="218.0" r="8.4"/><circle class="k3" cx="507.5" cy="174.5" r="9.5"/><circle class="k4" cx="607.0" cy="456.5" r="4.2"/><circle class="k4" cx="612.5" cy="198.0" r="5.9"/><circle class="k4" cx="606.0" cy="351.5" r="7.1"/><circle class="k4" cx="594.0" cy="237.0" r="3.5"/><circle class="k3" cx="559.5" cy="339.5" r="9.8"/><circle class="k1" cx="567.0" cy="403.5" r="9.8"/><circle class="k2" cx="531.5" cy="274.0" r="10.0"/><circle class="k1" cx="525.0" cy="426.0" r="9.0"/><circle class="k0" cx="555.5" cy="321.5" r="3.5"/><circle class="k4" cx="620.0" cy="366.5" r="7.3"/><circle class="k4" cx="549.0" cy="418.0" r="9.9"/><circle class="k1" cx="581.0" cy="362.5" r="10.3"/><circle class="k3" cx="520.5" cy="436.5" r="5.5"/><circle class="k4" cx="504.0" cy="350.0" r="8.8"/><circle class="k0" cx="607.0" cy="215.5" r="8.1"/><circle class="k0" cx="524.5" cy="157.5" r="5.5"/><circle class="k3" cx="476.5" cy="302.0" r="8.1"/><circle class="k1" cx="567.0" cy="422.5" r="9.6"/><circle class="k4" cx="573.5" cy="345.5" r="3.7"/><circle class="k4" cx="505.5" cy="305.5" r="9.9"/><circle class="k1" cx="529.5" cy="154.5" r="6.3"/><circle class="k4" cx="615.0" cy="341.5" r="3.5"/><circle class="k0" cx="522.5" cy="236.5" r="9.4"/><circle class="k1" cx="548.5" cy="333.0" r="9.3"/><circle class="k1" cx="535.0" cy="290.0" r="10.1"/><circle class="k3" cx="577.0" cy="219.5" r="8.7"/><circle class="k4" cx="560.5" cy="393.5" r="7.8"/><circle class="k0" cx="472.0" cy="294.0" r="10.2"/><circle class="k0" cx="549.5" cy="459.0" r="6.4"/><circle class="k3" cx="603.5" cy="146.5" r="7.0"/><circle class="k3" cx="627.5" cy="208.0" r="2.6"/><circle class="k1" cx="577.0" cy="147.0" r="7.8"/><circle class="k4" cx="566.0" cy="350.5" r="9.0"/><circle class="k3" cx="565.5" cy="336.0" r="5.0"/><circle class="k3" cx="524.5" cy="442.5" r="4.8"/><circle class="k3" cx="600.0" cy="213.5" r="7.8"/><circle class="k0" cx="594.5" cy="387.5" r="8.3"/><circle class="k0" cx="619.5" cy="220.5" r="10.0"/><circle class="k4" cx="526.0" cy="363.0" r="8.3"/><circle class="k3" cx="517.5" cy="392.5" r="8.2"/><circle class="k4" cx="464.0" cy="321.5" r="5.3"/><circle class="k0" cx="608.0" cy="340.0" r="3.2"/><circle class="k2" cx="592.0" cy="196.0" r="9.6"/><circle class="k4" cx="580.0" cy="189.0" r="7.9"/><circle class="k2" cx="508.0" cy="398.0" r="8.3"/><circle class="k4" cx="524.5" cy="260.0" r="8.8"/><circle class="k4" cx="505.5" cy="215.5" r="9.4"/><circle class="k4" cx="475.0" cy="311.0" r="9.9"/><circle class="k0" cx="558.0" cy="423.0" r="9.7"/><circle class="k3" cx="528.5" cy="320.0" r="9.0"/><circle class="k4" cx="537.0" cy="423.5" r="10.2"/><circle class="k1" cx="499.5" cy="193.0" r="3.5"/><circle class="k4" cx="546.5" cy="237.5" r="6.9"/><circle class="k4" cx="572.5" cy="375.0" r="9.7"/><circle class="k4" cx="569.0" cy="190.0" r="9.0"/><circle class="k0" cx="554.5" cy="329.5" r="6.7"/><circle class="k0" cx="473.0" cy="233.0" r="9.6"/><circle class="k3" cx="499.5" cy="318.5" r="9.5"/><circle class="k4" cx="547.5" cy="348.5" r="8.5"/><circle class="k4" cx="507.0" cy="193.5" r="9.5"/><circle class="k4" cx="503.5" cy="392.0" r="6.5"/><circle class="k1" cx="490.5" cy="231.5" r="8.2"/><circle class="k3" cx="531.0" cy="298.0" r="9.2"/><circle class="k0" cx="542.5" cy="151.5" r="8.1"/><circle class="k0" cx="611.5" cy="232.5" r="9.7"/><circle class="k2" cx="544.5" cy="294.5" r="7.3"/><circle class="k2" cx="583.0" cy="433.0" r="10.3"/><circle class="k3" cx="496.5" cy="374.5" r="8.7"/><circle class="k4" cx="515.5" cy="403.5" r="10.2"/><circle class="k2" cx="513.5" cy="167.5" r="3.5"/><circle class="k2" cx="538.0" cy="395.5" r="10.2"/><circle class="k4" cx="507.0" cy="418.5" r="2.1"/><circle class="k3" cx="448.5" cy="278.5" r="5.5"/><circle class="k4" cx="510.5" cy="386.5" r="9.7"/><circle class="k3" cx="605.5" cy="164.0" r="8.5"/><circle class="k4" cx="615.0" cy="170.5" r="7.9"/><circle class="k3" cx="514.0" cy="420.0" r="6.8"/><circle class="k2" cx="501.0" cy="182.0" r="3.5"/><circle class="k3" cx="559.0" cy="329.5" r="3.1"/><circle class="k4" cx="613.5" cy="423.0" r="7.8"/><circle class="k4" cx="533.0" cy="211.5" r="9.6"/><circle class="k4" cx="468.5" cy="225.5" r="6.3"/><circle class="k3" cx="561.0" cy="360.5" r="8.2"/><circle class="k4" cx="634.0" cy="221.0" r="2.4"/><circle class="k4" cx="489.5" cy="240.5" r="9.4"/><circle class="k3" cx="525.0" cy="389.0" r="8.7"/><circle class="k3" cx="593.5" cy="180.0" r="8.6"/><circle class="k4" cx="474.5" cy="263.0" r="8.4"/><circle class="k2" cx="451.0" cy="289.5" r="8.1"/><circle class="k4" cx="585.5" cy="451.0" r="5.5"/><circle class="k4" cx="616.5" cy="238.0" r="4.2"/><circle class="k1" cx="595.0" cy="164.0" r="8.0"/><circle class="k4" cx="554.0" cy="232.5" r="6.7"/><circle class="k4" cx="487.5" cy="260.0" r="9.0"/><circle class="k2" cx="488.5" cy="297.0" r="8.8"/><circle class="k3" cx="520.5" cy="333.5" r="10.2"/><circle class="k1" cx="598.5" cy="434.5" r="9.9"/><circle class="k1" cx="578.5" cy="405.5" r="9.3"/><circle class="k4" cx="502.5" cy="383.0" r="9.7"/><circle class="k4" cx="610.0" cy="187.5" r="10.3"/><circle class="k4" cx="616.0" cy="457.0" r="4.4"/><circle class="k4" cx="615.5" cy="447.0" r="10.1"/><circle class="k3" cx="467.0" cy="332.0" r="3.5"/><circle class="k3" cx="559.5" cy="175.0" r="9.8"/><circle class="k3" cx="599.5" cy="395.5" r="4.2"/><circle class="k3" cx="509.0" cy="315.0" r="9.8"/><circle class="k4" cx="556.5" cy="194.5" r="8.6"/><circle class="k3" cx="514.5" cy="226.0" r="9.0"/><circle class="k1" cx="564.0" cy="231.0" r="9.0"/><circle class="k0" cx="533.0" cy="378.0" r="7.9"/><circle class="k1" cx="616.5" cy="370.5" r="5.6"/><circle class="k0" cx="546.5" cy="439.0" r="9.4"/><circle class="k0" cx="563.5" cy="460.0" r="2.6"/><circle class="k2" cx="587.5" cy="232.5" r="2.6"/><circle class="k4" cx="612.5" cy="349.5" r="8.4"/><circle class="k1" cx="541.5" cy="180.0" r="9.5"/><circle class="k0" cx="465.5" cy="236.0" r="8.5"/><circle class="k4" cx="615.5" cy="180.0" r="9.6"/><circle class="k3" cx="572.0" cy="153.0" r="10.0"/><circle class="k4" cx="627.0" cy="218.0" r="8.2"/><circle class="k1" cx="527.5" cy="403.5" r="9.1"/><circle class="k3" cx="575.0" cy="164.0" r="8.3"/><circle class="k4" cx="538.0" cy="435.0" r="10.3"/><circle class="k3" cx="533.5" cy="411.5" r="9.9"/><circle class="k0" cx="599.5" cy="382.5" r="5.6"/><circle class="k0" cx="594.0" cy="379.5" r="9.7"/><circle class="k4" cx="557.5" cy="350.5" r="9.6"/><circle class="k3" cx="586.5" cy="396.5" r="8.2"/><circle class="k4" cx="550.0" cy="259.5" r="5.0"/><circle class="k4" cx="579.0" cy="175.5" r="7.8"/><circle class="k1" cx="551.0" cy="240.0" r="2.0"/><circle class="k1" cx="591.0" cy="418.5" r="8.6"/><circle class="k2" cx="507.5" cy="271.5" r="9.7"/><circle class="k1" cx="499.5" cy="172.5" r="4.5"/><circle class="k2" cx="534.0" cy="311.0" r="8.2"/><circle class="k2" cx="546.5" cy="228.5" r="8.0"/><circle class="k3" cx="473.0" cy="216.0" r="3.5"/><circle class="k2" cx="507.0" cy="368.0" r="10.2"/><circle class="k3" cx="568.0" cy="127.5" r="3.1"/><circle class="k2" cx="599.0" cy="401.5" r="7.7"/><circle class="k4" cx="610.5" cy="371.5" r="7.5"/><circle class="k1" cx="621.0" cy="421.5" r="5.9"/><circle class="k3" cx="509.0" cy="168.0" r="3.0"/><circle class="k4" cx="630.5" cy="226.0" r="8.1"/><circle class="k0" cx="549.0" cy="322.5" r="8.3"/><circle class="k2" cx="466.0" cy="288.0" r="9.2"/><circle class="k4" cx="607.0" cy="445.0" r="10.0"/><circle class="k3" cx="462.0" cy="251.5" r="9.1"/><circle class="k4" cx="513.5" cy="359.0" r="8.4"/><circle class="k3" cx="501.0" cy="362.0" r="9.4"/><circle class="k2" cx="525.0" cy="309.5" r="9.9"/><circle class="k0" cx="529.5" cy="164.0" r="9.3"/><circle class="k3" cx="491.5" cy="327.0" r="9.2"/><circle class="k2" cx="480.5" cy="346.0" r="5.5"/><circle class="k4" cx="501.5" cy="402.0" r="2.0"/><circle class="k4" cx="559.0" cy="383.0" r="8.3"/><circle class="k3" cx="467.5" cy="268.0" r="9.4"/><circle class="k2" cx="582.5" cy="350.5" r="2.4"/><circle class="k4" cx="545.5" cy="370.0" r="9.3"/><circle class="k3" cx="548.0" cy="391.0" r="9.6"/><circle class="k0" cx="627.0" cy="240.0" r="3.0"/><circle class="k1" cx="575.5" cy="125.5" r="2.6"/><circle class="k1" cx="533.0" cy="173.0" r="9.2"/><circle class="k0" cx="543.5" cy="192.0" r="9.8"/><circle class="k1" cx="594.5" cy="206.5" r="9.4"/><circle class="k3" cx="604.5" cy="245.0" r="3.9"/><circle class="k3" cx="574.5" cy="230.0" r="6.0"/><circle class="k4" cx="621.5" cy="359.0" r="5.1"/><circle class="k3" cx="509.5" cy="331.0" r="10.1"/><circle class="k0" cx="489.0" cy="288.0" r="9.6"/><circle class="k3" cx="602.5" cy="358.0" r="7.9"/><circle class="k3" cx="570.0" cy="363.0" r="8.0"/><circle class="k4" cx="551.0" cy="408.0" r="10.2"/><circle class="k0" cx="555.5" cy="299.0" r="3.5"/><circle class="k4" cx="458.5" cy="261.0" r="9.0"/><circle class="k3" cx="574.0" cy="129.0" r="5.6"/><circle class="k2" cx="491.5" cy="278.0" r="9.7"/><circle class="k4" cx="557.5" cy="206.5" r="10.2"/><circle class="k3" cx="518.5" cy="367.0" r="10.1"/><circle class="k4" cx="597.5" cy="455.0" r="3.1"/><circle class="k0" cx="479.5" cy="339.0" r="7.7"/><circle class="k0" cx="597.0" cy="146.5" r="3.8"/><circle class="k0" cx="599.5" cy="225.5" r="9.7"/><circle class="k1" cx="454.5" cy="234.5" r="2.4"/><circle class="k3" cx="494.5" cy="309.0" r="8.6"/><circle class="k4" cx="568.0" cy="395.5" r="8.3"/><circle class="k1" cx="512.5" cy="283.0" r="9.7"/><circle class="k3" cx="621.5" cy="161.0" r="4.2"/><circle class="k1" cx="564.0" cy="377.0" r="8.3"/><circle class="k4" cx="480.5" cy="367.0" r="3.0"/><circle class="k4" cx="619.0" cy="152.5" r="9.3"/><circle class="k2" cx="541.0" cy="267.5" r="8.0"/><circle class="k3" cx="519.0" cy="214.0" r="9.2"/><circle class="k1" cx="481.5" cy="237.0" r="9.6"/><circle class="k3" cx="484.0" cy="221.0" r="7.9"/><circle class="k0" cx="545.0" cy="258.0" r="9.2"/><circle class="k3" cx="633.0" cy="239.5" r="4.0"/><circle class="k3" cx="575.0" cy="354.5" r="8.7"/><circle class="k4" cx="578.5" cy="422.5" r="8.4"/><circle class="k0" cx="530.5" cy="443.5" r="6.6"/><circle class="k1" cx="623.0" cy="234.0" r="7.5"/><circle class="k1" cx="554.5" cy="220.5" r="8.8"/><circle class="k2" cx="578.5" cy="139.0" r="7.0"/><circle class="k3" cx="453.5" cy="303.5" r="2.6"/><circle class="k0" cx="554.5" cy="454.5" r="8.0"/><circle class="k3" cx="475.0" cy="240.5" r="7.9"/><circle class="k4" cx="468.0" cy="302.5" r="9.4"/><circle class="k2" cx="597.5" cy="191.0" r="7.7"/><circle class="k2" cx="531.0" cy="265.0" r="8.9"/><circle class="k0" cx="559.5" cy="458.0" r="5.0"/><circle class="k3" cx="497.5" cy="242.0" r="10.2"/><circle class="k0" cx="624.5" cy="365.0" r="2.6"/><circle class="k2" cx="543.5" cy="218.5" r="9.1"/><circle class="k2" cx="551.5" cy="251.0" r="2.4"/><circle class="k4" cx="569.0" cy="343.0" r="6.6"/><circle class="k1" cx="601.0" cy="198.0" r="8.9"/><circle class="k1" cx="504.5" cy="168.0" r="4.6"/><circle class="k3" cx="618.5" cy="373.5" r="2.5"/><circle class="k1" cx="541.0" cy="405.5" r="9.8"/><circle class="k4" cx="454.5" cy="243.0" r="3.9"/><circle class="k4" cx="446.5" cy="291.5" r="3.2"/><circle class="k1" cx="582.5" cy="197.5" r="10.0"/><circle class="k4" cx="636.5" cy="238.5" r="3.2"/><circle class="k4" cx="572.0" cy="180.0" r="8.4"/><circle class="k1" cx="636.0" cy="214.0" r="2.0"/><circle class="k3" cx="494.5" cy="220.0" r="10.0"/><circle class="k0" cx="547.0" cy="280.5" r="5.0"/><circle class="k4" cx="487.0" cy="268.0" r="10.0"/><circle class="k4" cx="629.0" cy="153.5" r="5.5"/><circle class="k4" cx="569.5" cy="143.0" r="7.9"/><circle class="k4" cx="521.0" cy="191.5" r="9.5"/><circle class="k4" cx="537.0" cy="197.5" r="8.0"/><circle class="k4" cx="522.0" cy="274.0" r="8.8"/><circle class="k1" cx="584.5" cy="145.5" r="7.7"/><circle class="k3" cx="496.0" cy="212.0" r="4.8"/><circle class="k4" cx="469.5" cy="324.5" r="8.7"/><circle class="k4" cx="607.0" cy="343.5" r="3.7"/><circle class="k1" cx="597.5" cy="235.0" r="6.6"/><circle class="k0" cx="605.0" cy="380.0" r="3.1"/><circle class="k4" cx="516.0" cy="184.5" r="8.7"/><circle class="k2" cx="513.5" cy="411.5" r="8.2"/><circle class="k0" cx="538.5" cy="448.0" r="6.8"/><circle class="k1" cx="583.5" cy="160.5" r="8.1"/><circle class="k1" cx="480.5" cy="374.5" r="2.0"/><circle class="k0" cx="603.0" cy="384.0" r="2.1"/><circle class="k1" cx="623.0" cy="428.0" r="4.6"/><circle class="k4" cx="511.5" cy="264.0" r="8.8"/><circle class="k4" cx="592.5" cy="453.0" r="3.5"/><circle class="k3" cx="557.0" cy="161.5" r="8.4"/><circle class="k4" cx="482.5" cy="215.0" r="5.1"/><circle class="k1" cx="560.5" cy="411.5" r="8.8"/><circle class="k4" cx="571.0" cy="410.5" r="8.1"/><circle class="k4" cx="460.0" cy="298.0" r="10.1"/><circle class="k4" cx="575.0" cy="210.0" r="8.5"/><circle class="k0" cx="577.5" cy="350.5" r="4.4"/><circle class="k4" cx="611.5" cy="404.5" r="4.5"/><circle class="k2" cx="632.5" cy="216.0" r="4.5"/><circle class="k0" cx="587.5" cy="385.5" r="7.8"/><circle class="k0" cx="570.5" cy="339.5" r="3.7"/><circle class="k4" cx="596.0" cy="446.5" r="7.8"/><circle class="k4" cx="481.0" cy="363.0" r="4.5"/><circle class="k3" cx="620.0" cy="175.5" r="6.7"/><circle class="k4" cx="536.0" cy="227.0" r="7.9"/><circle class="k3" cx="458.5" cy="233.0" r="4.2"/><circle class="k4" cx="633.0" cy="156.0" r="3.2"/><circle class="k1" cx="555.0" cy="152.0" r="7.3"/><circle class="k3" cx="612.0" cy="241.5" r="5.3"/><circle class="k3" cx="500.5" cy="209.5" r="5.7"/><circle class="k0" cx="617.0" cy="407.0" r="4.2"/><circle class="k0" cx="536.0" cy="451.0" r="3.2"/><circle class="k1" cx="626.5" cy="431.5" r="2.5"/><circle class="k0" cx="545.0" cy="202.0" r="9.0"/><circle class="k4" cx="511.5" cy="246.5" r="8.6"/><circle class="k3" cx="549.5" cy="295.0" r="3.7"/><circle class="k3" cx="621.0" cy="446.0" r="5.5"/><circle class="k1" cx="588.0" cy="174.0" r="8.7"/><circle class="k3" cx="543.0" cy="144.5" r="3.7"/><circle class="k0" cx="557.5" cy="436.0" r="10.1"/><circle class="k1" cx="610.0" cy="247.0" r="2.0"/><circle class="k3" cx="534.0" cy="334.0" r="8.3"/><circle class="k4" cx="493.5" cy="255.5" r="7.8"/><circle class="k3" cx="600.0" cy="142.0" r="2.5"/><circle class="k4" cx="635.5" cy="226.0" r="4.4"/><circle class="k3" cx="547.0" cy="244.5" r="4.5"/><circle class="k4" cx="528.0" cy="252.5" r="8.4"/><circle class="k3" cx="614.0" cy="206.5" r="4.2"/><circle class="k1" cx="492.5" cy="381.5" r="6.0"/><circle class="k1" cx="498.5" cy="200.0" r="2.0"/><circle class="k4" cx="603.0" cy="398.5" r="2.8"/><circle class="k4" cx="552.0" cy="377.0" r="8.8"/><circle class="k4" cx="479.0" cy="212.0" r="2.0"/><circle class="k3" cx="519.0" cy="316.0" r="9.5"/><circle class="k0" cx="584.0" cy="230.5" r="3.1"/><circle class="k2" cx="549.5" cy="284.5" r="2.0"/><circle class="k0" cx="476.0" cy="224.0" r="8.4"/><circle class="k3" cx="570.5" cy="234.5" r="5.6"/><circle class="k3" cx="559.5" cy="236.5" r="2.8"/><circle class="k2" cx="502.0" cy="198.5" r="5.5"/><circle class="k2" cx="533.0" cy="386.5" r="9.8"/><circle class="k3" cx="499.5" cy="388.0" r="4.9"/><circle class="k3" cx="456.0" cy="275.0" r="8.3"/><circle class="k0" cx="565.5" cy="219.5" r="8.0"/><circle class="k4" cx="545.0" cy="249.5" r="7.5"/><circle class="k3" cx="557.0" cy="313.5" r="4.2"/><circle class="k3" cx="518.5" cy="172.0" r="9.3"/><circle class="k4" cx="519.0" cy="440.5" r="2.6"/><circle class="k4" cx="517.5" cy="428.5" r="4.6"/><circle class="k4" cx="625.5" cy="146.5" r="2.4"/><circle class="k4" cx="504.0" cy="186.0" r="7.1"/><circle class="k0" cx="608.5" cy="378.5" r="2.4"/><circle class="k0" cx="581.0" cy="136.0" r="3.1"/><circle class="k4" cx="474.0" cy="337.5" r="4.2"/><circle class="k0" cx="640.0" cy="235.0" r="2.5"/><circle class="k3" cx="622.0" cy="451.0" r="5.0"/><circle class="k3" cx="598.5" cy="352.0" r="4.5"/><circle class="k0" cx="552.0" cy="316.0" r="7.0"/><circle class="k3" cx="485.0" cy="379.5" r="2.8"/><circle class="k4" cx="556.0" cy="304.5" r="6.3"/><circle class="k4" cx="548.5" cy="148.5" r="2.0"/><circle class="k4" cx="622.0" cy="371.0" r="3.5"/><circle class="k4" cx="555.5" cy="147.0" r="3.0"/><circle class="k1" cx="526.0" cy="152.0" r="2.5"/><circle class="k3" cx="572.5" cy="383.0" r="8.3"/><circle class="k3" cx="613.5" cy="338.0" r="2.1"/><circle class="k4" cx="452.0" cy="248.5" r="2.5"/><circle class="k3" cx="503.5" cy="411.5" r="3.0"/><circle class="k4" cx="564.0" cy="151.5" r="7.8"/><circle class="k4" cx="446.5" cy="274.5" r="4.2"/><circle class="k4" cx="599.5" cy="426.0" r="9.8"/><circle class="k1" cx="532.0" cy="243.0" r="8.2"/><circle class="k3" cx="600.0" cy="173.5" r="8.3"/><circle class="k3" cx="527.5" cy="339.5" r="8.9"/><circle class="k2" cx="574.5" cy="457.5" r="5.5"/><circle class="k2" cx="542.5" cy="338.0" r="7.8"/><circle class="k0" cx="499.0" cy="178.5" r="2.4"/><circle class="k1" cx="563.0" cy="146.0" r="4.2"/><circle class="k2" cx="538.5" cy="138.0" r="3.1"/><circle class="k4" cx="632.0" cy="210.5" r="5.5"/><circle class="k3" cx="467.5" cy="218.5" r="2.1"/><circle class="k0" cx="550.5" cy="464.0" r="2.8"/><circle class="k2" cx="498.5" cy="233.5" r="9.6"/><circle class="k1" cx="499.0" cy="297.0" r="10.2"/><circle class="k0" cx="596.0" cy="150.5" r="6.7"/><circle class="k2" cx="531.5" cy="148.5" r="4.6"/><circle class="k1" cx="569.0" cy="240.5" r="2.0"/><circle class="k4" cx="485.5" cy="212.5" r="2.0"/><circle class="k3" cx="495.5" cy="387.5" r="3.1"/><circle class="k0" cx="505.5" cy="406.5" r="4.5"/><circle class="k0" cx="540.5" cy="388.0" r="7.8"/><circle class="k3" cx="521.0" cy="204.5" r="9.4"/><circle class="k2" cx="461.5" cy="227.0" r="2.4"/><circle class="k2" cx="587.0" cy="142.0" r="3.7"/><circle class="k3" cx="620.5" cy="187.0" r="3.7"/><circle class="k1" cx="612.5" cy="145.0" r="2.5"/><circle class="k3" cx="449.5" cy="299.0" r="3.1"/><circle class="k0" cx="539.5" cy="455.5" r="3.8"/><circle class="k4" cx="584.5" cy="137.5" r="2.1"/><circle class="k3" cx="501.0" cy="278.5" r="9.4"/><circle class="k3" cx="514.0" cy="236.0" r="10.1"/><circle class="k2" cx="550.5" cy="279.5" r="2.0"/><circle class="k4" cx="508.0" cy="414.0" r="6.3"/><circle class="k0" cx="617.5" cy="429.5" r="9.0"/><circle class="k4" cx="589.0" cy="454.5" r="2.0"/><circle class="k3" cx="618.5" cy="190.0" r="5.5"/><circle class="k4" cx="627.5" cy="157.5" r="4.5"/><circle class="k4" cx="623.0" cy="173.0" r="2.8"/><circle class="k0" cx="578.0" cy="459.5" r="3.0"/><circle class="k2" cx="518.0" cy="164.5" r="4.8"/><circle class="k3" cx="553.0" cy="257.5" r="2.0"/><circle class="k1" cx="546.5" cy="399.5" r="9.0"/><circle class="k4" cx="558.5" cy="301.0" r="2.4"/><circle class="k2" cx="626.5" cy="413.5" r="2.0"/><circle class="k3" cx="478.0" cy="331.5" r="9.2"/><circle class="k4" cx="620.0" cy="354.0" r="6.3"/><circle class="k0" cx="527.5" cy="447.0" r="2.1"/><circle class="k0" cx="564.0" cy="240.0" r="2.1"/><circle class="k2" cx="572.0" cy="443.5" r="9.9"/><circle class="k4" cx="611.0" cy="455.0" r="6.5"/><circle class="k1" cx="443.5" cy="288.5" r="2.0"/><circle class="k2" cx="547.0" cy="275.5" r="5.0"/><circle class="k0" cx="549.5" cy="167.5" r="10.1"/><circle class="k3" cx="608.0" cy="431.0" r="9.7"/><circle class="k3" cx="622.0" cy="409.5" r="2.1"/><circle class="k0" cx="606.0" cy="143.5" r="3.5"/><circle class="k0" cx="503.0" cy="398.5" r="4.2"/><circle class="k2" cx="506.0" cy="339.5" r="7.9"/><circle class="k3" cx="599.0" cy="241.0" r="2.1"/><circle class="k4" cx="454.0" cy="251.5" r="5.0"/><circle class="k2" cx="517.0" cy="437.5" r="2.0"/><circle class="k4" cx="471.0" cy="331.0" r="7.0"/><circle class="k4" cx="517.0" cy="351.5" r="8.9"/><circle class="k1" cx="527.0" cy="328.5" r="8.5"/><circle class="k1" cx="453.0" cy="239.5" r="2.0"/><circle class="k3" cx="570.0" cy="134.0" r="6.5"/><circle class="k0" cx="537.5" cy="319.0" r="9.7"/><circle class="k3" cx="549.5" cy="271.0" r="2.0"/><circle class="k4" cx="512.0" cy="171.0" r="5.6"/><circle class="k4" cx="625.5" cy="178.5" r="2.5"/><circle class="k3" cx="486.0" cy="345.0" r="9.2"/><circle class="k2" cx="558.0" cy="372.5" r="7.9"/><circle class="k1" cx="593.5" cy="354.0" r="5.0"/><circle class="k3" cx="468.0" cy="258.5" r="8.5"/><circle class="k4" cx="562.0" cy="306.0" r="2.0"/><circle class="k4" cx="552.5" cy="236.5" r="3.0"/><circle class="k1" cx="620.5" cy="193.5" r="2.0"/><circle class="k4" cx="461.5" cy="244.0" r="8.0"/><circle class="k1" cx="620.5" cy="165.5" r="2.5"/><circle class="k3" cx="626.0" cy="440.0" r="2.4"/><circle class="k2" cx="617.0" cy="197.0" r="2.1"/><circle class="k0" cx="535.0" cy="139.0" r="3.5"/><circle class="k4" cx="463.0" cy="315.5" r="6.6"/><circle class="k2" cx="480.5" cy="351.0" r="4.0"/><circle class="k1" cx="549.0" cy="186.0" r="8.1"/><circle class="k0" cx="591.5" cy="440.5" r="9.7"/><circle class="k0" cx="599.0" cy="390.0" r="3.2"/><circle class="k4" cx="582.0" cy="454.5" r="3.2"/><circle class="k4" cx="631.5" cy="159.5" r="2.0"/><circle class="k3" cx="522.5" cy="163.5" r="6.4"/><circle class="k2" cx="623.0" cy="182.5" r="3.9"/><circle class="k3" cx="585.0" cy="220.0" r="7.8"/><circle class="k0" cx="502.5" cy="327.0" r="9.7"/><circle class="k3" cx="483.5" cy="369.5" r="5.5"/><circle class="k1" cx="578.5" cy="130.0" r="2.4"/><circle class="k1" cx="496.0" cy="272.0" r="7.9"/><circle class="k0" cx="491.5" cy="213.5" r="3.7"/><circle class="k0" cx="566.5" cy="457.0" r="5.5"/><circle class="k4" cx="479.0" cy="359.5" r="3.5"/><circle class="k1" cx="448.0" cy="271.0" r="3.1"/><circle class="k3" cx="524.0" cy="373.0" r="7.9"/><circle class="k3" cx="600.5" cy="158.0" r="8.0"/><circle class="k4" cx="547.5" cy="211.5" r="9.9"/><circle class="k3" cx="453.5" cy="259.5" r="4.0"/><circle class="k3" cx="624.5" cy="447.0" r="2.5"/><circle class="k1" cx="576.0" cy="201.0" r="7.8"/><circle class="k3" cx="510.5" cy="423.0" r="2.4"/><circle class="k0" cx="612.5" cy="210.5" r="7.8"/><circle class="k3" cx="509.5" cy="378.5" r="10.2"/><circle class="k4" cx="549.5" cy="265.5" r="3.2"/><circle class="k3" cx="480.0" cy="255.5" r="9.7"/><circle class="k3" cx="477.0" cy="345.0" r="2.6"/><circle class="k4" cx="616.5" cy="345.0" r="4.2"/><circle class="k4" cx="520.0" cy="291.5" r="9.9"/><circle class="k4" cx="625.5" cy="354.5" r="2.4"/><circle class="k4" cx="582.0" cy="168.0" r="8.8"/><circle class="k4" cx="592.0" cy="145.0" r="2.1"/><circle class="k4" cx="623.0" cy="415.0" r="5.7"/><circle class="k2" cx="625.0" cy="422.0" r="2.1"/><circle class="k4" cx="475.0" cy="286.0" r="9.2"/><circle class="k4" cx="619.5" cy="348.5" r="3.2"/><circle class="k2" cx="516.5" cy="433.5" r="2.0"/><circle class="k4" cx="538.0" cy="362.5" r="9.7"/><circle class="k0" cx="544.0" cy="462.0" r="2.4"/><circle class="k3" cx="622.5" cy="350.5" r="2.1"/><circle class="k3" cx="445.0" cy="285.0" r="2.5"/><circle class="k4" cx="498.0" cy="189.5" r="2.1"/><circle class="k1" cx="565.5" cy="136.5" r="2.0"/><circle class="k4" cx="629.5" cy="149.5" r="2.1"/><circle class="k0" cx="554.0" cy="460.0" r="2.6"/><circle class="k4" cx="477.0" cy="215.5" r="4.6"/><circle class="k3" cx="561.0" cy="310.5" r="2.1"/><circle class="k3" cx="532.0" cy="235.0" r="9.4"/><circle class="k0" cx="621.0" cy="211.0" r="2.1"/><circle class="k4" cx="617.5" cy="207.5" r="2.1"/><circle class="k2" cx="489.0" cy="216.5" r="5.6"/><circle class="k3" cx="447.5" cy="295.5" r="3.1"/><circle class="k3" cx="478.5" cy="271.0" r="8.0"/><circle class="k4" cx="579.5" cy="227.0" r="6.2"/><circle class="k1" cx="638.0" cy="229.0" r="3.5"/><circle class="k4" cx="573.5" cy="122.5" r="2.1"/><circle class="k4" cx="489.0" cy="382.5" r="3.1"/><circle class="k4" cx="486.0" cy="376.0" r="5.9"/><circle class="k2" cx="621.5" cy="239.0" r="2.5"/><circle class="k1" cx="608.0" cy="416.0" r="8.4"/><circle class="k4" cx="499.5" cy="393.0" r="2.5"/><circle class="k4" cx="531.0" cy="141.5" r="2.0"/><circle class="k0" cx="538.5" cy="145.0" r="7.9"/><circle class="k4" cx="491.5" cy="319.0" r="8.4"/><circle class="k4" cx="579.5" cy="413.0" r="7.9"/><circle class="k3" cx="577.5" cy="233.0" r="2.0"/><circle class="k4" cx="497.0" cy="168.5" r="3.5"/><circle class="k1" cx="499.5" cy="186.0" r="2.8"/><circle class="k0" cx="572.5" cy="460.5" r="2.5"/><circle class="k4" cx="619.5" cy="456.0" r="3.5"/><circle class="k0" cx="633.0" cy="207.0" r="2.0"/><circle class="k4" cx="451.5" cy="256.5" r="2.5"/><circle class="k2" cx="500.5" cy="165.0" r="2.0"/><circle class="k0" cx="603.5" cy="375.0" r="7.9"/><circle class="k0" cx="544.0" cy="455.0" r="7.4"/><circle class="k4" cx="627.0" cy="436.0" r="2.6"/><circle class="k2" cx="476.0" cy="341.5" r="3.5"/><circle class="k4" cx="456.0" cy="246.5" r="5.9"/><circle class="k0" cx="502.0" cy="176.5" r="5.7"/><circle class="k3" cx="602.5" cy="348.5" r="2.6"/><circle class="k2" cx="465.0" cy="224.5" r="3.1"/><circle class="k1" cx="609.0" cy="147.0" r="5.6"/><circle class="k2" cx="483.0" cy="228.5" r="9.6"/><circle class="k3" cx="603.5" cy="458.0" r="2.0"/><circle class="k3" cx="579.5" cy="154.0" r="7.9"/><circle class="k4" cx="612.5" cy="458.5" r="3.2"/><circle class="k2" cx="492.0" cy="386.0" r="2.1"/><circle class="k0" cx="565.5" cy="141.5" r="3.7"/><circle class="k3" cx="608.0" cy="402.5" r="2.0"/><circle class="k1" cx="550.5" cy="341.0" r="8.5"/><circle class="k0" cx="559.5" cy="145.0" r="2.0"/><circle class="k0" cx="614.5" cy="374.5" r="3.1"/><circle class="k4" cx="622.0" cy="215.0" r="6.2"/><circle class="k0" cx="546.0" cy="269.5" r="5.5"/><circle class="k1" cx="506.5" cy="256.0" r="8.1"/><circle class="k2" cx="534.0" cy="143.5" r="5.0"/><circle class="k2" cx="602.0" cy="184.5" r="7.7"/><circle class="k4" cx="465.5" cy="327.5" r="4.4"/><circle class="k4" cx="622.5" cy="436.5" r="7.0"/><circle class="k3" cx="450.5" cy="264.5" r="2.0"/><circle class="k3" cx="565.5" cy="131.5" r="2.0"/><circle class="k0" cx="529.5" cy="395.5" r="7.9"/><circle class="k3" cx="522.0" cy="154.0" r="3.0"/><circle class="k1" cx="459.5" cy="314.5" r="3.5"/><circle class="k2" cx="460.5" cy="318.5" r="3.5"/><circle class="k2" cx="591.0" cy="234.5" r="3.5"/><circle class="k4" cx="604.0" cy="403.0" r="4.6"/><circle class="k0" cx="557.5" cy="325.0" r="2.0"/><circle class="k1" cx="595.0" cy="367.0" r="8.1"/><circle class="k0" cx="535.5" cy="157.5" r="9.2"/><circle class="k0" cx="534.5" cy="184.0" r="10.3"/><circle class="k0" cx="541.5" cy="459.0" r="2.8"/><circle class="k3" cx="585.0" cy="357.5" r="6.1"/><circle class="k2" cx="562.5" cy="331.5" r="2.1"/><circle class="k1" cx="499.5" cy="204.0" r="3.5"/><circle class="k4" cx="514.0" cy="424.5" r="4.2"/><circle class="k0" cx="613.0" cy="202.5" r="4.0"/><circle class="k4" cx="481.0" cy="293.5" r="8.9"/><circle class="k1" cx="549.5" cy="254.0" r="5.5"/><circle class="k0" cx="626.0" cy="418.0" r="3.2"/><circle class="k4" cx="552.0" cy="262.5" r="2.4"/><circle class="k4" cx="626.0" cy="211.5" r="5.2"/><circle class="k1" cx="601.0" cy="387.0" r="2.4"/><circle class="k4" cx="492.5" cy="248.0" r="8.2"/><circle class="k1" cx="532.0" cy="447.0" r="3.9"/><circle class="k3" cx="594.0" cy="350.0" r="2.0"/><circle class="k2" cx="569.5" cy="124.0" r="2.4"/><circle class="k0" cx="521.5" cy="159.5" r="2.8"/><circle class="k3" cx="453.5" cy="299.0" r="5.6"/><circle class="k1" cx="554.0" cy="295.5" r="2.4"/><circle class="k2" cx="577.5" cy="133.5" r="4.8"/><circle class="k4" cx="637.0" cy="233.0" r="5.6"/><circle class="k2" cx="571.0" cy="225.0" r="9.1"/><circle class="k4" cx="469.5" cy="336.0" r="2.1"/><circle class="k0" cx="484.5" cy="305.0" r="9.5"/><circle class="k1" cx="620.0" cy="170.5" r="3.9"/><circle class="k4" cx="540.0" cy="209.0" r="7.9"/><circle class="k0" cx="613.0" cy="408.5" r="7.7"/><circle class="k0" cx="590.5" cy="148.5" r="5.7"/><circle class="k4" cx="541.0" cy="416.5" r="9.1"/><circle class="k1" cx="550.0" cy="247.0" r="2.0"/><circle class="k2" cx="565.5" cy="369.0" r="10.0"/><circle class="k4" cx="566.5" cy="388.0" r="7.8"/><circle class="k4" cx="526.0" cy="380.0" r="7.8"/><circle class="k4" cx="622.5" cy="441.5" r="4.8"/><circle class="k3" cx="552.5" cy="149.0" r="3.7"/><circle class="k2" cx="511.5" cy="290.5" r="7.8"/><circle class="k0" cx="497.5" cy="355.0" r="7.8"/><circle class="k1" cx="579.5" cy="451.0" r="7.4"/><circle class="k4" cx="470.0" cy="316.5" r="7.9"/><circle class="k3" cx="448.5" cy="284.0" r="5.6"/><circle class="k2" cx="496.0" cy="284.5" r="7.9"/><circle class="k3" cx="590.5" cy="351.0" r="2.0"/><circle class="k3" cx="595.5" cy="395.0" r="7.5"/><circle class="k2" cx="610.0" cy="336.5" r="2.4"/><circle class="k4" cx="520.5" cy="341.5" r="7.7"/><circle class="k1" cx="615.5" cy="242.5" r="2.0"/><circle class="k2" cx="537.0" cy="259.5" r="10.0"/><circle class="k0" cx="547.5" cy="291.5" r="4.0"/><circle class="k0" cx="471.0" cy="220.0" r="5.9"/><circle class="k0" cx="553.0" cy="357.5" r="9.2"/><circle class="k0" cx="478.0" cy="354.5" r="2.0"/><circle class="k1" cx="546.5" cy="465.0" r="2.6"/><circle class="k0" cx="564.5" cy="441.0" r="7.8"/><circle class="k4" cx="462.0" cy="324.5" r="2.1"/><circle class="k0" cx="569.0" cy="335.0" r="2.6"/><circle class="k4" cx="445.5" cy="280.5" r="2.0"/><circle class="k0" cx="603.5" cy="232.5" r="8.7"/><circle class="k4" cx="565.5" cy="236.5" r="5.9"/><circle class="k2" cx="540.0" cy="375.5" r="8.0"/><circle class="k4" cx="622.0" cy="147.5" r="4.5"/><circle class="k2" cx="573.5" cy="341.5" r="2.0"/><circle class="k2" cx="556.0" cy="317.5" r="2.8"/><circle class="k3" cx="497.5" cy="207.5" r="2.1"/><circle class="k4" cx="625.5" cy="161.0" r="2.0"/><circle class="k3" cx="540.0" cy="354.0" r="9.4"/><circle class="k2" cx="559.5" cy="333.5" r="5.6"/><circle class="k3" cx="611.5" cy="343.0" r="7.0"/><circle class="k4" cx="521.0" cy="443.5" r="2.4"/><circle class="k4" cx="512.5" cy="209.0" r="8.0"/><circle class="k0" cx="567.5" cy="460.5" r="2.0"/><circle class="k4" cx="611.0" cy="375.5" r="3.8"/><circle class="k4" cx="591.5" cy="402.5" r="9.8"/><circle class="k1" cx="507.0" cy="228.5" r="7.9"/><circle class="k4" cx="623.0" cy="454.5" r="2.1"/><circle class="k0" cx="462.5" cy="231.0" r="5.9"/><circle class="k4" cx="572.0" cy="238.0" r="2.4"/><circle class="k4" cx="609.0" cy="459.5" r="2.0"/><circle class="k4" cx="616.0" cy="403.5" r="2.0"/><circle class="k4" cx="481.0" cy="316.5" r="7.9"/><circle class="k1" cx="550.5" cy="288.5" r="2.4"/><circle class="k3" cx="573.5" cy="349.5" r="5.6"/><circle class="k1" cx="450.5" cy="252.5" r="2.0"/><circle class="k0" cx="548.5" cy="153.0" r="6.5"/><circle class="k3" cx="521.0" cy="431.0" r="6.9"/><circle class="k1" cx="455.5" cy="307.0" r="2.1"/><circle class="k2" cx="624.5" cy="361.0" r="2.0"/><circle class="k0" cx="616.0" cy="200.5" r="2.0"/><circle class="k3" cx="504.0" cy="415.5" r="2.4"/><circle class="k1" cx="613.5" cy="246.0" r="2.0"/><circle class="k3" cx="454.0" cy="263.5" r="4.6"/><circle class="k3" cx="614.0" cy="149.0" r="6.5"/><circle class="k2" cx="580.5" cy="353.5" r="5.9"/><circle class="k3" cx="626.0" cy="451.0" r="2.0"/><circle class="k4" cx="578.5" cy="370.0" r="8.4"/><circle class="k0" cx="618.5" cy="228.5" r="9.7"/><circle class="k2" cx="534.0" cy="219.0" r="7.9"/><circle class="k4" cx="590.5" cy="356.5" r="3.7"/><circle class="k1" cx="519.0" cy="266.0" r="7.9"/><circle class="k0" cx="543.0" cy="172.0" r="8.1"/><circle class="k1" cx="530.0" cy="420.5" r="7.9"/><circle class="k3" cx="525.5" cy="210.5" r="7.8"/><circle class="k2" cx="486.0" cy="360.5" r="8.0"/><circle class="k4" cx="541.5" cy="285.0" r="7.8"/><circle class="k4" cx="601.0" cy="244.0" r="2.4"/><circle class="k4" cx="574.5" cy="235.0" r="2.1"/><circle class="k0" cx="625.0" cy="369.0" r="2.1"/><circle class="k1" cx="521.5" cy="408.0" r="7.8"/><circle class="k4" cx="606.0" cy="347.0" r="4.5"/><circle class="k1" cx="545.0" cy="147.5" r="3.8"/><circle class="k1" cx="514.5" cy="275.0" r="7.8"/><circle class="k2" cx="556.0" cy="235.5" r="3.5"/></g><g class="sp" filter="url(#lt)"><circle class="s0" cx="617.5" cy="455.5" r="5.2"/><circle class="s3" cx="597.5" cy="207.0" r="6.7"/><circle class="s3" cx="491.5" cy="321.5" r="10.8"/><circle class="s1" cx="551.5" cy="413.5" r="8.6"/><circle class="s2" cx="619.0" cy="440.5" r="5.7"/><circle class="s0" cx="510.0" cy="338.0" r="10.0"/><circle class="s0" cx="522.0" cy="305.5" r="6.1"/><circle class="s3" cx="556.0" cy="455.0" r="5.8"/><circle class="s1" cx="546.0" cy="257.5" r="6.5"/><circle class="s0" cx="619.5" cy="212.0" r="3.4"/><circle class="s0" cx="541.5" cy="447.5" r="9.9"/><circle class="s3" cx="525.0" cy="432.0" r="8.2"/><circle class="s0" cx="534.0" cy="355.0" r="8.2"/><circle class="s3" cx="491.5" cy="288.0" r="7.8"/><circle class="s1" cx="531.0" cy="182.5" r="9.7"/><circle class="s2" cx="538.0" cy="418.5" r="7.1"/><circle class="s2" cx="539.0" cy="163.0" r="6.9"/><circle class="s2" cx="609.5" cy="449.5" r="10.9"/><circle class="s1" cx="560.5" cy="434.5" r="5.7"/><circle class="s3" cx="536.0" cy="325.0" r="9.1"/><circle class="s1" cx="479.5" cy="253.5" r="8.8"/><circle class="s0" cx="499.5" cy="239.5" r="6.4"/><circle class="s3" cx="502.5" cy="328.5" r="7.6"/><circle class="s0" cx="584.0" cy="367.0" r="6.0"/><circle class="s0" cx="518.0" cy="183.0" r="7.3"/><circle class="s0" cx="577.5" cy="398.5" r="8.6"/><circle class="s0" cx="587.0" cy="231.0" r="3.9"/><circle class="s2" cx="560.0" cy="413.0" r="6.6"/><circle class="s1" cx="514.0" cy="377.0" r="7.8"/><circle class="s3" cx="511.5" cy="246.0" r="8.0"/><circle class="s3" cx="463.0" cy="303.0" r="6.1"/><circle class="s3" cx="453.0" cy="296.5" r="6.1"/><circle class="s1" cx="558.0" cy="206.0" r="7.4"/><circle class="s2" cx="557.5" cy="378.5" r="5.8"/><circle class="s0" cx="572.5" cy="197.5" r="7.3"/><circle class="s0" cx="533.5" cy="139.5" r="3.4"/><circle class="s2" cx="451.5" cy="286.0" r="9.3"/><circle class="s0" cx="529.5" cy="198.0" r="8.6"/><circle class="s0" cx="482.0" cy="319.0" r="8.1"/><circle class="s3" cx="519.5" cy="204.5" r="5.8"/><circle class="s0" cx="609.0" cy="205.5" r="6.0"/><circle class="s3" cx="529.0" cy="169.5" r="7.3"/><circle class="s1" cx="585.0" cy="424.5" r="6.6"/><circle class="s2" cx="477.5" cy="328.0" r="8.4"/><circle class="s3" cx="457.0" cy="307.5" r="3.3"/><circle class="s1" cx="543.5" cy="428.5" r="9.9"/><circle class="s2" cx="490.5" cy="232.0" r="5.9"/><circle class="s2" cx="536.5" cy="436.5" r="7.6"/><circle class="s2" cx="544.5" cy="377.5" r="8.9"/><circle class="s0" cx="547.5" cy="158.0" r="9.2"/><circle class="s3" cx="565.5" cy="426.0" r="6.4"/><circle class="s3" cx="632.5" cy="212.0" r="5.7"/><circle class="s1" cx="556.0" cy="387.0" r="9.5"/><circle class="s1" cx="524.5" cy="410.5" r="7.8"/><circle class="s2" cx="554.5" cy="194.0" r="6.1"/><circle class="s3" cx="595.0" cy="449.0" r="7.1"/><circle class="s3" cx="491.5" cy="247.0" r="7.6"/><circle class="s3" cx="561.5" cy="353.0" r="5.8"/><circle class="s2" cx="503.5" cy="297.5" r="5.8"/><circle class="s2" cx="544.0" cy="459.0" r="4.7"/><circle class="s3" cx="626.0" cy="223.0" r="8.9"/><circle class="s1" cx="518.0" cy="288.5" r="9.2"/><circle class="s3" cx="595.0" cy="215.5" r="6.1"/><circle class="s2" cx="553.5" cy="438.0" r="6.3"/><circle class="s1" cx="551.0" cy="461.5" r="4.0"/><circle class="s2" cx="551.5" cy="348.0" r="8.4"/><circle class="s1" cx="521.0" cy="346.5" r="11.0"/><circle class="s3" cx="599.5" cy="149.5" r="7.9"/><circle class="s1" cx="572.5" cy="377.5" r="8.4"/><circle class="s1" cx="578.5" cy="226.5" r="7.2"/><circle class="s3" cx="607.0" cy="191.5" r="6.1"/><circle class="s3" cx="515.0" cy="418.5" r="7.1"/><circle class="s1" cx="590.0" cy="374.0" r="6.2"/><circle class="s3" cx="584.5" cy="158.5" r="8.5"/><circle class="s3" cx="545.5" cy="393.5" r="8.4"/><circle class="s2" cx="602.0" cy="437.0" r="6.2"/><circle class="s1" cx="540.0" cy="385.5" r="5.8"/><circle class="s2" cx="511.5" cy="402.0" r="5.8"/><circle class="s2" cx="545.0" cy="269.0" r="6.3"/><circle class="s1" cx="611.5" cy="164.5" r="7.4"/><circle class="s2" cx="548.5" cy="323.5" r="7.5"/><circle class="s2" cx="537.0" cy="395.5" r="6.0"/><circle class="s0" cx="483.5" cy="272.0" r="8.1"/><circle class="s2" cx="545.0" cy="190.0" r="8.9"/><circle class="s3" cx="507.5" cy="194.5" r="5.7"/><circle class="s3" cx="585.0" cy="414.5" r="7.3"/><circle class="s0" cx="460.0" cy="281.5" r="6.4"/><circle class="s0" cx="561.0" cy="231.0" r="6.7"/><circle class="s1" cx="496.0" cy="344.5" r="5.9"/><circle class="s0" cx="535.5" cy="280.5" r="6.1"/><circle class="s1" cx="507.5" cy="184.0" r="10.3"/><circle class="s2" cx="536.0" cy="264.5" r="7.7"/><circle class="s3" cx="465.5" cy="253.0" r="9.9"/><circle class="s0" cx="499.0" cy="365.0" r="7.4"/><circle class="s1" cx="546.0" cy="341.5" r="6.0"/><circle class="s3" cx="633.5" cy="239.0" r="4.6"/><circle class="s3" cx="624.5" cy="234.5" r="7.5"/><circle class="s2" cx="558.0" cy="169.5" r="9.5"/><circle class="s3" cx="619.5" cy="432.0" r="7.7"/><circle class="s0" cx="505.0" cy="282.5" r="6.5"/><circle class="s1" cx="524.5" cy="371.5" r="7.3"/><circle class="s3" cx="516.5" cy="320.0" r="6.6"/><circle class="s0" cx="551.5" cy="298.5" r="6.3"/><circle class="s2" cx="529.0" cy="158.0" r="7.3"/><circle class="s3" cx="495.0" cy="358.0" r="5.7"/><circle class="s3" cx="573.5" cy="232.0" r="5.1"/><circle class="s1" cx="534.5" cy="366.5" r="6.3"/><circle class="s1" cx="542.5" cy="298.5" r="6.9"/><circle class="s3" cx="539.5" cy="209.5" r="6.7"/><circle class="s2" cx="538.0" cy="335.0" r="5.8"/><circle class="s3" cx="614.5" cy="189.5" r="6.1"/><circle class="s0" cx="612.5" cy="154.5" r="10.8"/><circle class="s1" cx="527.0" cy="248.5" r="6.9"/><circle class="s3" cx="484.5" cy="241.5" r="5.8"/><circle class="s1" cx="474.5" cy="229.0" r="7.6"/><circle class="s0" cx="511.0" cy="230.5" r="6.3"/><circle class="s0" cx="622.0" cy="180.5" r="6.1"/><circle class="s3" cx="610.0" cy="407.5" r="7.2"/><circle class="s3" cx="530.0" cy="236.0" r="8.2"/><circle class="s3" cx="615.0" cy="175.5" r="8.5"/><circle class="s1" cx="482.0" cy="344.0" r="7.9"/><circle class="s0" cx="617.0" cy="419.5" r="8.9"/><circle class="s0" cx="601.5" cy="399.0" r="4.4"/><circle class="s2" cx="581.0" cy="453.0" r="5.1"/><circle class="s1" cx="553.5" cy="319.0" r="5.2"/><circle class="s2" cx="588.5" cy="432.5" r="9.6"/><circle class="s2" cx="491.0" cy="381.5" r="5.4"/><circle class="s3" cx="586.5" cy="146.5" r="6.9"/><circle class="s3" cx="466.5" cy="313.5" r="8.0"/><circle class="s3" cx="575.5" cy="445.0" r="6.6"/><circle class="s1" cx="477.0" cy="308.0" r="5.9"/><circle class="s2" cx="484.5" cy="306.0" r="8.0"/><circle class="s3" cx="596.0" cy="236.5" r="4.8"/><circle class="s1" cx="589.0" cy="185.0" r="10.0"/><circle class="s2" cx="478.5" cy="221.5" r="5.8"/><circle class="s0" cx="594.5" cy="423.5" r="7.7"/><circle class="s0" cx="527.0" cy="380.0" r="6.7"/><circle class="s0" cx="504.5" cy="390.5" r="8.0"/><circle class="s3" cx="598.0" cy="455.0" r="3.4"/><circle class="s3" cx="549.5" cy="215.0" r="7.3"/><circle class="s2" cx="569.5" cy="437.0" r="6.6"/><circle class="s2" cx="596.5" cy="382.5" r="7.9"/><circle class="s0" cx="513.0" cy="211.0" r="5.8"/><circle class="s0" cx="519.0" cy="170.0" r="9.2"/><circle class="s3" cx="450.5" cy="278.0" r="6.1"/><circle class="s3" cx="468.5" cy="262.0" r="6.5"/><circle class="s0" cx="560.0" cy="361.5" r="7.8"/><circle class="s1" cx="540.0" cy="234.0" r="7.4"/><circle class="s1" cx="581.0" cy="383.5" r="10.9"/><circle class="s1" cx="491.0" cy="217.5" r="7.4"/><circle class="s0" cx="587.0" cy="207.5" r="5.8"/><circle class="s2" cx="513.0" cy="307.0" r="9.1"/><circle class="s0" cx="524.5" cy="355.0" r="7.1"/><circle class="s1" cx="501.0" cy="181.5" r="3.7"/><circle class="s1" cx="468.0" cy="327.5" r="6.9"/><circle class="s1" cx="476.0" cy="341.5" r="3.7"/><circle class="s2" cx="516.5" cy="363.5" r="6.5"/><circle class="s0" cx="609.5" cy="373.5" r="6.5"/><circle class="s3" cx="609.0" cy="215.0" r="6.4"/><circle class="s1" cx="597.5" cy="364.0" r="9.6"/><circle class="s1" cx="505.0" cy="173.0" r="8.8"/><circle class="s1" cx="545.5" cy="420.0" r="5.9"/><circle class="s0" cx="571.0" cy="418.0" r="10.5"/><circle class="s0" cx="560.0" cy="182.5" r="6.2"/><circle class="s2" cx="518.0" cy="264.5" r="10.7"/><circle class="s2" cx="482.0" cy="334.0" r="5.8"/><circle class="s3" cx="599.5" cy="223.5" r="8.8"/><circle class="s0" cx="523.0" cy="224.0" r="5.8"/><circle class="s3" cx="527.5" cy="339.5" r="5.8"/><circle class="s3" cx="613.0" cy="224.0" r="8.3"/><circle class="s1" cx="496.5" cy="278.0" r="6.8"/><circle class="s1" cx="500.0" cy="317.5" r="6.9"/><circle class="s2" cx="501.5" cy="224.5" r="7.8"/><circle class="s2" cx="573.0" cy="344.5" r="3.9"/><circle class="s3" cx="567.5" cy="369.0" r="8.7"/><circle class="s2" cx="498.0" cy="170.0" r="4.1"/><circle class="s3" cx="624.0" cy="412.0" r="3.3"/><circle class="s3" cx="589.0" cy="407.0" r="6.2"/><circle class="s0" cx="610.5" cy="245.5" r="3.7"/><circle class="s2" cx="619.5" cy="148.5" r="5.7"/><circle class="s2" cx="498.5" cy="269.0" r="10.4"/><circle class="s1" cx="535.0" cy="447.5" r="4.8"/><circle class="s0" cx="517.5" cy="237.0" r="10.7"/><circle class="s3" cx="536.0" cy="305.5" r="8.2"/><circle class="s3" cx="575.0" cy="169.5" r="8.9"/><circle class="s2" cx="539.5" cy="454.5" r="4.7"/><circle class="s1" cx="492.5" cy="371.5" r="6.7"/><circle class="s0" cx="614.5" cy="341.0" r="3.7"/><circle class="s0" cx="626.0" cy="434.5" r="3.7"/><circle class="s2" cx="529.0" cy="212.5" r="5.9"/><circle class="s2" cx="620.5" cy="356.0" r="6.9"/><circle class="s2" cx="518.5" cy="386.5" r="6.0"/><circle class="s0" cx="577.5" cy="435.5" r="6.4"/><circle class="s1" cx="620.5" cy="189.0" r="3.7"/><circle class="s2" cx="551.0" cy="403.0" r="5.9"/><circle class="s2" cx="632.5" cy="229.5" r="6.3"/><circle class="s0" cx="598.0" cy="168.0" r="6.5"/><circle class="s3" cx="596.5" cy="394.5" r="6.6"/><circle class="s3" cx="525.5" cy="275.0" r="7.4"/><circle class="s0" cx="513.5" cy="353.5" r="6.5"/><circle class="s0" cx="578.0" cy="138.5" r="6.2"/><circle class="s2" cx="477.5" cy="213.5" r="3.2"/><circle class="s3" cx="595.5" cy="355.5" r="5.7"/><circle class="s2" cx="501.5" cy="251.5" r="8.3"/><circle class="s3" cx="570.0" cy="357.0" r="8.7"/><circle class="s0" cx="531.0" cy="225.5" r="10.5"/><circle class="s2" cx="519.5" cy="439.5" r="3.7"/><circle class="s3" cx="617.5" cy="409.5" r="5.5"/><circle class="s0" cx="542.0" cy="351.0" r="5.7"/><circle class="s3" cx="550.0" cy="252.5" r="4.6"/><circle class="s2" cx="525.5" cy="398.5" r="7.0"/><circle class="s3" cx="497.0" cy="301.5" r="6.0"/><circle class="s0" cx="537.0" cy="247.5" r="9.5"/><circle class="s3" cx="605.0" cy="415.0" r="5.9"/><circle class="s3" cx="568.0" cy="216.0" r="5.7"/><circle class="s3" cx="528.5" cy="286.5" r="5.9"/><circle class="s0" cx="608.5" cy="342.0" r="4.7"/><circle class="s3" cx="557.5" cy="333.5" r="7.0"/><circle class="s0" cx="501.5" cy="211.5" r="7.9"/><circle class="s0" cx="604.0" cy="428.0" r="9.2"/><circle class="s3" cx="504.0" cy="261.0" r="5.8"/><circle class="s3" cx="596.0" cy="196.0" r="5.7"/><circle class="s2" cx="456.5" cy="259.0" r="6.0"/><circle class="s0" cx="500.5" cy="201.0" r="4.2"/><circle class="s3" cx="479.0" cy="235.5" r="6.0"/><circle class="s1" cx="524.5" cy="329.0" r="8.3"/><circle class="s1" cx="494.5" cy="262.0" r="5.7"/><circle class="s1" cx="538.0" cy="316.0" r="7.2"/><circle class="s2" cx="613.5" cy="236.5" r="7.2"/><circle class="s2" cx="593.5" cy="176.0" r="6.1"/><circle class="s3" cx="457.5" cy="234.0" r="4.4"/><circle class="s3" cx="474.0" cy="284.0" r="5.8"/><circle class="s1" cx="623.0" cy="367.5" r="4.7"/><circle class="s0" cx="565.5" cy="447.0" r="8.5"/><circle class="s3" cx="632.5" cy="217.5" r="4.2"/><circle class="s0" cx="547.0" cy="278.0" r="5.7"/><circle class="s2" cx="597.0" cy="408.0" r="5.9"/><circle class="s1" cx="613.0" cy="145.5" r="3.2"/><circle class="s0" cx="563.0" cy="145.0" r="3.7"/><circle class="s0" cx="550.0" cy="231.5" r="8.6"/><circle class="s1" cx="477.0" cy="291.0" r="7.3"/><circle class="s2" cx="517.0" cy="430.5" r="3.4"/><circle class="s1" cx="621.5" cy="160.0" r="5.1"/><circle class="s2" cx="549.5" cy="248.0" r="3.0"/><circle class="s1" cx="542.0" cy="197.5" r="5.7"/><circle class="s1" cx="605.0" cy="176.0" r="6.9"/><circle class="s1" cx="616.0" cy="208.5" r="4.0"/><circle class="s3" cx="534.0" cy="150.0" r="7.7"/><circle class="s2" cx="480.0" cy="356.0" r="4.2"/><circle class="s2" cx="486.0" cy="364.0" r="7.8"/><circle class="s3" cx="575.5" cy="212.5" r="7.8"/><circle class="s2" cx="543.0" cy="363.0" r="8.0"/><circle class="s2" cx="574.5" cy="129.0" r="5.4"/><circle class="s0" cx="619.0" cy="216.5" r="6.7"/><circle class="s3" cx="453.5" cy="265.5" r="5.2"/><circle class="s3" cx="576.0" cy="184.0" r="7.8"/><circle class="s3" cx="559.0" cy="460.0" r="3.2"/><circle class="s1" cx="470.5" cy="301.0" r="9.4"/><circle class="s2" cx="524.0" cy="422.5" r="6.4"/><circle class="s2" cx="524.5" cy="296.0" r="7.1"/><circle class="s3" cx="462.5" cy="293.0" r="7.7"/><circle class="s1" cx="465.5" cy="274.5" r="6.9"/><circle class="s3" cx="564.5" cy="153.5" r="8.5"/><circle class="s2" cx="537.5" cy="342.5" r="7.6"/><circle class="s2" cx="502.5" cy="307.5" r="10.3"/><circle class="s1" cx="507.5" cy="270.0" r="7.0"/><circle class="s2" cx="605.5" cy="404.0" r="4.4"/><circle class="s3" cx="474.0" cy="245.0" r="5.7"/><circle class="s2" cx="505.5" cy="203.5" r="6.1"/><circle class="s0" cx="600.5" cy="373.0" r="7.4"/><circle class="s2" cx="596.5" cy="350.5" r="3.2"/><circle class="s2" cx="458.0" cy="243.0" r="7.4"/><circle class="s3" cx="523.0" cy="257.5" r="6.4"/><circle class="s3" cx="542.5" cy="171.0" r="6.5"/><circle class="s2" cx="611.0" cy="350.0" r="10.4"/><circle class="s0" cx="602.0" cy="237.5" r="6.9"/><circle class="s2" cx="507.0" cy="411.0" r="6.4"/><circle class="s0" cx="572.0" cy="146.0" r="6.3"/><circle class="s1" cx="557.0" cy="395.5" r="6.4"/><circle class="s3" cx="526.0" cy="444.5" r="3.9"/><circle class="s3" cx="535.5" cy="218.5" r="6.1"/><circle class="s0" cx="631.5" cy="156.0" r="4.7"/><circle class="s1" cx="482.0" cy="212.5" r="3.2"/><circle class="s2" cx="545.5" cy="332.5" r="7.2"/><circle class="s0" cx="451.5" cy="253.0" r="3.2"/><circle class="s2" cx="571.0" cy="409.0" r="6.6"/><circle class="s2" cx="544.0" cy="146.5" r="4.1"/><circle class="s0" cx="557.0" cy="301.5" r="4.0"/><circle class="s3" cx="586.5" cy="220.0" r="7.7"/><circle class="s1" cx="567.5" cy="398.0" r="6.9"/><circle class="s1" cx="475.5" cy="272.5" r="5.7"/><circle class="s1" cx="523.0" cy="192.0" r="6.2"/><circle class="s1" cx="574.0" cy="364.5" r="5.9"/><circle class="s3" cx="460.5" cy="319.5" r="3.3"/><circle class="s2" cx="549.5" cy="150.0" r="3.7"/><circle class="s0" cx="614.0" cy="200.5" r="3.9"/><circle class="s2" cx="507.5" cy="368.0" r="5.9"/><circle class="s1" cx="557.5" cy="221.0" r="5.8"/><circle class="s0" cx="568.5" cy="236.5" r="6.1"/><circle class="s3" cx="504.0" cy="406.0" r="3.4"/><circle class="s0" cx="499.5" cy="289.0" r="5.8"/><circle class="s3" cx="514.0" cy="277.5" r="7.7"/><circle class="s2" cx="584.5" cy="199.0" r="8.6"/><circle class="s3" cx="460.5" cy="268.0" r="5.7"/><circle class="s2" cx="628.5" cy="151.0" r="4.0"/><circle class="s2" cx="609.0" cy="363.0" r="10.3"/><circle class="s1" cx="580.0" cy="134.5" r="3.4"/><circle class="s0" cx="571.0" cy="455.0" r="6.1"/><circle class="s0" cx="582.0" cy="353.5" r="5.1"/><circle class="s1" cx="549.5" cy="265.0" r="3.7"/><circle class="s0" cx="453.0" cy="247.0" r="3.3"/><circle class="s2" cx="545.5" cy="285.5" r="6.2"/><circle class="s0" cx="497.0" cy="337.0" r="9.2"/><circle class="s0" cx="500.5" cy="378.0" r="8.5"/><circle class="s2" cx="623.0" cy="427.0" r="4.6"/><circle class="s3" cx="633.0" cy="223.0" r="4.6"/><circle class="s2" cx="604.0" cy="356.0" r="6.2"/><circle class="s3" cx="577.5" cy="349.0" r="3.2"/><circle class="s0" cx="555.5" cy="147.5" r="3.7"/><circle class="s2" cx="485.0" cy="262.0" r="6.4"/><circle class="s3" cx="554.5" cy="369.0" r="6.2"/><circle class="s1" cx="538.0" cy="406.5" r="9.1"/><circle class="s0" cx="551.0" cy="182.5" r="10.1"/><circle class="s1" cx="528.0" cy="312.5" r="5.8"/><circle class="s0" cx="465.5" cy="228.0" r="6.1"/><circle class="s1" cx="523.5" cy="153.5" r="3.3"/><circle class="s2" cx="588.5" cy="453.0" r="3.7"/><circle class="s3" cx="567.0" cy="224.5" r="7.2"/><circle class="s1" cx="553.0" cy="311.0" r="5.9"/><circle class="s3" cx="624.0" cy="417.0" r="5.7"/><circle class="s0" cx="490.0" cy="298.0" r="10.1"/><circle class="s0" cx="607.0" cy="146.0" r="5.7"/><circle class="s1" cx="583.5" cy="176.5" r="8.9"/><circle class="s0" cx="566.0" cy="208.0" r="6.5"/><circle class="s1" cx="530.5" cy="256.5" r="5.8"/><circle class="s0" cx="546.5" cy="306.5" r="8.9"/><circle class="s0" cx="501.0" cy="191.5" r="5.3"/><circle class="s2" cx="459.5" cy="314.5" r="3.7"/><circle class="s2" cx="537.0" cy="289.0" r="9.2"/><circle class="s1" cx="588.5" cy="442.5" r="10.1"/><circle class="s1" cx="575.0" cy="154.5" r="5.7"/><circle class="s1" cx="566.0" cy="163.0" r="9.8"/><circle class="s0" cx="570.5" cy="388.5" r="5.7"/><circle class="s3" cx="563.0" cy="406.0" r="5.7"/><circle class="s1" cx="475.0" cy="336.5" r="5.8"/><circle class="s1" cx="599.5" cy="387.5" r="3.7"/><circle class="s0" cx="503.0" cy="354.5" r="9.5"/><circle class="s2" cx="515.5" cy="195.0" r="9.2"/><circle class="s0" cx="545.5" cy="437.5" r="6.0"/><circle class="s2" cx="601.5" cy="159.5" r="9.2"/><circle class="s3" cx="618.5" cy="239.0" r="3.0"/><circle class="s0" cx="588.5" cy="168.5" r="6.1"/><circle class="s1" cx="469.0" cy="219.0" r="3.9"/><circle class="s3" cx="557.0" cy="422.0" r="9.6"/><circle class="s0" cx="604.5" cy="346.0" r="3.0"/><circle class="s2" cx="547.5" cy="464.5" r="3.4"/><circle class="s0" cx="563.0" cy="341.0" r="8.5"/><circle class="s2" cx="497.5" cy="388.0" r="4.0"/><circle class="s0" cx="593.5" cy="160.5" r="5.7"/><circle class="s1" cx="623.0" cy="444.5" r="3.7"/><circle class="s0" cx="545.0" cy="221.5" r="5.7"/><circle class="s1" cx="549.5" cy="288.0" r="3.3"/><circle class="s3" cx="447.0" cy="281.5" r="3.7"/><circle class="s0" cx="595.0" cy="147.0" r="3.3"/><circle class="s2" cx="535.0" cy="375.0" r="8.3"/><circle class="s1" cx="551.0" cy="362.5" r="5.7"/><circle class="s1" cx="558.0" cy="314.0" r="3.3"/><circle class="s2" cx="467.0" cy="241.5" r="6.3"/><circle class="s2" cx="541.5" cy="139.5" r="3.3"/><circle class="s2" cx="587.5" cy="355.0" r="3.0"/><circle class="s3" cx="598.5" cy="144.0" r="3.3"/><circle class="s0" cx="566.5" cy="191.0" r="6.6"/><circle class="s0" cx="512.0" cy="256.0" r="9.6"/><circle class="s2" cx="602.0" cy="244.5" r="3.3"/><circle class="s3" cx="610.0" cy="458.0" r="3.7"/><circle class="s1" cx="523.0" cy="162.5" r="5.7"/><circle class="s3" cx="559.5" cy="307.0" r="4.2"/><circle class="s1" cx="444.5" cy="288.0" r="3.0"/><circle class="s2" cx="551.0" cy="201.0" r="6.3"/><circle class="s1" cx="483.0" cy="284.0" r="6.1"/><circle class="s0" cx="579.0" cy="231.0" r="3.3"/><circle class="s2" cx="508.0" cy="348.5" r="5.7"/><circle class="s3" cx="555.0" cy="325.5" r="4.7"/><circle class="s0" cx="467.5" cy="332.5" r="3.7"/><circle class="s0" cx="481.0" cy="366.0" r="3.9"/><circle class="s0" cx="622.5" cy="452.0" r="4.4"/><circle class="s1" cx="510.5" cy="422.0" r="3.0"/><circle class="s0" cx="519.5" cy="335.0" r="6.1"/><circle class="s1" cx="567.5" cy="177.5" r="6.8"/><circle class="s2" cx="627.0" cy="210.0" r="4.4"/><circle class="s0" cx="445.5" cy="273.5" r="3.0"/><circle class="s0" cx="591.5" cy="235.5" r="3.3"/><circle class="s2" cx="547.5" cy="292.5" r="4.2"/><circle class="s0" cx="507.0" cy="315.0" r="5.9"/><circle class="s0" cx="503.5" cy="414.0" r="3.4"/><circle class="s2" cx="603.5" cy="200.0" r="8.8"/><circle class="s1" cx="488.0" cy="349.5" r="6.1"/><circle class="s2" cx="513.5" cy="330.0" r="5.7"/><circle class="s2" cx="549.5" cy="242.0" r="3.0"/><circle class="s2" cx="617.0" cy="405.0" r="3.3"/><circle class="s2" cx="622.5" cy="362.0" r="4.2"/><circle class="s2" cx="502.5" cy="396.5" r="4.4"/><circle class="s3" cx="617.0" cy="371.0" r="5.2"/><circle class="s3" cx="575.0" cy="425.0" r="5.7"/><circle class="s2" cx="537.5" cy="188.5" r="5.8"/><circle class="s2" cx="617.5" cy="346.0" r="3.9"/><circle class="s2" cx="558.5" cy="329.0" r="3.4"/><circle class="s2" cx="609.5" cy="434.5" r="6.0"/><circle class="s0" cx="541.0" cy="182.0" r="5.7"/><circle class="s0" cx="478.5" cy="298.5" r="5.7"/><circle class="s3" cx="519.0" cy="248.0" r="5.7"/><circle class="s1" cx="525.5" cy="267.0" r="6.1"/><circle class="s1" cx="567.5" cy="135.0" r="4.2"/><circle class="s2" cx="525.0" cy="391.0" r="5.9"/><circle class="s1" cx="587.0" cy="141.0" r="3.3"/><circle class="s2" cx="500.5" cy="166.0" r="3.2"/><circle class="s1" cx="626.5" cy="158.0" r="4.2"/><circle class="s2" cx="464.0" cy="322.5" r="5.0"/><circle class="s0" cx="509.0" cy="417.5" r="4.4"/><circle class="s3" cx="467.0" cy="286.5" r="6.2"/><circle class="s0" cx="510.0" cy="220.0" r="6.4"/><circle class="s2" cx="601.0" cy="186.5" r="5.9"/><circle class="s3" cx="454.0" cy="302.5" r="3.7"/><circle class="s0" cx="555.5" cy="235.0" r="4.2"/><circle class="s3" cx="534.5" cy="427.0" r="6.0"/><circle class="s2" cx="568.0" cy="127.5" r="3.3"/><circle class="s3" cx="483.0" cy="370.5" r="5.2"/><circle class="s3" cx="564.5" cy="376.5" r="5.9"/><circle class="s0" cx="510.5" cy="385.0" r="6.3"/><circle class="s1" cx="522.5" cy="177.0" r="5.8"/><circle class="s3" cx="590.5" cy="388.5" r="5.9"/><circle class="s2" cx="551.5" cy="257.5" r="3.7"/><circle class="s0" cx="525.0" cy="319.5" r="5.8"/><circle class="s2" cx="531.5" cy="347.0" r="5.8"/><circle class="s1" cx="555.0" cy="446.5" r="10.0"/><circle class="s0" cx="583.5" cy="394.0" r="5.8"/><circle class="s3" cx="620.5" cy="168.0" r="3.2"/><circle class="s3" cx="530.0" cy="147.5" r="3.0"/><circle class="s3" cx="479.5" cy="351.5" r="3.2"/><circle class="s1" cx="562.5" cy="197.5" r="6.0"/><circle class="s2" cx="500.0" cy="176.5" r="4.1"/><circle class="s3" cx="564.0" cy="238.5" r="3.7"/><circle class="s3" cx="506.0" cy="236.0" r="5.8"/><circle class="s1" cx="622.0" cy="172.5" r="3.3"/><circle class="s0" cx="510.0" cy="292.5" r="6.8"/><circle class="s3" cx="572.0" cy="123.0" r="3.3"/><circle class="s2" cx="473.5" cy="318.0" r="6.6"/><circle class="s1" cx="486.5" cy="225.0" r="5.7"/><circle class="s2" cx="452.0" cy="258.0" r="3.2"/><circle class="s0" cx="553.5" cy="340.0" r="5.8"/><circle class="s1" cx="622.5" cy="352.0" r="3.3"/><circle class="s0" cx="495.5" cy="211.0" r="3.9"/><circle class="s3" cx="483.5" cy="378.0" r="3.0"/><circle class="s2" cx="618.5" cy="448.0" r="7.2"/><circle class="s1" cx="490.5" cy="312.5" r="5.7"/><circle class="s0" cx="565.0" cy="335.0" r="4.4"/><circle class="s0" cx="490.5" cy="330.0" r="6.4"/><circle class="s1" cx="515.0" cy="426.0" r="4.4"/><circle class="s3" cx="549.0" cy="274.0" r="3.2"/><circle class="s3" cx="564.0" cy="458.0" r="4.7"/><circle class="s2" cx="488.5" cy="279.0" r="5.8"/><circle class="s2" cx="568.5" cy="459.5" r="3.2"/><circle class="s0" cx="602.5" cy="350.0" r="3.7"/><circle class="s3" cx="555.5" cy="154.0" r="5.8"/><circle class="s1" cx="624.0" cy="421.5" r="3.4"/><circle class="s1" cx="510.5" cy="169.5" r="4.2"/><circle class="s3" cx="591.5" cy="229.0" r="7.9"/><circle class="s2" cx="515.5" cy="393.5" r="8.2"/><circle class="s3" cx="602.5" cy="454.5" r="5.2"/><circle class="s3" cx="570.0" cy="337.5" r="3.3"/><circle class="s3" cx="520.5" cy="212.5" r="5.7"/><circle class="s0" cx="532.5" cy="388.0" r="7.4"/><circle class="s1" cx="449.5" cy="270.5" r="4.0"/><circle class="s3" cx="544.5" cy="249.0" r="6.0"/><circle class="s3" cx="583.5" cy="137.5" r="3.0"/><circle class="s1" cx="500.0" cy="186.5" r="3.7"/><circle class="s2" cx="507.5" cy="322.5" r="5.8"/><circle class="s1" cx="579.0" cy="192.5" r="5.9"/><circle class="s1" cx="463.5" cy="327.0" r="3.0"/><circle class="s0" cx="602.0" cy="383.5" r="3.3"/><circle class="s0" cx="612.5" cy="403.0" r="3.0"/><circle class="s3" cx="552.0" cy="429.5" r="5.7"/><circle class="s3" cx="548.5" cy="450.5" r="5.9"/><circle class="s1" cx="638.5" cy="229.0" r="3.2"/><circle class="s1" cx="520.0" cy="404.5" r="5.7"/><circle class="s2" cx="623.5" cy="239.0" r="3.0"/><circle class="s2" cx="488.0" cy="214.0" r="3.2"/><circle class="s3" cx="515.5" cy="165.5" r="3.9"/><circle class="s2" cx="549.5" cy="174.5" r="5.7"/><circle class="s2" cx="479.0" cy="360.5" r="3.3"/><circle class="s0" cx="542.0" cy="241.5" r="6.0"/><circle class="s0" cx="585.5" cy="359.0" r="7.3"/><circle class="s1" cx="625.5" cy="439.0" r="3.4"/><circle class="s1" cx="593.5" cy="453.5" r="3.3"/><circle class="s3" cx="478.0" cy="346.0" r="3.4"/><circle class="s3" cx="546.0" cy="315.0" r="6.0"/><circle class="s1" cx="577.5" cy="203.5" r="5.8"/><circle class="s3" cx="492.5" cy="255.0" r="5.8"/><circle class="s0" cx="617.0" cy="195.0" r="3.3"/><circle class="s3" cx="493.5" cy="386.0" r="3.3"/><circle class="s0" cx="447.5" cy="293.5" r="3.7"/><circle class="s3" cx="565.0" cy="140.5" r="3.0"/><circle class="s3" cx="639.0" cy="234.5" r="3.7"/><circle class="s0" cx="595.5" cy="415.5" r="5.9"/><circle class="s3" cx="629.0" cy="240.5" r="3.2"/><circle class="s3" cx="605.0" cy="378.5" r="4.4"/><circle class="s2" cx="455.0" cy="238.5" r="3.7"/><circle class="s2" cx="517.5" cy="435.0" r="3.0"/><circle class="s3" cx="625.5" cy="147.5" r="3.3"/><circle class="s2" cx="549.5" cy="237.5" r="4.4"/><circle class="s3" cx="473.0" cy="216.0" r="3.7"/><circle class="s0" cx="506.0" cy="167.0" r="3.3"/><circle class="s2" cx="520.5" cy="313.0" r="5.9"/><circle class="s3" cx="581.0" cy="408.0" r="6.0"/><circle class="s0" cx="498.5" cy="205.5" r="3.0"/><circle class="s3" cx="575.5" cy="459.5" r="3.7"/><circle class="s3" cx="603.5" cy="142.5" r="3.2"/><circle class="s1" cx="553.5" cy="163.5" r="5.7"/><circle class="s0" cx="540.5" cy="154.5" r="5.8"/><circle class="s0" cx="526.0" cy="363.5" r="5.7"/><circle class="s2" cx="590.5" cy="153.5" r="5.8"/><circle class="s2" cx="477.0" cy="265.0" r="6.6"/><circle class="s2" cx="524.5" cy="241.5" r="5.9"/><circle class="s1" cx="535.5" cy="175.0" r="6.1"/><circle class="s1" cx="608.0" cy="183.5" r="5.8"/><circle class="s1" cx="534.0" cy="297.0" r="5.7"/><circle class="s2" cx="488.0" cy="339.5" r="5.7"/><circle class="s3" cx="485.5" cy="356.5" r="5.7"/><circle class="s1" cx="580.0" cy="458.5" r="3.3"/><circle class="s1" cx="530.5" cy="447.5" r="3.0"/><circle class="s2" cx="549.0" cy="282.5" r="3.2"/><circle class="s0" cx="528.0" cy="152.0" r="3.7"/><circle class="s0" cx="560.0" cy="236.5" r="3.3"/><circle class="s2" cx="533.5" cy="271.5" r="5.8"/><circle class="s3" cx="554.0" cy="355.0" r="5.8"/><circle class="s2" cx="485.0" cy="292.0" r="5.9"/><circle class="s2" cx="611.5" cy="337.5" r="3.0"/><circle class="s3" cx="457.0" cy="251.0" r="6.0"/><circle class="s0" cx="470.5" cy="336.0" r="3.0"/><circle class="s1" cx="532.5" cy="413.0" r="5.9"/><circle class="s2" cx="613.0" cy="426.0" r="6.0"/><circle class="s0" cx="614.5" cy="242.0" r="3.3"/><circle class="s3" cx="608.5" cy="230.0" r="5.9"/><circle class="s2" cx="537.5" cy="137.5" r="3.2"/><circle class="s3" cx="530.0" cy="441.0" r="5.8"/><circle class="s3" cx="580.5" cy="374.5" r="6.4"/><circle class="s1" cx="589.5" cy="399.0" r="6.5"/><circle class="s1" cx="466.0" cy="223.5" r="3.3"/><circle class="s2" cx="542.0" cy="370.5" r="5.7"/><circle class="s1" cx="564.5" cy="384.5" r="5.7"/><circle class="s0" cx="534.5" cy="203.5" r="5.8"/><circle class="s0" cx="448.0" cy="298.0" r="3.0"/><circle class="s0" cx="494.0" cy="224.5" r="5.7"/><circle class="s0" cx="516.5" cy="297.5" r="5.8"/><circle class="s0" cx="617.0" cy="362.5" r="5.7"/><circle class="s0" cx="539.0" cy="226.0" r="5.8"/><circle class="s3" cx="522.0" cy="158.0" r="3.2"/><circle class="s1" cx="500.0" cy="392.5" r="3.2"/><circle class="s1" cx="460.0" cy="229.0" r="3.0"/><circle class="s0" cx="499.0" cy="195.5" r="3.0"/><circle class="s0" cx="592.0" cy="352.0" r="3.4"/><circle class="s2" cx="602.5" cy="447.0" r="5.8"/><circle class="s0" cx="513.0" cy="175.5" r="6.1"/><circle class="s2" cx="569.0" cy="348.5" r="6.2"/><circle class="s1" cx="560.5" cy="214.0" r="6.3"/><circle class="s1" cx="538.0" cy="256.5" r="6.3"/><circle class="s0" cx="548.5" cy="384.5" r="6.1"/><circle class="s3" cx="594.5" cy="437.5" r="5.8"/><circle class="s3" cx="622.0" cy="372.0" r="3.0"/><circle class="s1" cx="521.0" cy="281.5" r="5.8"/><circle class="s0" cx="502.5" cy="401.0" r="3.2"/><circle class="s3" cx="625.5" cy="176.5" r="3.2"/><circle class="s3" cx="578.0" cy="162.5" r="6.0"/><circle class="s2" cx="563.5" cy="392.0" r="5.7"/><circle class="s3" cx="622.5" cy="185.0" r="3.3"/><circle class="s2" cx="539.5" cy="143.5" r="6.6"/><circle class="s3" cx="588.5" cy="381.5" r="5.7"/><circle class="s3" cx="518.5" cy="162.0" r="3.3"/><circle class="s1" cx="614.0" cy="375.0" r="3.0"/><circle class="s1" cx="608.0" cy="442.0" r="6.0"/><circle class="s3" cx="533.0" cy="144.0" r="4.4"/><circle class="s2" cx="490.5" cy="270.0" r="5.7"/><circle class="s1" cx="543.0" cy="412.5" r="5.7"/><circle class="s2" cx="463.0" cy="235.0" r="5.8"/><circle class="s2" cx="543.0" cy="401.0" r="5.7"/><circle class="s1" cx="514.5" cy="410.5" r="5.8"/><circle class="s0" cx="523.0" cy="232.0" r="5.8"/><circle class="s2" cx="606.0" cy="246.5" r="3.0"/><circle class="s3" cx="631.5" cy="207.5" r="3.0"/><circle class="s0" cx="491.5" cy="239.5" r="5.8"/><circle class="s3" cx="614.5" cy="459.0" r="3.2"/><circle class="s0" cx="508.5" cy="360.5" r="5.8"/><circle class="s1" cx="598.0" cy="401.0" r="6.1"/><circle class="s3" cx="600.0" cy="412.5" r="6.1"/><circle class="s3" cx="557.0" cy="403.0" r="6.1"/><circle class="s2" cx="619.0" cy="193.0" r="3.3"/><circle class="s2" cx="456.5" cy="304.5" r="4.6"/><circle class="s1" cx="578.0" cy="360.5" r="6.1"/><circle class="s2" cx="512.5" cy="204.0" r="6.1"/><circle class="s2" cx="517.5" cy="224.5" r="6.1"/><circle class="s1" cx="470.5" cy="237.0" r="6.1"/><circle class="s3" cx="578.5" cy="429.0" r="6.1"/><circle class="s0" cx="567.0" cy="142.5" r="5.7"/><circle class="s3" cx="618.5" cy="231.0" r="6.1"/><circle class="s1" cx="459.0" cy="310.5" r="3.7"/><circle class="s0" cx="498.0" cy="233.5" r="6.1"/><circle class="s2" cx="483.5" cy="215.0" r="5.0"/><circle class="s0" cx="623.0" cy="211.5" r="3.7"/><circle class="s1" cx="571.5" cy="133.5" r="6.1"/><circle class="s3" cx="601.5" cy="192.0" r="6.1"/><circle class="s0" cx="529.0" cy="404.0" r="6.1"/><circle class="s2" cx="592.5" cy="203.0" r="6.1"/><circle class="s0" cx="488.0" cy="376.0" r="6.1"/><circle class="s3" cx="580.5" cy="150.0" r="6.1"/><circle class="s3" cx="466.5" cy="268.0" r="6.1"/><circle class="s0" cx="614.5" cy="183.5" r="6.1"/><circle class="s1" cx="571.5" cy="205.5" r="6.1"/><circle class="s1" cx="479.5" cy="278.5" r="6.1"/><circle class="s2" cx="602.5" cy="212.5" r="6.1"/><circle class="s0" cx="547.0" cy="206.5" r="6.1"/><circle class="s0" cx="473.0" cy="220.0" r="6.1"/><circle class="s3" cx="590.0" cy="212.0" r="6.1"/><circle class="s0" cx="579.0" cy="144.5" r="6.1"/><circle class="s2" cx="540.5" cy="275.5" r="6.1"/><circle class="s3" cx="573.5" cy="221.5" r="6.1"/><circle class="s1" cx="614.5" cy="196.5" r="4.8"/><circle class="s3" cx="485.0" cy="233.0" r="6.1"/><circle class="s1" cx="494.0" cy="349.5" r="6.1"/><circle class="s0" cx="456.5" cy="276.5" r="6.1"/><circle class="s0" cx="558.5" cy="189.0" r="6.1"/><circle class="s1" cx="526.5" cy="206.5" r="6.1"/><circle class="s1" cx="522.0" cy="442.0" r="4.4"/><circle class="s2" cx="627.0" cy="214.5" r="6.1"/><circle class="s3" cx="599.0" cy="351.5" r="4.2"/><circle class="s1" cx="569.5" cy="125.0" r="3.3"/><circle class="s3" cx="507.0" cy="398.0" r="6.1"/><circle class="s2" cx="552.5" cy="223.0" r="6.1"/><circle class="s3" cx="638.0" cy="238.0" r="3.3"/><circle class="s0" cx="479.5" cy="244.0" r="6.1"/><circle class="s0" cx="522.5" cy="218.5" r="6.1"/><circle class="s1" cx="571.5" cy="431.0" r="6.1"/><circle class="s3" cx="548.5" cy="458.0" r="6.1"/><circle class="s2" cx="584.5" cy="402.5" r="6.1"/><circle class="s2" cx="554.5" cy="304.0" r="6.1"/><circle class="s3" cx="609.0" cy="241.5" r="6.1"/><circle class="s2" cx="462.0" cy="262.0" r="6.1"/><circle class="s0" cx="571.5" cy="140.0" r="6.1"/><circle class="s1" cx="540.5" cy="202.5" r="6.1"/><circle class="s0" cx="600.0" cy="180.5" r="6.1"/><circle class="s1" cx="576.0" cy="370.0" r="6.1"/><circle class="s2" cx="529.5" cy="301.5" r="6.1"/><circle class="s3" cx="484.5" cy="220.0" r="6.1"/><circle class="s1" cx="528.5" cy="416.5" r="6.1"/><circle class="s1" cx="619.5" cy="165.0" r="3.7"/><circle class="s2" cx="565.5" cy="432.0" r="6.1"/><circle class="s0" cx="508.5" cy="214.0" r="6.1"/><circle class="s2" cx="547.5" cy="356.0" r="6.1"/><circle class="s3" cx="577.5" cy="456.0" r="6.1"/><circle class="s1" cx="552.0" cy="330.0" r="6.1"/><circle class="s3" cx="600.0" cy="418.5" r="6.1"/><circle class="s2" cx="471.5" cy="278.0" r="6.1"/><circle class="s2" cx="557.0" cy="199.0" r="6.1"/><circle class="s3" cx="518.5" cy="427.5" r="6.1"/><circle class="s2" cx="598.5" cy="442.0" r="6.1"/><circle class="s2" cx="568.5" cy="185.0" r="6.1"/><circle class="s0" cx="454.5" cy="270.5" r="6.1"/><circle class="s2" cx="531.5" cy="422.0" r="6.1"/><circle class="s3" cx="508.5" cy="299.0" r="6.1"/><circle class="s3" cx="623.5" cy="155.0" r="6.1"/><circle class="s1" cx="501.5" cy="344.5" r="6.1"/><circle class="s3" cx="566.5" cy="131.0" r="3.2"/><circle class="s2" cx="458.0" cy="299.0" r="6.1"/><circle class="s2" cx="578.0" cy="132.5" r="4.1"/><circle class="s1" cx="542.5" cy="177.0" r="6.1"/><circle class="s2" cx="505.5" cy="403.5" r="5.5"/><circle class="s2" cx="516.0" cy="216.0" r="6.1"/><circle class="s3" cx="602.5" cy="407.5" r="6.1"/><circle class="s1" cx="604.5" cy="168.5" r="6.1"/><circle class="s1" cx="482.0" cy="352.5" r="5.7"/><circle class="s1" cx="577.5" cy="353.0" r="6.1"/><circle class="s0" cx="579.0" cy="219.0" r="6.1"/><circle class="s1" cx="537.0" cy="194.5" r="6.1"/><circle class="s1" cx="532.5" cy="398.5" r="6.1"/><circle class="s3" cx="614.0" cy="438.0" r="6.1"/><circle class="s1" cx="560.0" cy="311.0" r="3.2"/><circle class="s3" cx="583.0" cy="213.0" r="6.1"/><circle class="s1" cx="548.0" cy="369.0" r="6.1"/><circle class="s3" cx="608.0" cy="419.5" r="6.1"/><circle class="s2" cx="533.0" cy="336.5" r="6.1"/><circle class="s1" cx="542.0" cy="217.0" r="6.1"/><circle class="s2" cx="583.0" cy="167.0" r="6.1"/><circle class="s3" cx="635.5" cy="235.0" r="6.1"/><circle class="s2" cx="536.5" cy="169.0" r="6.1"/><circle class="s2" cx="571.5" cy="341.0" r="3.7"/><circle class="s1" cx="529.0" cy="281.0" r="6.1"/><circle class="s3" cx="481.5" cy="227.5" r="6.1"/><circle class="s1" cx="550.5" cy="261.5" r="4.4"/><circle class="s3" cx="524.0" cy="385.5" r="6.1"/><circle class="s3" cx="515.0" cy="369.5" r="6.1"/><circle class="s3" cx="470.5" cy="333.5" r="5.0"/><circle class="s1" cx="482.0" cy="375.5" r="3.2"/><circle class="s2" cx="503.0" cy="197.0" r="6.1"/><circle class="s2" cx="548.0" cy="244.0" r="3.9"/><circle class="s2" cx="598.5" cy="232.0" r="6.1"/><circle class="s3" cx="585.5" cy="452.0" r="4.7"/><circle class="s3" cx="541.5" cy="281.0" r="6.1"/><circle class="s0" cx="567.0" cy="202.0" r="6.1"/><circle class="s1" cx="637.5" cy="226.5" r="3.3"/><circle class="s3" cx="549.0" cy="166.5" r="6.1"/><circle class="s2" cx="512.5" cy="315.5" r="6.1"/><circle class="s0" cx="581.0" cy="420.0" r="6.1"/><circle class="s1" cx="506.0" cy="276.5" r="6.1"/><circle class="s0" cx="520.5" cy="380.5" r="6.1"/><circle class="s3" cx="507.5" cy="373.5" r="6.1"/><circle class="s2" cx="532.5" cy="208.5" r="6.1"/><circle class="s1" cx="490.5" cy="354.5" r="6.1"/><circle class="s0" cx="530.5" cy="318.0" r="6.1"/><circle class="s0" cx="569.0" cy="231.0" r="6.1"/><circle class="s1" cx="505.0" cy="241.5" r="6.1"/><circle class="s1" cx="559.5" cy="146.5" r="3.7"/><circle class="s3" cx="614.0" cy="211.5" r="6.1"/><circle class="s2" cx="560.0" cy="373.0" r="6.1"/><circle class="s3" cx="499.0" cy="259.0" r="6.1"/><circle class="s3" cx="563.0" cy="439.5" r="6.1"/><circle class="s3" cx="517.0" cy="326.0" r="6.1"/><circle class="s1" cx="528.5" cy="307.0" r="6.1"/><circle class="s2" cx="580.5" cy="448.5" r="6.1"/><circle class="s3" cx="496.0" cy="384.5" r="5.8"/><circle class="s3" cx="445.0" cy="276.0" r="3.4"/><circle class="s3" cx="487.5" cy="256.5" r="6.1"/><circle class="s2" cx="552.5" cy="149.0" r="3.9"/><circle class="s3" cx="553.0" cy="375.5" r="6.1"/><circle class="s0" cx="575.0" cy="347.5" r="3.4"/><circle class="s0" cx="557.0" cy="159.0" r="6.1"/><circle class="s0" cx="561.5" cy="454.5" r="6.1"/><circle class="s3" cx="472.0" cy="268.5" r="6.1"/><circle class="s2" cx="528.5" cy="261.5" r="6.1"/><circle class="s0" cx="547.0" cy="406.5" r="6.1"/><circle class="s2" cx="518.0" cy="357.5" r="6.1"/><circle class="s2" cx="490.5" cy="344.5" r="6.1"/><circle class="s3" cx="617.5" cy="168.0" r="6.1"/><circle class="s2" cx="581.0" cy="207.5" r="6.1"/><circle class="s3" cx="575.0" cy="451.0" r="6.1"/><circle class="s1" cx="505.0" cy="288.5" r="6.1"/><circle class="s1" cx="619.5" cy="186.0" r="5.2"/><circle class="s3" cx="614.5" cy="205.0" r="3.3"/><circle class="s2" cx="584.0" cy="140.0" r="4.7"/><circle class="s3" cx="531.0" cy="362.0" r="6.1"/><circle class="s3" cx="492.5" cy="307.5" r="6.1"/><circle class="s2" cx="470.0" cy="291.5" r="6.1"/><circle class="s3" cx="572.5" cy="190.5" r="6.1"/><circle class="s0" cx="475.5" cy="240.0" r="6.1"/><circle class="s3" cx="543.0" cy="263.0" r="6.1"/><circle class="s1" cx="499.0" cy="294.5" r="6.1"/><circle class="s3" cx="544.0" cy="150.0" r="6.1"/><circle class="s3" cx="478.5" cy="216.0" r="5.8"/><circle class="s0" cx="599.0" cy="174.0" r="6.1"/><circle class="s1" cx="562.5" cy="219.5" r="6.1"/><circle class="s1" cx="498.0" cy="218.0" r="6.1"/></g></g>
<g><g filter="url(#cb)"><circle class="k3" cx="775.0" cy="319.0" r="8.4"/><circle class="k4" cx="804.5" cy="174.0" r="8.5"/><circle class="k1" cx="829.0" cy="387.0" r="8.3"/><circle class="k0" cx="904.0" cy="168.0" r="8.1"/><circle class="k1" cx="857.5" cy="210.0" r="7.9"/><circle class="k4" cx="822.0" cy="194.5" r="8.6"/><circle class="k3" cx="871.0" cy="198.5" r="8.1"/><circle class="k4" cx="760.0" cy="377.5" r="2.0"/><circle class="k4" cx="776.5" cy="334.0" r="9.7"/><circle class="k0" cx="719.0" cy="319.0" r="10.2"/><circle class="k1" cx="800.5" cy="327.0" r="9.0"/><circle class="k3" cx="793.5" cy="286.5" r="10.1"/><circle class="k0" cx="837.0" cy="135.0" r="6.4"/><circle class="k2" cx="811.5" cy="296.0" r="3.5"/><circle class="k3" cx="809.0" cy="407.5" r="7.8"/><circle class="k0" cx="729.0" cy="318.0" r="8.7"/><circle class="k1" cx="772.5" cy="374.5" r="6.0"/><circle class="k4" cx="858.0" cy="368.5" r="8.9"/><circle class="k4" cx="704.0" cy="262.0" r="2.1"/><circle class="k0" cx="802.0" cy="392.0" r="9.2"/><circle class="k3" cx="778.0" cy="372.5" r="6.5"/><circle class="k4" cx="771.5" cy="217.0" r="6.0"/><circle class="k1" cx="708.5" cy="341.5" r="6.1"/><circle class="k4" cx="887.0" cy="414.0" r="10.1"/><circle class="k4" cx="754.5" cy="334.5" r="7.7"/><circle class="k1" cx="842.5" cy="332.0" r="9.4"/><circle class="k3" cx="856.5" cy="427.0" r="9.4"/><circle class="k4" cx="844.0" cy="195.5" r="9.4"/><circle class="k4" cx="740.0" cy="341.0" r="9.0"/><circle class="k4" cx="802.0" cy="297.5" r="7.8"/><circle class="k0" cx="892.0" cy="443.5" r="5.0"/><circle class="k0" cx="724.5" cy="330.5" r="10.2"/><circle class="k4" cx="876.5" cy="178.0" r="8.6"/><circle class="k4" cx="797.5" cy="159.0" r="4.2"/><circle class="k3" cx="813.5" cy="365.5" r="8.7"/><circle class="k4" cx="873.0" cy="224.5" r="9.1"/><circle class="k4" cx="751.5" cy="296.5" r="9.1"/><circle class="k0" cx="905.0" cy="156.0" r="8.1"/><circle class="k4" cx="861.0" cy="380.5" r="8.5"/><circle class="k4" cx="705.0" cy="281.5" r="8.0"/><circle class="k4" cx="826.0" cy="376.5" r="9.7"/><circle class="k1" cx="762.5" cy="281.0" r="7.8"/><circle class="k1" cx="807.5" cy="244.0" r="9.2"/><circle class="k3" cx="758.0" cy="230.5" r="10.0"/><circle class="k3" cx="771.5" cy="270.5" r="8.4"/><circle class="k4" cx="906.5" cy="421.0" r="10.2"/><circle class="k3" cx="821.0" cy="143.0" r="5.6"/><circle class="k0" cx="837.0" cy="168.0" r="10.2"/><circle class="k0" cx="869.0" cy="209.0" r="9.9"/><circle class="k0" cx="903.5" cy="393.0" r="8.0"/><circle class="k4" cx="794.0" cy="263.5" r="9.7"/><circle class="k0" cx="762.0" cy="255.0" r="8.0"/><circle class="k2" cx="839.5" cy="385.0" r="10.1"/><circle class="k1" cx="902.5" cy="183.0" r="5.6"/><circle class="k1" cx="841.5" cy="420.0" r="7.0"/><circle class="k4" cx="777.5" cy="290.0" r="9.0"/><circle class="k4" cx="864.5" cy="225.5" r="10.2"/><circle class="k0" cx="794.5" cy="350.5" r="9.8"/><circle class="k2" cx="700.0" cy="301.0" r="9.1"/><circle class="k0" cx="852.5" cy="356.0" r="10.0"/><circle class="k3" cx="739.5" cy="310.0" r="10.0"/><circle class="k1" cx="817.0" cy="319.0" r="9.5"/><circle class="k2" cx="803.5" cy="288.0" r="9.3"/><circle class="k3" cx="792.5" cy="368.0" r="10.1"/><circle class="k0" cx="784.5" cy="199.5" r="5.9"/><circle class="k4" cx="892.5" cy="371.5" r="3.8"/><circle class="k4" cx="852.5" cy="218.5" r="8.8"/><circle class="k3" cx="822.0" cy="357.0" r="9.1"/><circle class="k4" cx="872.5" cy="353.5" r="8.8"/><circle class="k3" cx="732.5" cy="306.0" r="9.0"/><circle class="k0" cx="741.5" cy="295.5" r="8.7"/><circle class="k4" cx="890.0" cy="174.0" r="10.0"/><circle class="k3" cx="852.5" cy="391.0" r="8.2"/><circle class="k2" cx="867.0" cy="374.5" r="7.9"/><circle class="k4" cx="750.0" cy="363.5" r="9.2"/><circle class="k2" cx="858.5" cy="192.0" r="9.3"/><circle class="k3" cx="886.5" cy="423.5" r="9.3"/><circle class="k0" cx="796.0" cy="191.0" r="7.8"/><circle class="k0" cx="814.5" cy="274.0" r="3.9"/><circle class="k4" cx="851.5" cy="405.0" r="8.0"/><circle class="k2" cx="828.5" cy="155.5" r="8.6"/><circle class="k0" cx="737.5" cy="262.0" r="8.1"/><circle class="k4" cx="815.5" cy="150.5" r="5.9"/><circle class="k3" cx="875.5" cy="379.5" r="9.2"/><circle class="k4" cx="800.0" cy="376.5" r="8.3"/><circle class="k0" cx="878.5" cy="162.5" r="7.0"/><circle class="k1" cx="866.5" cy="438.0" r="9.7"/><circle class="k4" cx="758.0" cy="291.5" r="9.1"/><circle class="k4" cx="748.5" cy="221.0" r="5.0"/><circle class="k4" cx="838.0" cy="369.5" r="8.7"/><circle class="k3" cx="767.5" cy="327.5" r="7.9"/><circle class="k0" cx="909.5" cy="176.5" r="7.8"/><circle class="k4" cx="804.5" cy="277.5" r="8.7"/><circle class="k0" cx="865.0" cy="426.0" r="8.2"/><circle class="k0" cx="795.0" cy="300.5" r="10.2"/><circle class="k4" cx="805.5" cy="361.5" r="10.2"/><circle class="k0" cx="725.0" cy="354.5" r="2.0"/><circle class="k4" cx="756.5" cy="324.5" r="7.8"/><circle class="k0" cx="770.5" cy="279.5" r="9.2"/><circle class="k1" cx="745.0" cy="245.0" r="9.5"/><circle class="k3" cx="738.0" cy="327.0" r="8.3"/><circle class="k0" cx="712.5" cy="310.5" r="8.6"/><circle class="k3" cx="913.5" cy="422.5" r="4.4"/><circle class="k2" cx="784.5" cy="263.0" r="8.9"/><circle class="k0" cx="913.5" cy="414.0" r="3.5"/><circle class="k0" cx="849.5" cy="134.5" r="2.4"/><circle class="k4" cx="781.5" cy="350.0" r="8.0"/><circle class="k1" cx="830.0" cy="216.0" r="8.4"/><circle class="k0" cx="839.5" cy="404.5" r="9.1"/><circle class="k4" cx="802.5" cy="234.5" r="8.1"/><circle class="k4" cx="858.0" cy="418.0" r="9.3"/><circle class="k1" cx="782.0" cy="322.0" r="7.9"/><circle class="k4" cx="818.5" cy="220.0" r="9.2"/><circle class="k1" cx="739.5" cy="280.5" r="9.0"/><circle class="k3" cx="853.5" cy="435.5" r="2.8"/><circle class="k1" cx="693.0" cy="286.0" r="6.5"/><circle class="k3" cx="746.5" cy="372.0" r="7.7"/><circle class="k4" cx="865.5" cy="362.0" r="10.2"/><circle class="k0" cx="896.0" cy="400.5" r="9.9"/><circle class="k0" cx="810.0" cy="268.5" r="7.5"/><circle class="k0" cx="894.0" cy="162.0" r="6.9"/><circle class="k0" cx="874.0" cy="441.5" r="4.0"/><circle class="k1" cx="814.0" cy="335.5" r="8.2"/><circle class="k4" cx="876.5" cy="339.5" r="9.1"/><circle class="k4" cx="778.0" cy="393.5" r="3.2"/><circle class="k1" cx="850.0" cy="239.5" r="7.9"/><circle class="k1" cx="848.5" cy="228.5" r="9.3"/><circle class="k4" cx="833.5" cy="345.5" r="10.2"/><circle class="k4" cx="862.0" cy="345.0" r="9.8"/><circle class="k0" cx="830.5" cy="403.0" r="8.1"/><circle class="k4" cx="879.0" cy="213.0" r="8.5"/><circle class="k1" cx="815.0" cy="238.5" r="5.3"/><circle class="k3" cx="836.0" cy="377.5" r="9.7"/><circle class="k2" cx="776.0" cy="228.5" r="8.6"/><circle class="k4" cx="882.5" cy="370.5" r="8.8"/><circle class="k1" cx="791.0" cy="206.0" r="9.5"/><circle class="k1" cx="779.0" cy="278.5" r="8.7"/><circle class="k0" cx="847.0" cy="142.5" r="9.2"/><circle class="k1" cx="724.5" cy="346.5" r="9.3"/><circle class="k4" cx="743.5" cy="234.5" r="8.6"/><circle class="k4" cx="811.5" cy="378.0" r="8.1"/><circle class="k0" cx="775.5" cy="260.5" r="9.7"/><circle class="k1" cx="693.5" cy="306.5" r="4.6"/><circle class="k4" cx="715.0" cy="354.0" r="2.8"/><circle class="k0" cx="837.0" cy="182.5" r="9.0"/><circle class="k2" cx="852.0" cy="175.5" r="8.1"/><circle class="k3" cx="856.5" cy="239.5" r="4.2"/><circle class="k0" cx="913.0" cy="405.0" r="8.7"/><circle class="k0" cx="756.5" cy="308.5" r="8.3"/><circle class="k0" cx="844.5" cy="235.5" r="7.0"/><circle class="k4" cx="691.5" cy="291.5" r="3.9"/><circle class="k4" cx="885.5" cy="356.0" r="2.4"/><circle class="k0" cx="915.0" cy="391.0" r="3.7"/><circle class="k1" cx="867.5" cy="329.5" r="2.4"/><circle class="k4" cx="866.0" cy="171.5" r="8.5"/><circle class="k0" cx="900.0" cy="428.0" r="3.5"/><circle class="k4" cx="815.0" cy="176.0" r="9.8"/><circle class="k3" cx="780.5" cy="181.5" r="7.0"/><circle class="k0" cx="828.0" cy="412.0" r="10.2"/><circle class="k1" cx="826.0" cy="182.0" r="10.0"/><circle class="k4" cx="799.5" cy="219.5" r="8.0"/><circle class="k1" cx="735.0" cy="251.5" r="8.4"/><circle class="k1" cx="700.5" cy="292.5" r="9.5"/><circle class="k0" cx="704.0" cy="342.0" r="2.6"/><circle class="k4" cx="882.5" cy="344.5" r="8.1"/><circle class="k3" cx="856.5" cy="151.0" r="2.0"/><circle class="k1" cx="779.5" cy="251.0" r="10.1"/><circle class="k2" cx="868.5" cy="388.5" r="9.0"/><circle class="k3" cx="850.0" cy="364.5" r="9.8"/><circle class="k0" cx="823.5" cy="396.0" r="9.6"/><circle class="k1" cx="871.0" cy="236.5" r="4.2"/><circle class="k4" cx="846.0" cy="206.0" r="9.1"/><circle class="k4" cx="852.5" cy="198.0" r="9.8"/><circle class="k4" cx="718.0" cy="292.0" r="7.9"/><circle class="k0" cx="705.0" cy="317.0" r="2.8"/><circle class="k0" cx="923.0" cy="166.0" r="5.5"/><circle class="k3" cx="824.5" cy="328.0" r="8.6"/><circle class="k0" cx="701.5" cy="337.0" r="5.5"/><circle class="k4" cx="788.5" cy="338.0" r="9.3"/><circle class="k0" cx="768.5" cy="250.0" r="8.5"/><circle class="k0" cx="908.5" cy="413.0" r="8.5"/><circle class="k4" cx="787.0" cy="238.0" r="8.8"/><circle class="k4" cx="799.5" cy="336.5" r="9.6"/><circle class="k3" cx="790.5" cy="163.0" r="3.0"/><circle class="k4" cx="785.5" cy="396.0" r="3.0"/><circle class="k3" cx="815.5" cy="416.5" r="9.1"/><circle class="k0" cx="896.0" cy="409.0" r="9.6"/><circle class="k4" cx="840.5" cy="213.5" r="8.3"/><circle class="k2" cx="714.0" cy="243.0" r="5.1"/><circle class="k4" cx="849.5" cy="380.5" r="8.1"/><circle class="k4" cx="747.5" cy="264.0" r="9.2"/><circle class="k1" cx="768.5" cy="298.0" r="8.7"/><circle class="k4" cx="892.0" cy="386.0" r="9.1"/><circle class="k3" cx="855.0" cy="159.0" r="7.3"/><circle class="k2" cx="726.5" cy="287.0" r="9.9"/><circle class="k4" cx="757.0" cy="220.0" r="3.5"/><circle class="k1" cx="847.5" cy="340.0" r="9.6"/><circle class="k4" cx="887.5" cy="202.0" r="2.1"/><circle class="k4" cx="888.0" cy="189.0" r="9.5"/><circle class="k3" cx="814.0" cy="263.0" r="2.1"/><circle class="k4" cx="756.5" cy="345.0" r="9.1"/><circle class="k4" cx="709.0" cy="349.0" r="2.4"/><circle class="k4" cx="824.0" cy="421.5" r="7.0"/><circle class="k4" cx="867.0" cy="410.5" r="10.1"/><circle class="k4" cx="884.0" cy="386.0" r="9.6"/><circle class="k3" cx="892.0" cy="377.0" r="5.7"/><circle class="k3" cx="721.5" cy="245.0" r="8.3"/><circle class="k1" cx="836.5" cy="153.5" r="8.7"/><circle class="k4" cx="875.0" cy="425.0" r="8.2"/><circle class="k4" cx="776.0" cy="362.0" r="10.1"/><circle class="k4" cx="765.0" cy="365.5" r="8.2"/><circle class="k0" cx="917.5" cy="177.0" r="5.5"/><circle class="k4" cx="765.5" cy="336.5" r="8.0"/><circle class="k4" cx="874.5" cy="229.5" r="4.2"/><circle class="k4" cx="742.5" cy="357.5" r="8.4"/><circle class="k3" cx="793.5" cy="160.5" r="2.1"/><circle class="k3" cx="774.0" cy="236.0" r="8.1"/><circle class="k3" cx="785.0" cy="221.0" r="9.3"/><circle class="k3" cx="894.5" cy="429.0" r="3.5"/><circle class="k2" cx="820.0" cy="166.0" r="8.5"/><circle class="k4" cx="801.0" cy="268.5" r="9.7"/><circle class="k0" cx="918.5" cy="169.0" r="8.5"/><circle class="k4" cx="769.0" cy="343.5" r="8.9"/><circle class="k0" cx="700.0" cy="276.0" r="3.1"/><circle class="k4" cx="820.0" cy="430.5" r="4.2"/><circle class="k4" cx="799.5" cy="402.5" r="6.6"/><circle class="k4" cx="735.5" cy="233.5" r="7.4"/><circle class="k0" cx="913.0" cy="149.5" r="3.5"/><circle class="k4" cx="899.5" cy="191.0" r="3.2"/><circle class="k4" cx="741.5" cy="349.0" r="8.5"/><circle class="k0" cx="832.5" cy="326.0" r="5.5"/><circle class="k4" cx="828.5" cy="422.5" r="2.5"/><circle class="k3" cx="717.5" cy="280.0" r="8.2"/><circle class="k1" cx="856.0" cy="331.5" r="7.9"/><circle class="k2" cx="754.0" cy="246.0" r="9.2"/><circle class="k2" cx="851.5" cy="430.5" r="4.2"/><circle class="k3" cx="735.5" cy="228.0" r="3.1"/><circle class="k1" cx="863.0" cy="163.5" r="8.0"/><circle class="k4" cx="802.5" cy="160.0" r="8.4"/><circle class="k1" cx="812.0" cy="345.5" r="10.3"/><circle class="k2" cx="885.5" cy="351.5" r="4.6"/><circle class="k1" cx="766.5" cy="309.5" r="8.3"/><circle class="k1" cx="834.5" cy="234.0" r="2.0"/><circle class="k1" cx="820.5" cy="409.0" r="8.7"/><circle class="k2" cx="795.5" cy="380.0" r="3.5"/><circle class="k1" cx="891.5" cy="435.5" r="5.9"/><circle class="k4" cx="874.0" cy="434.0" r="8.4"/><circle class="k4" cx="882.0" cy="199.5" r="7.8"/><circle class="k4" cx="871.5" cy="368.5" r="7.8"/><circle class="k1" cx="730.0" cy="238.0" r="8.6"/><circle class="k4" cx="866.0" cy="336.0" r="8.9"/><circle class="k2" cx="785.5" cy="314.0" r="9.5"/><circle class="k4" cx="806.0" cy="370.0" r="8.1"/><circle class="k3" cx="848.0" cy="166.5" r="8.6"/><circle class="k3" cx="795.0" cy="312.5" r="9.3"/><circle class="k2" cx="752.0" cy="277.5" r="8.1"/><circle class="k0" cx="710.0" cy="303.0" r="8.4"/><circle class="k0" cx="720.0" cy="303.0" r="9.2"/><circle class="k1" cx="785.0" cy="295.5" r="7.8"/><circle class="k4" cx="810.0" cy="256.0" r="5.0"/><circle class="k3" cx="885.0" cy="156.5" r="2.0"/><circle class="k2" cx="829.5" cy="203.5" r="9.0"/><circle class="k1" cx="842.5" cy="393.5" r="8.5"/><circle class="k4" cx="817.5" cy="308.5" r="3.1"/><circle class="k4" cx="704.0" cy="275.5" r="4.9"/><circle class="k1" cx="822.0" cy="205.5" r="8.3"/><circle class="k3" cx="834.0" cy="229.0" r="5.9"/><circle class="k0" cx="896.0" cy="435.0" r="2.8"/><circle class="k0" cx="819.5" cy="384.5" r="8.8"/><circle class="k2" cx="864.5" cy="236.0" r="7.0"/><circle class="k1" cx="827.0" cy="340.0" r="8.1"/><circle class="k0" cx="820.5" cy="233.0" r="2.5"/><circle class="k3" cx="808.5" cy="323.0" r="9.9"/><circle class="k4" cx="706.0" cy="267.0" r="6.8"/><circle class="k1" cx="737.0" cy="271.0" r="8.1"/><circle class="k0" cx="898.5" cy="155.0" r="2.4"/><circle class="k2" cx="837.0" cy="422.0" r="2.8"/><circle class="k4" cx="862.0" cy="404.0" r="8.2"/><circle class="k4" cx="728.5" cy="298.5" r="9.8"/><circle class="k1" cx="719.5" cy="340.0" r="9.1"/><circle class="k2" cx="796.0" cy="253.5" r="7.9"/><circle class="k4" cx="815.5" cy="189.5" r="8.6"/><circle class="k4" cx="826.0" cy="228.5" r="5.0"/><circle class="k3" cx="839.0" cy="224.5" r="9.5"/><circle class="k3" cx="923.0" cy="394.0" r="2.1"/><circle class="k4" cx="727.5" cy="338.0" r="8.4"/><circle class="k0" cx="812.0" cy="306.0" r="6.4"/><circle class="k3" cx="791.0" cy="330.0" r="9.9"/><circle class="k0" cx="833.0" cy="145.5" r="10.1"/><circle class="k0" cx="924.0" cy="162.5" r="3.2"/><circle class="k3" cx="828.0" cy="140.0" r="5.0"/><circle class="k0" cx="809.5" cy="199.5" r="9.2"/><circle class="k4" cx="723.0" cy="272.5" r="9.0"/><circle class="k2" cx="852.0" cy="148.0" r="7.0"/><circle class="k1" cx="903.5" cy="429.0" r="2.5"/><circle class="k3" cx="792.5" cy="171.0" r="9.9"/><circle class="k0" cx="883.5" cy="438.0" r="7.7"/><circle class="k0" cx="798.0" cy="199.0" r="7.9"/><circle class="k2" cx="876.5" cy="360.5" r="8.3"/><circle class="k2" cx="764.5" cy="263.5" r="7.9"/><circle class="k3" cx="925.5" cy="170.5" r="2.5"/><circle class="k1" cx="842.5" cy="413.5" r="8.9"/><circle class="k0" cx="694.0" cy="312.5" r="2.0"/><circle class="k3" cx="839.0" cy="231.5" r="6.3"/><circle class="k0" cx="845.5" cy="426.0" r="4.6"/><circle class="k0" cx="717.0" cy="261.5" r="9.1"/><circle class="k0" cx="710.0" cy="322.0" r="2.4"/><circle class="k0" cx="799.0" cy="210.0" r="10.1"/><circle class="k4" cx="896.5" cy="421.0" r="8.0"/><circle class="k4" cx="880.5" cy="335.5" r="3.5"/><circle class="k4" cx="755.0" cy="261.5" r="8.4"/><circle class="k2" cx="820.0" cy="229.0" r="6.4"/><circle class="k1" cx="912.5" cy="410.5" r="5.0"/><circle class="k4" cx="822.0" cy="346.5" r="9.6"/><circle class="k3" cx="738.0" cy="318.5" r="8.1"/><circle class="k4" cx="780.5" cy="196.5" r="2.0"/><circle class="k3" cx="830.0" cy="135.5" r="2.8"/><circle class="k3" cx="898.5" cy="177.0" r="8.0"/><circle class="k0" cx="801.0" cy="410.5" r="2.8"/><circle class="k4" cx="810.5" cy="229.0" r="9.3"/><circle class="k4" cx="814.5" cy="159.5" r="8.6"/><circle class="k4" cx="734.5" cy="355.0" r="5.0"/><circle class="k4" cx="806.5" cy="309.0" r="9.5"/><circle class="k1" cx="815.0" cy="244.0" r="3.7"/><circle class="k4" cx="742.0" cy="374.5" r="3.1"/><circle class="k0" cx="813.0" cy="392.0" r="9.6"/><circle class="k0" cx="796.5" cy="406.5" r="2.1"/><circle class="k1" cx="715.5" cy="325.5" r="4.0"/><circle class="k0" cx="867.0" cy="187.5" r="8.6"/><circle class="k4" cx="890.0" cy="218.0" r="2.6"/><circle class="k3" cx="906.5" cy="150.0" r="4.4"/><circle class="k4" cx="795.5" cy="274.5" r="9.2"/><circle class="k4" cx="870.5" cy="232.5" r="6.2"/><circle class="k0" cx="849.5" cy="422.5" r="8.7"/><circle class="k1" cx="794.5" cy="387.5" r="2.1"/><circle class="k3" cx="863.0" cy="217.0" r="8.3"/><circle class="k4" cx="871.5" cy="403.5" r="8.9"/><circle class="k3" cx="829.5" cy="165.5" r="8.1"/><circle class="k4" cx="862.0" cy="393.5" r="8.9"/><circle class="k1" cx="838.5" cy="323.5" r="4.0"/><circle class="k3" cx="781.0" cy="191.0" r="5.3"/><circle class="k4" cx="802.0" cy="346.5" r="9.4"/><circle class="k1" cx="750.5" cy="287.5" r="9.3"/><circle class="k3" cx="877.0" cy="410.5" r="8.6"/><circle class="k4" cx="781.0" cy="341.0" r="8.8"/><circle class="k4" cx="883.0" cy="396.5" r="7.8"/><circle class="k2" cx="780.5" cy="210.0" r="7.7"/><circle class="k4" cx="889.0" cy="405.5" r="8.2"/><circle class="k0" cx="784.0" cy="176.5" r="6.0"/><circle class="k1" cx="716.5" cy="238.0" r="3.5"/><circle class="k2" cx="703.5" cy="271.0" r="3.7"/><circle class="k4" cx="745.5" cy="327.0" r="7.8"/><circle class="k3" cx="792.0" cy="395.0" r="4.4"/><circle class="k4" cx="774.5" cy="308.5" r="8.5"/><circle class="k0" cx="710.0" cy="333.5" r="6.8"/><circle class="k4" cx="777.0" cy="220.5" r="7.8"/><circle class="k4" cx="812.0" cy="424.0" r="2.6"/><circle class="k3" cx="789.0" cy="230.5" r="8.3"/><circle class="k3" cx="707.0" cy="258.5" r="2.1"/><circle class="k2" cx="912.5" cy="427.0" r="3.2"/><circle class="k3" cx="726.0" cy="262.5" r="7.9"/><circle class="k4" cx="860.5" cy="157.5" r="2.1"/><circle class="k2" cx="770.0" cy="378.0" r="3.5"/><circle class="k4" cx="894.0" cy="446.5" r="2.0"/><circle class="k2" cx="882.0" cy="206.5" r="6.1"/><circle class="k0" cx="896.0" cy="379.0" r="3.7"/><circle class="k4" cx="765.0" cy="222.5" r="9.3"/><circle class="k1" cx="749.5" cy="253.5" r="8.0"/><circle class="k4" cx="848.5" cy="185.0" r="7.8"/><circle class="k4" cx="797.0" cy="240.5" r="8.4"/><circle class="k3" cx="833.0" cy="355.5" r="8.3"/><circle class="k0" cx="715.5" cy="250.0" r="7.0"/><circle class="k4" cx="814.5" cy="250.5" r="2.1"/><circle class="k4" cx="847.0" cy="243.0" r="4.2"/><circle class="k4" cx="830.5" cy="175.0" r="9.7"/><circle class="k3" cx="695.5" cy="280.5" r="4.6"/><circle class="k3" cx="733.0" cy="348.5" r="9.4"/><circle class="k4" cx="807.5" cy="165.5" r="7.8"/><circle class="k1" cx="802.5" cy="317.5" r="10.1"/><circle class="k4" cx="730.5" cy="279.5" r="8.7"/><circle class="k4" cx="816.5" cy="428.0" r="4.5"/><circle class="k0" cx="704.0" cy="309.5" r="7.7"/><circle class="k4" cx="888.0" cy="222.5" r="2.0"/><circle class="k2" cx="794.0" cy="182.0" r="9.8"/><circle class="k4" cx="758.0" cy="361.5" r="10.0"/><circle class="k3" cx="880.5" cy="169.0" r="9.1"/><circle class="k0" cx="725.5" cy="235.5" r="4.5"/><circle class="k3" cx="760.0" cy="272.5" r="7.8"/><circle class="k1" cx="744.0" cy="303.5" r="8.4"/><circle class="k3" cx="838.5" cy="202.5" r="9.5"/><circle class="k0" cx="919.0" cy="398.5" r="7.5"/><circle class="k3" cx="824.5" cy="318.0" r="2.8"/><circle class="k4" cx="885.0" cy="181.0" r="9.0"/><circle class="k2" cx="924.0" cy="176.0" r="2.4"/><circle class="k4" cx="888.5" cy="344.5" r="3.0"/><circle class="k3" cx="808.0" cy="415.5" r="2.8"/><circle class="k0" cx="709.5" cy="317.5" r="5.6"/><circle class="k4" cx="831.0" cy="418.5" r="4.5"/><circle class="k4" cx="793.5" cy="224.5" r="7.8"/><circle class="k3" cx="777.5" cy="300.0" r="7.9"/><circle class="k4" cx="762.5" cy="244.0" r="10.3"/><circle class="k4" cx="797.5" cy="360.0" r="9.2"/><circle class="k1" cx="748.5" cy="314.0" r="9.8"/><circle class="k0" cx="919.0" cy="407.5" r="3.7"/><circle class="k0" cx="844.5" cy="153.0" r="9.3"/><circle class="k4" cx="822.5" cy="434.0" r="2.4"/><circle class="k3" cx="808.5" cy="216.0" r="10.0"/><circle class="k2" cx="862.0" cy="240.5" r="2.1"/><circle class="k3" cx="868.5" cy="445.5" r="2.0"/><circle class="k3" cx="692.0" cy="281.5" r="3.7"/><circle class="k4" cx="886.0" cy="339.5" r="2.4"/><circle class="k3" cx="777.0" cy="179.0" r="2.8"/><circle class="k2" cx="844.5" cy="352.0" r="8.8"/><circle class="k0" cx="878.5" cy="191.5" r="8.6"/><circle class="k3" cx="737.5" cy="366.0" r="3.2"/><circle class="k4" cx="814.5" cy="354.0" r="9.4"/><circle class="k3" cx="810.0" cy="151.0" r="2.6"/><circle class="k3" cx="766.0" cy="232.0" r="9.9"/><circle class="k1" cx="912.0" cy="393.5" r="6.7"/><circle class="k0" cx="841.0" cy="425.5" r="2.4"/><circle class="k4" cx="764.5" cy="318.0" r="9.5"/><circle class="k3" cx="859.0" cy="441.0" r="5.5"/><circle class="k4" cx="830.0" cy="366.5" r="9.4"/><circle class="k1" cx="884.5" cy="366.0" r="4.2"/><circle class="k3" cx="763.0" cy="351.0" r="9.7"/><circle class="k3" cx="856.0" cy="339.5" r="9.7"/><circle class="k1" cx="710.5" cy="294.0" r="8.5"/><circle class="k0" cx="786.0" cy="283.5" r="8.0"/><circle class="k3" cx="899.0" cy="439.5" r="2.4"/><circle class="k4" cx="895.5" cy="192.0" r="3.9"/><circle class="k3" cx="786.0" cy="306.0" r="9.8"/><circle class="k1" cx="794.0" cy="374.5" r="6.1"/><circle class="k4" cx="749.5" cy="352.0" r="10.2"/><circle class="k4" cx="795.5" cy="165.0" r="6.7"/><circle class="k4" cx="855.5" cy="438.5" r="2.6"/><circle class="k2" cx="775.0" cy="208.5" r="2.1"/><circle class="k4" cx="881.5" cy="222.0" r="6.4"/><circle class="k2" cx="894.5" cy="185.5" r="7.9"/><circle class="k0" cx="789.5" cy="197.0" r="9.9"/><circle class="k0" cx="911.5" cy="153.0" r="6.9"/><circle class="k4" cx="887.5" cy="214.0" r="4.2"/><circle class="k4" cx="786.5" cy="376.0" r="2.4"/><circle class="k3" cx="825.0" cy="322.0" r="5.3"/><circle class="k4" cx="776.5" cy="377.5" r="2.0"/><circle class="k1" cx="832.0" cy="332.0" r="9.0"/><circle class="k2" cx="806.0" cy="189.5" r="8.2"/><circle class="k2" cx="902.0" cy="382.0" r="3.1"/><circle class="k1" cx="841.5" cy="132.0" r="4.2"/><circle class="k4" cx="749.0" cy="339.5" r="8.7"/><circle class="k3" cx="783.0" cy="171.0" r="4.4"/><circle class="k4" cx="845.5" cy="324.0" r="2.5"/><circle class="k4" cx="908.0" cy="388.5" r="4.2"/><circle class="k0" cx="694.5" cy="302.0" r="4.2"/><circle class="k1" cx="895.5" cy="157.0" r="2.8"/><circle class="k0" cx="737.0" cy="288.5" r="9.5"/><circle class="k3" cx="859.0" cy="326.5" r="4.4"/><circle class="k3" cx="775.5" cy="184.0" r="3.2"/><circle class="k0" cx="710.5" cy="245.0" r="2.5"/><circle class="k0" cx="800.5" cy="384.0" r="6.0"/><circle class="k1" cx="752.5" cy="374.5" r="2.8"/><circle class="k0" cx="710.5" cy="328.5" r="2.8"/><circle class="k4" cx="900.0" cy="386.5" r="7.4"/><circle class="k3" cx="787.0" cy="254.0" r="9.2"/><circle class="k3" cx="804.5" cy="261.0" r="9.5"/><circle class="k3" cx="754.5" cy="224.0" r="7.5"/><circle class="k4" cx="855.5" cy="398.0" r="8.1"/><circle class="k1" cx="711.0" cy="260.0" r="5.9"/><circle class="k4" cx="771.0" cy="354.0" r="8.6"/><circle class="k1" cx="846.5" cy="132.0" r="2.1"/><circle class="k1" cx="748.5" cy="377.5" r="2.4"/><circle class="k1" cx="689.0" cy="284.0" r="2.5"/><circle class="k4" cx="890.0" cy="394.0" r="7.9"/><circle class="k3" cx="811.5" cy="287.0" r="3.7"/><circle class="k1" cx="889.0" cy="430.5" r="6.6"/><circle class="k1" cx="887.0" cy="197.0" r="4.9"/><circle class="k1" cx="781.0" cy="375.0" r="3.5"/><circle class="k3" cx="688.5" cy="289.0" r="2.4"/><circle class="k0" cx="698.0" cy="310.5" r="5.0"/><circle class="k3" cx="909.5" cy="429.0" r="3.1"/><circle class="k3" cx="857.0" cy="147.0" r="2.1"/><circle class="k4" cx="812.5" cy="299.5" r="3.1"/><circle class="k0" cx="859.0" cy="183.0" r="8.1"/><circle class="k0" cx="725.0" cy="309.0" r="8.3"/><circle class="k0" cx="703.5" cy="332.0" r="2.4"/><circle class="k0" cx="905.0" cy="405.0" r="8.8"/><circle class="k2" cx="881.5" cy="443.5" r="2.0"/><circle class="k4" cx="824.0" cy="427.5" r="4.9"/><circle class="k4" cx="881.5" cy="360.5" r="3.9"/><circle class="k4" cx="785.5" cy="272.0" r="8.7"/><circle class="k4" cx="874.0" cy="334.5" r="5.5"/><circle class="k3" cx="870.5" cy="418.5" r="9.5"/><circle class="k3" cx="776.0" cy="212.0" r="4.9"/><circle class="k3" cx="715.0" cy="347.0" r="8.1"/><circle class="k2" cx="701.0" cy="268.0" r="2.0"/><circle class="k0" cx="920.0" cy="161.5" r="4.2"/><circle class="k4" cx="788.0" cy="391.0" r="2.5"/><circle class="k0" cx="911.5" cy="164.0" r="8.2"/><circle class="k3" cx="791.0" cy="322.5" r="7.8"/><circle class="k3" cx="787.0" cy="165.5" r="5.0"/><circle class="k3" cx="829.5" cy="321.5" r="2.4"/><circle class="k2" cx="742.0" cy="227.0" r="6.7"/><circle class="k3" cx="856.5" cy="228.0" r="9.5"/><circle class="k1" cx="776.5" cy="189.0" r="2.6"/><circle class="k3" cx="783.0" cy="165.5" r="2.8"/><circle class="k0" cx="806.5" cy="399.0" r="10.3"/><circle class="k4" cx="857.5" cy="410.5" r="7.8"/><circle class="k1" cx="824.0" cy="148.0" r="8.4"/><circle class="k4" cx="861.0" cy="446.5" r="2.0"/><circle class="k1" cx="762.0" cy="217.0" r="3.1"/><circle class="k3" cx="841.0" cy="160.5" r="8.5"/><circle class="k0" cx="830.5" cy="189.5" r="8.5"/><circle class="k4" cx="871.5" cy="162.5" r="7.5"/><circle class="k3" cx="721.0" cy="352.0" r="4.5"/><circle class="k3" cx="855.0" cy="348.0" r="7.8"/><circle class="k1" cx="811.0" cy="277.5" r="6.6"/><circle class="k1" cx="844.0" cy="173.5" r="9.4"/><circle class="k3" cx="924.0" cy="398.0" r="2.5"/><circle class="k0" cx="768.5" cy="214.0" r="2.0"/><circle class="k1" cx="873.0" cy="157.5" r="2.4"/><circle class="k3" cx="909.5" cy="182.0" r="2.5"/><circle class="k4" cx="902.0" cy="152.0" r="3.1"/><circle class="k3" cx="740.0" cy="370.0" r="4.5"/><circle class="k4" cx="878.0" cy="227.5" r="3.8"/><circle class="k3" cx="851.5" cy="323.5" r="2.5"/><circle class="k4" cx="723.5" cy="253.5" r="9.1"/><circle class="k2" cx="801.0" cy="153.5" r="2.8"/><circle class="k0" cx="742.5" cy="220.5" r="2.8"/><circle class="k3" cx="716.0" cy="269.0" r="7.8"/><circle class="k2" cx="711.5" cy="352.0" r="2.1"/><circle class="k4" cx="885.5" cy="210.5" r="4.6"/><circle class="k3" cx="762.0" cy="374.0" r="5.9"/><circle class="k4" cx="721.0" cy="237.0" r="4.5"/><circle class="k1" cx="709.5" cy="274.5" r="9.3"/><circle class="k3" cx="735.0" cy="334.0" r="7.9"/><circle class="k4" cx="834.5" cy="396.5" r="10.2"/><circle class="k2" cx="890.5" cy="367.0" r="2.4"/><circle class="k0" cx="886.0" cy="445.5" r="2.0"/><circle class="k4" cx="885.0" cy="378.5" r="8.1"/><circle class="k4" cx="881.5" cy="354.0" r="6.8"/><circle class="k0" cx="691.5" cy="295.5" r="2.1"/><circle class="k3" cx="852.0" cy="244.0" r="3.1"/><circle class="k2" cx="815.0" cy="267.5" r="2.5"/><circle class="k0" cx="804.0" cy="204.5" r="7.9"/><circle class="k2" cx="902.5" cy="189.0" r="2.0"/><circle class="k0" cx="915.5" cy="417.0" r="2.4"/><circle class="k1" cx="813.0" cy="209.0" r="9.0"/><circle class="k1" cx="863.0" cy="201.0" r="8.6"/><circle class="k4" cx="756.0" cy="373.0" r="4.5"/><circle class="k3" cx="830.0" cy="231.5" r="2.5"/><circle class="k3" cx="855.5" cy="442.5" r="2.0"/><circle class="k0" cx="889.0" cy="349.0" r="2.5"/><circle class="k3" cx="784.0" cy="360.5" r="8.2"/><circle class="k2" cx="829.0" cy="224.5" r="8.4"/><circle class="k1" cx="835.5" cy="131.0" r="2.1"/><circle class="k0" cx="780.0" cy="176.5" r="3.1"/><circle class="k4" cx="820.0" cy="313.5" r="3.8"/><circle class="k1" cx="712.0" cy="240.0" r="2.4"/><circle class="k3" cx="856.5" cy="169.0" r="10.0"/><circle class="k0" cx="838.5" cy="362.0" r="7.7"/><circle class="k2" cx="888.5" cy="161.0" r="5.6"/><circle class="k4" cx="874.0" cy="234.5" r="2.4"/><circle class="k4" cx="891.5" cy="196.0" r="2.8"/><circle class="k1" cx="731.0" cy="230.0" r="2.1"/><circle class="k4" cx="808.5" cy="299.0" r="6.6"/><circle class="k2" cx="711.5" cy="252.0" r="2.8"/><circle class="k2" cx="836.0" cy="417.0" r="6.6"/><circle class="k2" cx="793.5" cy="400.0" r="2.8"/><circle class="k3" cx="841.5" cy="326.0" r="5.5"/><circle class="k3" cx="836.5" cy="195.0" r="8.0"/><circle class="k0" cx="919.5" cy="392.5" r="3.9"/><circle class="k4" cx="867.5" cy="158.5" r="4.0"/><circle class="k0" cx="811.0" cy="260.5" r="4.5"/><circle class="k2" cx="734.0" cy="359.0" r="2.6"/><circle class="k0" cx="858.0" cy="434.5" r="6.8"/><circle class="k0" cx="701.0" cy="314.0" r="2.5"/><circle class="k4" cx="735.5" cy="362.5" r="2.4"/><circle class="k1" cx="860.0" cy="237.5" r="5.0"/><circle class="k1" cx="812.5" cy="291.5" r="3.5"/><circle class="k4" cx="767.5" cy="288.5" r="8.5"/><circle class="k4" cx="746.0" cy="272.0" r="10.0"/><circle class="k4" cx="872.5" cy="330.5" r="2.1"/><circle class="k4" cx="787.0" cy="186.0" r="9.5"/><circle class="k3" cx="780.0" cy="204.0" r="4.8"/><circle class="k3" cx="811.0" cy="418.0" r="4.4"/><circle class="k4" cx="808.5" cy="181.5" r="8.3"/><circle class="k0" cx="778.0" cy="243.0" r="9.2"/><circle class="k3" cx="841.5" cy="238.5" r="2.8"/><circle class="k4" cx="839.5" cy="339.5" r="8.8"/><circle class="k4" cx="875.0" cy="396.0" r="8.5"/><circle class="k0" cx="914.5" cy="180.5" r="3.1"/><circle class="k3" cx="818.0" cy="372.5" r="8.2"/><circle class="k4" cx="737.0" cy="242.5" r="9.0"/><circle class="k1" cx="779.5" cy="200.0" r="2.1"/><circle class="k1" cx="815.5" cy="311.5" r="6.3"/><circle class="k0" cx="765.0" cy="378.5" r="2.5"/><circle class="k2" cx="793.0" cy="215.5" r="8.0"/><circle class="k2" cx="784.0" cy="369.5" r="8.5"/><circle class="k4" cx="870.0" cy="346.0" r="8.5"/><circle class="k1" cx="862.5" cy="330.0" r="4.9"/><circle class="k1" cx="852.0" cy="138.0" r="3.1"/><circle class="k2" cx="815.5" cy="279.0" r="2.0"/><circle class="k4" cx="807.0" cy="154.5" r="5.7"/><circle class="k3" cx="698.0" cy="338.5" r="2.6"/><circle class="k0" cx="917.0" cy="158.0" r="4.2"/><circle class="k1" cx="848.0" cy="372.5" r="9.2"/><circle class="k0" cx="756.5" cy="316.5" r="8.5"/><circle class="k2" cx="815.0" cy="303.0" r="2.4"/><circle class="k2" cx="812.5" cy="282.5" r="3.5"/><circle class="k0" cx="790.0" cy="377.0" r="2.5"/><circle class="k0" cx="714.5" cy="255.5" r="5.7"/><circle class="k0" cx="922.0" cy="179.0" r="2.1"/><circle class="k0" cx="849.0" cy="327.0" r="5.5"/><circle class="k3" cx="878.0" cy="442.0" r="2.5"/><circle class="k1" cx="822.5" cy="138.5" r="2.0"/><circle class="k1" cx="817.5" cy="141.5" r="2.0"/><circle class="k3" cx="783.5" cy="392.0" r="3.2"/><circle class="k0" cx="699.5" cy="334.0" r="2.0"/><circle class="k4" cx="742.5" cy="366.0" r="8.1"/><circle class="k4" cx="869.5" cy="332.5" r="4.8"/><circle class="k0" cx="899.5" cy="158.5" r="5.7"/><circle class="k1" cx="890.5" cy="158.0" r="2.5"/><circle class="k4" cx="740.0" cy="223.5" r="2.8"/><circle class="k4" cx="885.0" cy="217.0" r="7.3"/><circle class="k1" cx="803.5" cy="250.5" r="7.8"/><circle class="k4" cx="815.5" cy="146.5" r="3.5"/><circle class="k4" cx="878.5" cy="158.5" r="3.1"/><circle class="k1" cx="767.0" cy="375.5" r="5.6"/><circle class="k4" cx="847.0" cy="430.0" r="2.1"/><circle class="k3" cx="759.0" cy="300.5" r="9.6"/><circle class="k0" cx="923.0" cy="405.5" r="2.1"/><circle class="k4" cx="876.0" cy="331.5" r="2.0"/><circle class="k4" cx="753.5" cy="237.5" r="9.2"/><circle class="k4" cx="848.0" cy="246.5" r="2.1"/><circle class="k4" cx="807.5" cy="385.5" r="10.1"/><circle class="k3" cx="906.5" cy="426.5" r="5.5"/><circle class="k1" cx="865.0" cy="443.0" r="5.5"/><circle class="k2" cx="781.5" cy="396.5" r="2.0"/><circle class="k0" cx="916.5" cy="154.0" r="2.6"/><circle class="k0" cx="741.5" cy="255.5" r="8.0"/><circle class="k0" cx="867.0" cy="240.5" r="3.1"/><circle class="k1" cx="706.5" cy="345.5" r="2.4"/><circle class="k4" cx="748.5" cy="228.0" r="10.1"/><circle class="k0" cx="853.0" cy="142.5" r="5.0"/><circle class="k1" cx="871.0" cy="216.5" r="8.3"/><circle class="k0" cx="706.5" cy="330.0" r="2.1"/><circle class="k3" cx="880.0" cy="364.5" r="5.5"/><circle class="k3" cx="790.5" cy="245.5" r="7.8"/><circle class="k4" cx="805.0" cy="412.5" r="3.1"/><circle class="k0" cx="713.5" cy="321.0" r="5.2"/><circle class="k0" cx="718.0" cy="328.5" r="7.3"/><circle class="k3" cx="808.5" cy="284.0" r="6.6"/><circle class="k0" cx="918.5" cy="180.5" r="2.0"/><circle class="k1" cx="793.5" cy="391.5" r="3.8"/><circle class="k4" cx="753.0" cy="219.5" r="3.1"/><circle class="k3" cx="815.5" cy="327.5" r="9.3"/><circle class="k4" cx="694.5" cy="297.5" r="3.9"/><circle class="k2" cx="909.0" cy="147.0" r="2.6"/><circle class="k4" cx="729.0" cy="355.0" r="2.4"/><circle class="k3" cx="816.0" cy="400.5" r="9.7"/><circle class="k0" cx="862.5" cy="354.0" r="9.9"/><circle class="k2" cx="927.0" cy="165.5" r="2.0"/><circle class="k4" cx="712.0" cy="286.0" r="8.5"/><circle class="k4" cx="904.5" cy="186.0" r="2.1"/><circle class="k4" cx="817.5" cy="423.5" r="7.7"/><circle class="k0" cx="846.5" cy="136.5" r="5.6"/><circle class="k3" cx="809.0" cy="292.5" r="6.6"/><circle class="k4" cx="753.0" cy="370.0" r="7.0"/><circle class="k3" cx="812.5" cy="247.5" r="5.0"/><circle class="k4" cx="884.5" cy="224.0" r="3.2"/><circle class="k2" cx="794.0" cy="343.0" r="7.8"/><circle class="k4" cx="888.5" cy="370.0" r="5.9"/><circle class="k0" cx="813.5" cy="255.0" r="2.0"/><circle class="k4" cx="876.5" cy="387.5" r="7.8"/><circle class="k2" cx="905.0" cy="384.5" r="2.4"/><circle class="k0" cx="922.5" cy="401.5" r="4.6"/><circle class="k3" cx="896.5" cy="443.0" r="3.7"/><circle class="k1" cx="806.5" cy="332.5" r="7.8"/><circle class="k1" cx="770.5" cy="243.0" r="7.8"/><circle class="k1" cx="780.0" cy="167.5" r="2.4"/><circle class="k4" cx="882.5" cy="338.5" r="4.2"/><circle class="k4" cx="728.0" cy="232.0" r="2.4"/><circle class="k0" cx="916.5" cy="411.0" r="2.1"/><circle class="k0" cx="827.5" cy="426.5" r="2.1"/><circle class="k3" cx="855.5" cy="154.5" r="4.2"/><circle class="k2" cx="886.0" cy="206.5" r="2.4"/><circle class="k3" cx="710.0" cy="256.5" r="2.8"/><circle class="k0" cx="821.0" cy="365.0" r="8.1"/><circle class="k3" cx="815.0" cy="233.5" r="6.6"/><circle class="k3" cx="881.0" cy="430.5" r="8.5"/><circle class="k3" cx="783.5" cy="330.5" r="8.0"/><circle class="k0" cx="796.5" cy="383.5" r="2.4"/><circle class="k4" cx="823.0" cy="173.5" r="8.1"/><circle class="k0" cx="766.0" cy="217.0" r="4.5"/><circle class="k2" cx="881.5" cy="226.0" r="3.1"/><circle class="k2" cx="804.0" cy="151.0" r="2.0"/><circle class="k1" cx="838.0" cy="235.0" r="2.8"/><circle class="k3" cx="870.0" cy="442.0" r="4.8"/><circle class="k3" cx="785.0" cy="162.5" r="2.0"/><circle class="k3" cx="835.0" cy="322.0" r="2.0"/><circle class="k3" cx="850.5" cy="413.5" r="8.4"/><circle class="k4" cx="728.0" cy="351.5" r="5.5"/><circle class="k4" cx="855.5" cy="323.0" r="2.0"/><circle class="k4" cx="818.0" cy="240.5" r="2.0"/><circle class="k3" cx="839.5" cy="129.0" r="2.0"/><circle class="k4" cx="912.0" cy="388.5" r="2.1"/><circle class="k3" cx="802.5" cy="226.5" r="9.6"/><circle class="k0" cx="868.0" cy="180.0" r="8.1"/><circle class="k3" cx="843.5" cy="241.5" r="2.8"/><circle class="k0" cx="798.0" cy="388.5" r="5.3"/><circle class="k0" cx="887.0" cy="442.0" r="5.5"/><circle class="k3" cx="796.5" cy="396.0" r="7.3"/><circle class="k1" cx="794.5" cy="403.5" r="2.0"/><circle class="k4" cx="772.0" cy="213.0" r="3.1"/><circle class="k4" cx="806.5" cy="352.5" r="8.0"/><circle class="k4" cx="833.5" cy="134.0" r="3.8"/><circle class="k4" cx="854.5" cy="326.5" r="5.5"/><circle class="k0" cx="823.0" cy="213.0" r="7.9"/><circle class="k3" cx="881.0" cy="404.0" r="7.9"/><circle class="k4" cx="883.0" cy="159.5" r="5.0"/><circle class="k4" cx="824.0" cy="232.0" r="2.1"/><circle class="k4" cx="879.0" cy="418.5" r="7.8"/><circle class="k1" cx="912.0" cy="418.0" r="5.9"/><circle class="k0" cx="892.5" cy="432.0" r="3.1"/><circle class="k0" cx="895.5" cy="168.5" r="8.3"/><circle class="k2" cx="888.0" cy="166.5" r="8.2"/><circle class="k3" cx="818.5" cy="236.5" r="2.5"/><circle class="k4" cx="895.0" cy="374.5" r="2.4"/><circle class="k3" cx="744.0" cy="377.5" r="2.0"/><circle class="k1" cx="776.5" cy="205.0" r="2.1"/><circle class="k0" cx="889.5" cy="446.5" r="2.0"/><circle class="k4" cx="696.5" cy="277.0" r="2.1"/><circle class="k3" cx="816.5" cy="271.0" r="2.1"/><circle class="k3" cx="863.5" cy="159.5" r="4.0"/><circle class="k0" cx="922.5" cy="172.5" r="5.0"/><circle class="k2" cx="789.0" cy="397.0" r="2.0"/><circle class="k1" cx="857.5" cy="445.5" r="2.0"/><circle class="k0" cx="839.5" cy="142.0" r="7.8"/><circle class="k2" cx="855.5" cy="243.0" r="2.1"/><circle class="k3" cx="916.5" cy="420.5" r="2.0"/><circle class="k3" cx="788.5" cy="373.0" r="5.7"/><circle class="k3" cx="876.5" cy="204.5" r="9.2"/><circle class="k1" cx="718.5" cy="355.0" r="2.0"/><circle class="k3" cx="803.0" cy="407.5" r="6.4"/><circle class="k3" cx="745.5" cy="218.5" r="2.0"/><circle class="k3" cx="729.5" cy="269.0" r="7.9"/><circle class="k4" cx="776.0" cy="326.5" r="8.1"/><circle class="k3" cx="825.0" cy="431.0" r="2.1"/><circle class="k3" cx="900.0" cy="379.0" r="2.0"/></g><g class="sp" filter="url(#lt)"><circle class="s3" cx="799.5" cy="402.0" r="6.4"/><circle class="s2" cx="750.5" cy="351.0" r="7.4"/><circle class="s0" cx="800.5" cy="253.5" r="8.5"/><circle class="s3" cx="853.5" cy="212.0" r="6.5"/><circle class="s3" cx="907.5" cy="421.0" r="5.8"/><circle class="s1" cx="707.0" cy="298.5" r="6.4"/><circle class="s2" cx="866.0" cy="352.0" r="10.1"/><circle class="s1" cx="740.5" cy="324.0" r="6.3"/><circle class="s2" cx="819.0" cy="409.5" r="6.6"/><circle class="s2" cx="844.0" cy="342.5" r="6.0"/><circle class="s3" cx="765.0" cy="374.0" r="6.9"/><circle class="s3" cx="701.5" cy="280.5" r="6.6"/><circle class="s0" cx="758.5" cy="266.0" r="7.8"/><circle class="s3" cx="839.5" cy="152.0" r="8.4"/><circle class="s0" cx="797.0" cy="199.0" r="8.9"/><circle class="s3" cx="721.5" cy="330.0" r="8.4"/><circle class="s1" cx="694.0" cy="311.0" r="3.7"/><circle class="s2" cx="773.5" cy="277.5" r="6.6"/><circle class="s3" cx="793.5" cy="287.0" r="7.2"/><circle class="s1" cx="717.5" cy="251.5" r="6.7"/><circle class="s0" cx="791.0" cy="223.0" r="7.3"/><circle class="s2" cx="808.0" cy="199.0" r="7.9"/><circle class="s0" cx="794.0" cy="175.0" r="7.1"/><circle class="s0" cx="731.5" cy="234.5" r="5.7"/><circle class="s1" cx="891.5" cy="408.5" r="8.9"/><circle class="s1" cx="836.5" cy="136.5" r="6.5"/><circle class="s1" cx="870.5" cy="162.0" r="7.3"/><circle class="s3" cx="800.5" cy="323.0" r="6.0"/><circle class="s0" cx="754.5" cy="285.5" r="5.8"/><circle class="s2" cx="860.0" cy="401.5" r="5.7"/><circle class="s1" cx="867.0" cy="232.5" r="6.5"/><circle class="s0" cx="706.5" cy="287.5" r="7.3"/><circle class="s1" cx="903.5" cy="413.5" r="6.3"/><circle class="s1" cx="811.5" cy="246.0" r="6.6"/><circle class="s3" cx="706.5" cy="307.0" r="7.9"/><circle class="s2" cx="842.0" cy="171.0" r="10.4"/><circle class="s3" cx="840.5" cy="374.5" r="7.4"/><circle class="s1" cx="751.5" cy="237.5" r="7.4"/><circle class="s0" cx="838.5" cy="394.0" r="7.6"/><circle class="s3" cx="857.0" cy="334.5" r="5.8"/><circle class="s1" cx="713.5" cy="335.0" r="6.7"/><circle class="s2" cx="816.5" cy="207.0" r="5.7"/><circle class="s1" cx="786.0" cy="341.0" r="6.5"/><circle class="s0" cx="820.0" cy="376.0" r="9.2"/><circle class="s0" cx="790.5" cy="245.5" r="8.0"/><circle class="s2" cx="797.5" cy="333.0" r="8.2"/><circle class="s1" cx="782.5" cy="183.5" r="6.2"/><circle class="s3" cx="783.5" cy="352.5" r="6.0"/><circle class="s0" cx="895.5" cy="381.5" r="6.3"/><circle class="s2" cx="798.0" cy="266.5" r="6.4"/><circle class="s2" cx="872.0" cy="393.5" r="6.7"/><circle class="s2" cx="869.0" cy="212.0" r="7.5"/><circle class="s1" cx="729.0" cy="309.5" r="9.6"/><circle class="s3" cx="732.0" cy="350.5" r="5.7"/><circle class="s1" cx="740.5" cy="225.5" r="4.7"/><circle class="s3" cx="743.5" cy="361.5" r="7.4"/><circle class="s1" cx="802.5" cy="296.5" r="8.8"/><circle class="s1" cx="762.0" cy="296.0" r="7.8"/><circle class="s2" cx="765.0" cy="362.5" r="6.0"/><circle class="s3" cx="818.5" cy="228.0" r="6.1"/><circle class="s3" cx="758.0" cy="311.0" r="6.2"/><circle class="s2" cx="879.0" cy="227.5" r="3.4"/><circle class="s1" cx="883.0" cy="199.5" r="7.5"/><circle class="s1" cx="874.0" cy="334.0" r="5.2"/><circle class="s2" cx="851.5" cy="382.0" r="7.6"/><circle class="s2" cx="799.0" cy="365.5" r="11.0"/><circle class="s0" cx="892.0" cy="391.0" r="5.8"/><circle class="s2" cx="820.5" cy="174.5" r="5.7"/><circle class="s1" cx="811.5" cy="320.5" r="10.9"/><circle class="s2" cx="874.0" cy="405.5" r="8.8"/><circle class="s1" cx="748.0" cy="310.5" r="7.2"/><circle class="s3" cx="782.0" cy="175.5" r="4.0"/><circle class="s0" cx="727.5" cy="244.0" r="9.0"/><circle class="s0" cx="812.0" cy="281.0" r="4.6"/><circle class="s1" cx="828.5" cy="210.5" r="9.8"/><circle class="s3" cx="833.5" cy="384.5" r="5.7"/><circle class="s1" cx="810.5" cy="300.0" r="5.2"/><circle class="s3" cx="819.0" cy="188.0" r="9.7"/><circle class="s0" cx="776.5" cy="289.5" r="9.8"/><circle class="s1" cx="741.5" cy="334.5" r="6.4"/><circle class="s3" cx="850.0" cy="179.5" r="10.0"/><circle class="s2" cx="792.5" cy="358.5" r="7.0"/><circle class="s3" cx="774.0" cy="247.5" r="6.2"/><circle class="s3" cx="767.0" cy="286.5" r="9.7"/><circle class="s0" cx="801.0" cy="219.0" r="7.0"/><circle class="s2" cx="766.0" cy="337.5" r="10.8"/><circle class="s1" cx="838.5" cy="185.5" r="8.8"/><circle class="s2" cx="853.5" cy="228.5" r="8.3"/><circle class="s2" cx="737.0" cy="253.0" r="8.2"/><circle class="s2" cx="826.5" cy="347.0" r="6.8"/><circle class="s0" cx="778.5" cy="189.0" r="4.6"/><circle class="s0" cx="891.0" cy="419.5" r="10.5"/><circle class="s1" cx="794.0" cy="276.5" r="6.3"/><circle class="s1" cx="874.0" cy="200.5" r="5.7"/><circle class="s2" cx="787.5" cy="231.5" r="7.2"/><circle class="s1" cx="858.5" cy="325.0" r="3.7"/><circle class="s2" cx="873.5" cy="442.5" r="3.4"/><circle class="s0" cx="840.0" cy="327.5" r="7.5"/><circle class="s0" cx="746.0" cy="373.0" r="6.8"/><circle class="s1" cx="782.0" cy="301.0" r="6.5"/><circle class="s1" cx="800.0" cy="311.0" r="9.2"/><circle class="s2" cx="762.0" cy="278.0" r="5.7"/><circle class="s0" cx="817.5" cy="357.5" r="7.6"/><circle class="s2" cx="737.0" cy="263.5" r="6.6"/><circle class="s0" cx="916.0" cy="409.0" r="4.1"/><circle class="s3" cx="829.5" cy="162.0" r="6.6"/><circle class="s0" cx="810.5" cy="228.0" r="9.4"/><circle class="s1" cx="757.5" cy="243.0" r="6.0"/><circle class="s1" cx="747.0" cy="226.0" r="7.1"/><circle class="s0" cx="863.0" cy="376.5" r="8.0"/><circle class="s2" cx="765.0" cy="234.0" r="10.2"/><circle class="s3" cx="719.0" cy="276.5" r="8.3"/><circle class="s3" cx="787.0" cy="191.0" r="10.1"/><circle class="s2" cx="751.5" cy="277.0" r="5.8"/><circle class="s3" cx="806.0" cy="379.5" r="9.6"/><circle class="s0" cx="777.0" cy="375.0" r="4.6"/><circle class="s2" cx="776.0" cy="336.5" r="6.1"/><circle class="s1" cx="771.5" cy="302.0" r="8.0"/><circle class="s0" cx="851.5" cy="169.0" r="7.6"/><circle class="s2" cx="860.0" cy="444.5" r="3.7"/><circle class="s1" cx="810.5" cy="403.5" r="10.2"/><circle class="s1" cx="876.5" cy="373.0" r="10.5"/><circle class="s3" cx="886.0" cy="434.0" r="8.2"/><circle class="s2" cx="719.0" cy="306.0" r="7.1"/><circle class="s1" cx="804.0" cy="159.0" r="8.3"/><circle class="s3" cx="804.5" cy="187.0" r="9.9"/><circle class="s3" cx="835.0" cy="360.0" r="5.8"/><circle class="s1" cx="854.0" cy="356.0" r="6.5"/><circle class="s0" cx="775.0" cy="224.0" r="5.9"/><circle class="s3" cx="914.5" cy="174.5" r="5.8"/><circle class="s2" cx="899.5" cy="158.5" r="5.9"/><circle class="s3" cx="809.0" cy="393.5" r="10.0"/><circle class="s0" cx="800.0" cy="242.5" r="8.9"/><circle class="s3" cx="867.0" cy="240.5" r="3.3"/><circle class="s1" cx="797.5" cy="212.0" r="6.1"/><circle class="s3" cx="784.0" cy="369.0" r="5.7"/><circle class="s0" cx="886.0" cy="163.0" r="8.2"/><circle class="s3" cx="922.0" cy="398.0" r="4.7"/><circle class="s1" cx="883.0" cy="355.5" r="5.0"/><circle class="s2" cx="798.5" cy="167.0" r="6.1"/><circle class="s3" cx="740.5" cy="292.5" r="6.6"/><circle class="s0" cx="714.0" cy="315.5" r="7.0"/><circle class="s3" cx="859.5" cy="363.0" r="7.0"/><circle class="s2" cx="883.5" cy="399.5" r="8.8"/><circle class="s3" cx="761.0" cy="319.0" r="6.4"/><circle class="s0" cx="903.5" cy="392.5" r="6.4"/><circle class="s0" cx="784.0" cy="360.5" r="6.7"/><circle class="s3" cx="810.5" cy="178.0" r="7.7"/><circle class="s2" cx="861.5" cy="193.0" r="5.7"/><circle class="s1" cx="746.5" cy="257.5" r="8.6"/><circle class="s0" cx="855.0" cy="393.0" r="6.5"/><circle class="s3" cx="889.5" cy="445.0" r="3.7"/><circle class="s2" cx="770.5" cy="352.5" r="7.7"/><circle class="s1" cx="854.5" cy="369.0" r="5.8"/><circle class="s0" cx="856.0" cy="185.5" r="5.8"/><circle class="s1" cx="818.5" cy="142.5" r="3.4"/><circle class="s0" cx="778.5" cy="326.5" r="7.7"/><circle class="s2" cx="774.5" cy="258.5" r="6.9"/><circle class="s0" cx="786.5" cy="253.5" r="6.7"/><circle class="s1" cx="845.5" cy="351.0" r="7.4"/><circle class="s1" cx="709.0" cy="347.5" r="3.4"/><circle class="s3" cx="782.5" cy="222.0" r="5.8"/><circle class="s3" cx="755.0" cy="302.5" r="7.2"/><circle class="s2" cx="864.0" cy="200.0" r="7.9"/><circle class="s0" cx="774.5" cy="362.5" r="8.3"/><circle class="s3" cx="863.0" cy="176.0" r="7.1"/><circle class="s0" cx="766.5" cy="220.5" r="8.2"/><circle class="s0" cx="704.0" cy="266.5" r="5.1"/><circle class="s1" cx="862.0" cy="160.5" r="5.2"/><circle class="s0" cx="892.0" cy="373.0" r="5.0"/><circle class="s2" cx="720.0" cy="338.5" r="5.7"/><circle class="s2" cx="781.5" cy="265.5" r="6.3"/><circle class="s3" cx="823.5" cy="386.0" r="7.0"/><circle class="s3" cx="792.0" cy="320.5" r="7.1"/><circle class="s2" cx="825.5" cy="328.0" r="6.9"/><circle class="s2" cx="860.5" cy="419.0" r="10.0"/><circle class="s3" cx="886.0" cy="218.5" r="5.9"/><circle class="s3" cx="897.0" cy="439.5" r="4.4"/><circle class="s3" cx="741.5" cy="241.0" r="5.8"/><circle class="s3" cx="859.0" cy="343.0" r="9.7"/><circle class="s2" cx="802.5" cy="283.5" r="9.7"/><circle class="s2" cx="869.5" cy="438.5" r="5.8"/><circle class="s3" cx="918.0" cy="158.5" r="4.0"/><circle class="s1" cx="854.5" cy="408.0" r="10.0"/><circle class="s0" cx="836.0" cy="131.5" r="3.0"/><circle class="s2" cx="811.0" cy="268.5" r="6.8"/><circle class="s0" cx="717.5" cy="242.5" r="5.9"/><circle class="s1" cx="879.0" cy="440.0" r="4.7"/><circle class="s3" cx="828.5" cy="195.5" r="10.0"/><circle class="s2" cx="839.0" cy="218.0" r="8.9"/><circle class="s2" cx="776.5" cy="238.5" r="5.7"/><circle class="s1" cx="865.0" cy="428.0" r="8.8"/><circle class="s0" cx="822.0" cy="395.5" r="11.0"/><circle class="s0" cx="721.0" cy="268.5" r="5.7"/><circle class="s0" cx="849.5" cy="399.5" r="6.6"/><circle class="s0" cx="825.5" cy="354.5" r="5.9"/><circle class="s2" cx="897.0" cy="396.5" r="5.7"/><circle class="s2" cx="914.0" cy="414.0" r="3.3"/><circle class="s2" cx="884.0" cy="344.0" r="6.5"/><circle class="s1" cx="831.0" cy="151.5" r="5.8"/><circle class="s2" cx="749.5" cy="328.5" r="10.4"/><circle class="s2" cx="826.0" cy="338.0" r="7.1"/><circle class="s3" cx="816.0" cy="161.0" r="7.0"/><circle class="s1" cx="738.0" cy="365.5" r="4.1"/><circle class="s3" cx="848.0" cy="236.0" r="6.6"/><circle class="s3" cx="845.0" cy="365.5" r="5.9"/><circle class="s3" cx="723.5" cy="236.0" r="4.6"/><circle class="s3" cx="804.5" cy="347.0" r="8.7"/><circle class="s0" cx="848.5" cy="418.0" r="7.5"/><circle class="s1" cx="779.0" cy="212.0" r="7.5"/><circle class="s0" cx="733.0" cy="284.0" r="8.8"/><circle class="s1" cx="870.5" cy="190.5" r="7.0"/><circle class="s2" cx="850.5" cy="197.5" r="8.0"/><circle class="s2" cx="847.5" cy="426.0" r="5.9"/><circle class="s0" cx="893.0" cy="174.5" r="7.8"/><circle class="s1" cx="872.0" cy="175.0" r="7.4"/><circle class="s3" cx="710.5" cy="263.5" r="8.3"/><circle class="s3" cx="785.5" cy="287.0" r="5.7"/><circle class="s2" cx="816.0" cy="425.5" r="5.7"/><circle class="s3" cx="757.5" cy="369.5" r="8.5"/><circle class="s3" cx="730.0" cy="343.0" r="5.7"/><circle class="s2" cx="722.5" cy="346.5" r="10.2"/><circle class="s3" cx="804.5" cy="275.0" r="6.7"/><circle class="s3" cx="833.0" cy="323.5" r="3.2"/><circle class="s1" cx="747.0" cy="266.5" r="5.8"/><circle class="s1" cx="690.0" cy="287.0" r="3.7"/><circle class="s2" cx="797.0" cy="231.5" r="8.3"/><circle class="s3" cx="840.5" cy="230.5" r="5.8"/><circle class="s1" cx="847.0" cy="242.5" r="4.7"/><circle class="s3" cx="888.5" cy="188.0" r="5.8"/><circle class="s1" cx="851.0" cy="330.0" r="7.8"/><circle class="s2" cx="818.5" cy="216.5" r="6.7"/><circle class="s1" cx="870.0" cy="339.5" r="9.8"/><circle class="s2" cx="883.0" cy="379.0" r="5.8"/><circle class="s3" cx="826.0" cy="230.0" r="3.7"/><circle class="s3" cx="848.5" cy="157.5" r="6.6"/><circle class="s0" cx="807.5" cy="290.0" r="6.3"/><circle class="s3" cx="814.0" cy="170.0" r="5.8"/><circle class="s0" cx="716.5" cy="351.5" r="5.9"/><circle class="s2" cx="823.5" cy="429.5" r="4.4"/><circle class="s1" cx="869.0" cy="223.0" r="9.9"/><circle class="s0" cx="830.0" cy="405.0" r="5.8"/><circle class="s3" cx="866.0" cy="158.0" r="3.3"/><circle class="s1" cx="907.5" cy="151.5" r="5.9"/><circle class="s0" cx="826.0" cy="365.0" r="9.4"/><circle class="s2" cx="695.5" cy="294.0" r="6.6"/><circle class="s3" cx="907.0" cy="161.0" r="7.3"/><circle class="s3" cx="848.5" cy="141.5" r="8.3"/><circle class="s1" cx="835.0" cy="367.5" r="5.9"/><circle class="s0" cx="806.0" cy="209.5" r="8.6"/><circle class="s2" cx="690.5" cy="292.0" r="3.0"/><circle class="s1" cx="909.5" cy="398.0" r="8.8"/><circle class="s3" cx="833.0" cy="342.0" r="5.9"/><circle class="s0" cx="806.0" cy="329.5" r="6.1"/><circle class="s1" cx="795.0" cy="185.0" r="9.1"/><circle class="s3" cx="842.5" cy="205.0" r="10.5"/><circle class="s0" cx="722.5" cy="290.0" r="5.7"/><circle class="s3" cx="906.5" cy="175.5" r="7.0"/><circle class="s1" cx="787.5" cy="207.0" r="6.0"/><circle class="s1" cx="877.5" cy="386.5" r="8.6"/><circle class="s1" cx="860.0" cy="221.5" r="6.7"/><circle class="s3" cx="705.5" cy="273.0" r="5.7"/><circle class="s3" cx="852.5" cy="150.5" r="6.1"/><circle class="s1" cx="766.5" cy="326.5" r="7.8"/><circle class="s3" cx="753.5" cy="373.5" r="3.7"/><circle class="s0" cx="764.5" cy="256.0" r="6.7"/><circle class="s3" cx="838.0" cy="235.0" r="3.0"/><circle class="s1" cx="919.0" cy="392.0" r="4.2"/><circle class="s2" cx="751.5" cy="293.0" r="8.7"/><circle class="s3" cx="865.0" cy="168.0" r="5.8"/><circle class="s0" cx="880.0" cy="179.5" r="5.9"/><circle class="s0" cx="758.5" cy="343.5" r="9.9"/><circle class="s1" cx="854.5" cy="429.5" r="6.7"/><circle class="s1" cx="791.5" cy="260.5" r="8.5"/><circle class="s3" cx="924.5" cy="170.5" r="3.7"/><circle class="s0" cx="865.0" cy="388.0" r="5.7"/><circle class="s0" cx="803.0" cy="152.0" r="3.2"/><circle class="s0" cx="818.0" cy="234.5" r="3.7"/><circle class="s1" cx="744.5" cy="345.5" r="5.8"/><circle class="s2" cx="816.5" cy="312.0" r="5.7"/><circle class="s2" cx="777.0" cy="317.5" r="6.1"/><circle class="s1" cx="836.0" cy="410.0" r="5.8"/><circle class="s2" cx="915.0" cy="152.5" r="3.7"/><circle class="s2" cx="886.5" cy="210.0" r="3.7"/><circle class="s1" cx="811.5" cy="415.0" r="6.3"/><circle class="s3" cx="828.5" cy="373.5" r="5.7"/><circle class="s1" cx="877.0" cy="419.5" r="7.7"/><circle class="s1" cx="896.0" cy="191.0" r="4.8"/><circle class="s3" cx="728.0" cy="298.5" r="5.7"/><circle class="s2" cx="878.0" cy="208.5" r="10.7"/><circle class="s3" cx="832.5" cy="330.5" r="5.8"/><circle class="s3" cx="794.0" cy="346.5" r="8.6"/><circle class="s0" cx="809.0" cy="368.5" r="8.8"/><circle class="s3" cx="855.5" cy="146.5" r="3.9"/><circle class="s2" cx="892.0" cy="432.0" r="3.7"/><circle class="s2" cx="872.5" cy="233.5" r="4.2"/><circle class="s3" cx="903.5" cy="428.0" r="3.7"/><circle class="s3" cx="862.5" cy="237.5" r="5.3"/><circle class="s3" cx="722.0" cy="259.0" r="8.1"/><circle class="s0" cx="797.5" cy="382.0" r="4.1"/><circle class="s2" cx="740.5" cy="274.0" r="6.1"/><circle class="s1" cx="820.0" cy="318.5" r="6.9"/><circle class="s3" cx="714.0" cy="327.5" r="3.7"/><circle class="s2" cx="900.0" cy="167.5" r="9.3"/><circle class="s0" cx="797.0" cy="390.0" r="5.8"/><circle class="s0" cx="902.5" cy="187.0" r="3.0"/><circle class="s0" cx="807.5" cy="259.5" r="5.9"/><circle class="s2" cx="832.0" cy="170.0" r="5.7"/><circle class="s2" cx="781.5" cy="280.5" r="6.6"/><circle class="s0" cx="885.5" cy="366.0" r="3.9"/><circle class="s3" cx="877.0" cy="159.0" r="3.7"/><circle class="s1" cx="841.5" cy="421.5" r="6.1"/><circle class="s0" cx="753.5" cy="336.5" r="6.2"/><circle class="s3" cx="829.0" cy="220.5" r="9.8"/><circle class="s0" cx="776.0" cy="310.0" r="6.0"/><circle class="s3" cx="871.0" cy="366.0" r="6.1"/><circle class="s0" cx="755.0" cy="259.0" r="5.9"/><circle class="s2" cx="829.0" cy="138.0" r="4.4"/><circle class="s2" cx="794.0" cy="306.0" r="5.7"/><circle class="s0" cx="768.0" cy="269.5" r="9.6"/><circle class="s2" cx="747.0" cy="284.0" r="10.5"/><circle class="s2" cx="904.0" cy="385.5" r="4.0"/><circle class="s0" cx="789.5" cy="164.5" r="4.6"/><circle class="s3" cx="750.0" cy="219.0" r="3.3"/><circle class="s2" cx="810.5" cy="220.0" r="5.8"/><circle class="s1" cx="826.0" cy="423.5" r="4.7"/><circle class="s1" cx="781.0" cy="168.0" r="3.3"/><circle class="s2" cx="739.5" cy="352.0" r="5.8"/><circle class="s2" cx="745.5" cy="247.5" r="7.1"/><circle class="s3" cx="738.5" cy="232.0" r="7.3"/><circle class="s0" cx="752.5" cy="320.0" r="7.0"/><circle class="s2" cx="901.0" cy="182.5" r="7.2"/><circle class="s2" cx="905.5" cy="183.5" r="3.3"/><circle class="s0" cx="804.0" cy="409.0" r="5.7"/><circle class="s2" cx="825.0" cy="416.0" r="6.3"/><circle class="s0" cx="826.0" cy="145.5" r="9.7"/><circle class="s1" cx="712.0" cy="245.5" r="4.2"/><circle class="s0" cx="911.5" cy="389.5" r="3.4"/><circle class="s0" cx="861.5" cy="438.5" r="6.0"/><circle class="s1" cx="846.5" cy="390.5" r="6.8"/><circle class="s3" cx="732.0" cy="328.0" r="10.8"/><circle class="s2" cx="728.5" cy="274.0" r="6.9"/><circle class="s1" cx="843.5" cy="131.0" r="3.0"/><circle class="s3" cx="702.0" cy="333.5" r="3.0"/><circle class="s3" cx="842.5" cy="383.0" r="6.0"/><circle class="s1" cx="768.5" cy="312.0" r="6.7"/><circle class="s3" cx="700.5" cy="339.5" r="3.3"/><circle class="s0" cx="758.0" cy="231.0" r="5.7"/><circle class="s2" cx="909.0" cy="429.5" r="3.3"/><circle class="s3" cx="899.0" cy="426.5" r="5.2"/><circle class="s1" cx="734.0" cy="357.0" r="3.9"/><circle class="s3" cx="693.5" cy="303.5" r="3.9"/><circle class="s3" cx="816.0" cy="335.0" r="6.9"/><circle class="s0" cx="767.0" cy="244.0" r="6.1"/><circle class="s1" cx="833.0" cy="417.5" r="5.7"/><circle class="s1" cx="788.0" cy="375.0" r="3.9"/><circle class="s0" cx="811.5" cy="287.0" r="3.9"/><circle class="s2" cx="837.0" cy="197.0" r="6.2"/><circle class="s3" cx="788.0" cy="294.0" r="6.5"/><circle class="s1" cx="884.0" cy="172.5" r="6.3"/><circle class="s3" cx="901.5" cy="404.0" r="10.9"/><circle class="s3" cx="791.5" cy="368.5" r="5.7"/><circle class="s0" cx="710.5" cy="278.5" r="6.8"/><circle class="s2" cx="852.0" cy="324.5" r="3.7"/><circle class="s2" cx="780.5" cy="203.0" r="4.7"/><circle class="s1" cx="737.5" cy="309.5" r="5.9"/><circle class="s3" cx="837.5" cy="163.5" r="6.0"/><circle class="s1" cx="806.0" cy="167.5" r="5.8"/><circle class="s2" cx="882.0" cy="337.0" r="3.7"/><circle class="s0" cx="785.5" cy="171.5" r="6.8"/><circle class="s2" cx="877.0" cy="429.5" r="6.7"/><circle class="s3" cx="815.0" cy="147.0" r="3.7"/><circle class="s3" cx="830.5" cy="394.0" r="6.3"/><circle class="s2" cx="700.5" cy="312.0" r="4.6"/><circle class="s0" cx="924.5" cy="165.0" r="4.6"/><circle class="s3" cx="921.5" cy="176.5" r="4.0"/><circle class="s2" cx="784.0" cy="310.0" r="6.6"/><circle class="s2" cx="695.5" cy="278.5" r="3.0"/><circle class="s0" cx="883.0" cy="442.5" r="3.7"/><circle class="s2" cx="714.5" cy="293.0" r="10.2"/><circle class="s3" cx="913.5" cy="180.0" r="4.1"/><circle class="s1" cx="818.5" cy="348.0" r="5.9"/><circle class="s1" cx="867.5" cy="332.5" r="5.3"/><circle class="s1" cx="724.0" cy="318.0" r="6.6"/><circle class="s1" cx="813.0" cy="151.5" r="5.1"/><circle class="s3" cx="852.5" cy="138.0" r="3.0"/><circle class="s0" cx="706.0" cy="315.5" r="4.7"/><circle class="s2" cx="772.5" cy="212.5" r="3.3"/><circle class="s1" cx="866.0" cy="445.0" r="3.4"/><circle class="s0" cx="810.0" cy="237.5" r="5.9"/><circle class="s0" cx="760.0" cy="218.0" r="3.3"/><circle class="s2" cx="761.5" cy="353.0" r="6.3"/><circle class="s2" cx="740.0" cy="372.0" r="3.4"/><circle class="s1" cx="843.5" cy="410.0" r="5.8"/><circle class="s1" cx="846.5" cy="215.5" r="6.1"/><circle class="s3" cx="783.0" cy="392.0" r="3.3"/><circle class="s1" cx="917.0" cy="167.0" r="10.5"/><circle class="s3" cx="878.0" cy="218.5" r="6.1"/><circle class="s3" cx="705.5" cy="338.5" r="6.6"/><circle class="s1" cx="743.5" cy="303.5" r="5.8"/><circle class="s1" cx="759.5" cy="375.0" r="4.4"/><circle class="s2" cx="855.5" cy="236.5" r="5.7"/><circle class="s3" cx="884.0" cy="412.0" r="6.3"/><circle class="s2" cx="901.5" cy="381.5" r="3.3"/><circle class="s0" cx="919.0" cy="404.0" r="6.3"/><circle class="s3" cx="795.0" cy="402.5" r="3.0"/><circle class="s0" cx="730.0" cy="258.5" r="5.7"/><circle class="s0" cx="789.0" cy="268.5" r="6.0"/><circle class="s1" cx="800.0" cy="373.0" r="5.7"/><circle class="s0" cx="896.5" cy="444.5" r="3.0"/><circle class="s1" cx="826.5" cy="182.0" r="9.0"/><circle class="s2" cx="880.5" cy="188.0" r="9.1"/><circle class="s3" cx="777.5" cy="345.5" r="9.6"/><circle class="s3" cx="771.5" cy="377.5" r="3.7"/><circle class="s0" cx="845.5" cy="223.0" r="5.8"/><circle class="s0" cx="691.0" cy="281.0" r="3.0"/><circle class="s2" cx="863.0" cy="409.0" r="6.6"/><circle class="s3" cx="715.5" cy="323.0" r="5.1"/><circle class="s2" cx="791.5" cy="395.0" r="4.4"/><circle class="s2" cx="856.5" cy="156.0" r="4.4"/><circle class="s3" cx="878.0" cy="361.5" r="7.2"/><circle class="s1" cx="855.0" cy="142.0" r="3.2"/><circle class="s0" cx="735.0" cy="300.5" r="7.9"/><circle class="s1" cx="725.0" cy="283.0" r="6.1"/><circle class="s1" cx="754.0" cy="362.0" r="5.8"/><circle class="s2" cx="779.5" cy="193.5" r="3.0"/><circle class="s2" cx="818.5" cy="200.0" r="9.9"/><circle class="s3" cx="798.5" cy="157.5" r="4.0"/><circle class="s1" cx="814.5" cy="385.0" r="6.6"/><circle class="s3" cx="776.5" cy="182.5" r="3.9"/><circle class="s3" cx="695.0" cy="284.5" r="5.7"/><circle class="s3" cx="716.0" cy="237.5" r="3.0"/><circle class="s3" cx="864.5" cy="329.0" r="3.3"/><circle class="s1" cx="816.0" cy="306.0" r="3.0"/><circle class="s3" cx="757.5" cy="251.5" r="6.1"/><circle class="s3" cx="817.0" cy="367.0" r="6.1"/><circle class="s0" cx="856.0" cy="435.5" r="4.8"/><circle class="s3" cx="871.5" cy="182.5" r="5.9"/><circle class="s1" cx="709.5" cy="330.0" r="3.7"/><circle class="s3" cx="812.0" cy="251.5" r="4.4"/><circle class="s1" cx="848.0" cy="135.0" r="3.7"/><circle class="s1" cx="710.5" cy="257.5" r="4.0"/><circle class="s1" cx="826.0" cy="319.5" r="3.0"/><circle class="s2" cx="814.5" cy="273.5" r="4.2"/><circle class="s0" cx="891.5" cy="440.5" r="6.0"/><circle class="s0" cx="782.5" cy="198.5" r="3.9"/><circle class="s0" cx="875.5" cy="348.0" r="7.1"/><circle class="s1" cx="716.0" cy="284.5" r="5.9"/><circle class="s1" cx="912.0" cy="148.5" r="3.2"/><circle class="s3" cx="902.0" cy="153.5" r="4.4"/><circle class="s0" cx="803.0" cy="358.5" r="5.9"/><circle class="s0" cx="844.5" cy="192.5" r="5.9"/><circle class="s1" cx="883.5" cy="157.5" r="3.3"/><circle class="s3" cx="787.5" cy="330.0" r="9.8"/><circle class="s2" cx="810.5" cy="420.0" r="3.3"/><circle class="s0" cx="809.0" cy="313.0" r="5.7"/><circle class="s0" cx="888.0" cy="384.5" r="10.8"/><circle class="s1" cx="725.5" cy="352.5" r="4.2"/><circle class="s0" cx="778.0" cy="394.0" r="3.9"/><circle class="s2" cx="812.5" cy="261.0" r="3.4"/><circle class="s1" cx="887.5" cy="349.0" r="4.1"/><circle class="s0" cx="834.5" cy="352.0" r="10.7"/><circle class="s0" cx="806.5" cy="337.0" r="5.8"/><circle class="s1" cx="757.5" cy="328.0" r="5.8"/><circle class="s2" cx="834.5" cy="232.0" r="3.7"/><circle class="s2" cx="807.0" cy="414.0" r="3.0"/><circle class="s1" cx="809.5" cy="354.0" r="6.4"/><circle class="s2" cx="890.0" cy="159.5" r="4.2"/><circle class="s0" cx="910.0" cy="408.5" r="6.5"/><circle class="s0" cx="831.0" cy="228.5" r="5.8"/><circle class="s2" cx="754.0" cy="221.5" r="5.2"/><circle class="s0" cx="883.5" cy="425.0" r="5.8"/><circle class="s0" cx="856.5" cy="441.0" r="3.2"/><circle class="s2" cx="815.5" cy="243.5" r="3.7"/><circle class="s0" cx="706.0" cy="343.0" r="3.4"/><circle class="s1" cx="840.0" cy="403.5" r="9.8"/><circle class="s3" cx="805.0" cy="304.0" r="5.7"/><circle class="s0" cx="777.5" cy="231.0" r="7.5"/><circle class="s1" cx="818.0" cy="326.5" r="5.7"/><circle class="s1" cx="710.0" cy="321.0" r="3.4"/><circle class="s1" cx="915.0" cy="422.5" r="3.2"/><circle class="s2" cx="741.0" cy="316.5" r="5.9"/><circle class="s2" cx="888.5" cy="344.5" r="3.2"/><circle class="s1" cx="793.0" cy="377.0" r="3.7"/><circle class="s1" cx="839.5" cy="322.5" r="3.2"/><circle class="s0" cx="886.5" cy="223.0" r="3.3"/><circle class="s2" cx="894.5" cy="157.5" r="3.0"/><circle class="s2" cx="784.0" cy="239.5" r="5.8"/><circle class="s0" cx="867.0" cy="399.5" r="5.7"/><circle class="s1" cx="714.0" cy="270.5" r="5.8"/><circle class="s2" cx="736.0" cy="228.0" r="3.7"/><circle class="s1" cx="698.0" cy="306.5" r="6.3"/><circle class="s3" cx="882.0" cy="224.0" r="4.7"/><circle class="s1" cx="839.0" cy="336.0" r="6.4"/><circle class="s1" cx="786.0" cy="396.0" r="3.2"/><circle class="s3" cx="871.5" cy="379.0" r="6.1"/><circle class="s0" cx="733.0" cy="336.0" r="6.1"/><circle class="s2" cx="825.0" cy="204.0" r="5.7"/><circle class="s1" cx="743.5" cy="221.0" r="4.1"/><circle class="s2" cx="852.5" cy="243.0" r="3.9"/><circle class="s1" cx="831.0" cy="188.0" r="5.9"/><circle class="s0" cx="871.5" cy="414.0" r="5.7"/><circle class="s1" cx="712.5" cy="252.5" r="3.7"/><circle class="s2" cx="787.5" cy="391.5" r="3.2"/><circle class="s0" cx="890.5" cy="194.5" r="4.7"/><circle class="s1" cx="706.0" cy="261.0" r="3.3"/><circle class="s3" cx="836.0" cy="177.0" r="5.7"/><circle class="s0" cx="784.0" cy="164.5" r="3.0"/><circle class="s3" cx="878.5" cy="166.0" r="5.9"/><circle class="s2" cx="730.0" cy="291.0" r="5.9"/><circle class="s1" cx="812.5" cy="294.0" r="3.2"/><circle class="s3" cx="818.5" cy="431.0" r="3.3"/><circle class="s0" cx="855.5" cy="204.0" r="6.4"/><circle class="s2" cx="825.0" cy="156.0" r="5.8"/><circle class="s1" cx="725.0" cy="252.0" r="5.8"/><circle class="s2" cx="768.0" cy="215.0" r="3.2"/><circle class="s1" cx="713.0" cy="345.0" r="5.7"/><circle class="s2" cx="842.5" cy="239.0" r="3.7"/><circle class="s3" cx="844.0" cy="324.5" r="3.3"/><circle class="s1" cx="912.0" cy="426.0" r="4.6"/><circle class="s3" cx="885.5" cy="204.5" r="3.0"/><circle class="s1" cx="733.0" cy="316.5" r="5.9"/><circle class="s1" cx="874.5" cy="228.0" r="5.5"/><circle class="s1" cx="824.0" cy="139.0" r="3.0"/><circle class="s0" cx="849.0" cy="374.0" r="6.5"/><circle class="s0" cx="821.5" cy="166.5" r="5.9"/><circle class="s1" cx="819.5" cy="150.5" r="5.7"/><circle class="s1" cx="777.0" cy="207.0" r="3.4"/><circle class="s3" cx="890.0" cy="367.0" r="3.0"/><circle class="s0" cx="851.5" cy="343.5" r="5.8"/><circle class="s1" cx="857.5" cy="240.5" r="3.0"/><circle class="s3" cx="700.5" cy="275.5" r="3.0"/><circle class="s2" cx="795.0" cy="160.5" r="3.3"/><circle class="s1" cx="802.5" cy="176.5" r="5.8"/><circle class="s0" cx="923.5" cy="403.0" r="3.3"/><circle class="s2" cx="842.5" cy="358.5" r="5.8"/><circle class="s3" cx="836.5" cy="421.0" r="3.3"/><circle class="s3" cx="835.5" cy="208.0" r="5.7"/><circle class="s1" cx="799.0" cy="409.0" r="3.0"/><circle class="s1" cx="843.0" cy="426.0" r="3.4"/><circle class="s0" cx="749.5" cy="376.0" r="3.3"/><circle class="s2" cx="870.5" cy="157.5" r="3.0"/><circle class="s3" cx="736.0" cy="361.5" r="3.4"/><circle class="s2" cx="784.5" cy="321.0" r="5.7"/><circle class="s3" cx="812.5" cy="343.0" r="6.0"/><circle class="s0" cx="861.5" cy="212.0" r="5.8"/><circle class="s1" cx="790.5" cy="214.5" r="5.9"/><circle class="s3" cx="832.0" cy="134.5" r="3.4"/><circle class="s1" cx="882.5" cy="360.5" r="3.3"/><circle class="s0" cx="841.5" cy="144.5" r="5.9"/><circle class="s1" cx="850.0" cy="430.5" r="3.4"/><circle class="s3" cx="762.5" cy="304.5" r="6.0"/><circle class="s2" cx="888.5" cy="214.0" r="3.4"/><circle class="s2" cx="885.5" cy="371.5" r="6.3"/><circle class="s2" cx="888.5" cy="198.5" r="3.0"/><circle class="s3" cx="821.5" cy="314.0" r="3.0"/><circle class="s0" cx="807.5" cy="152.0" r="3.7"/><circle class="s0" cx="817.5" cy="239.0" r="3.0"/><circle class="s0" cx="892.5" cy="166.5" r="5.7"/><circle class="s2" cx="729.5" cy="354.5" r="3.2"/><circle class="s3" cx="811.5" cy="190.5" r="5.7"/><circle class="s3" cx="884.5" cy="391.5" r="5.9"/><circle class="s2" cx="729.0" cy="266.0" r="5.7"/><circle class="s0" cx="772.5" cy="370.5" r="6.3"/><circle class="s0" cx="864.0" cy="183.5" r="5.7"/><circle class="s1" cx="829.5" cy="420.5" r="3.0"/><circle class="s2" cx="791.5" cy="313.0" r="5.8"/><circle class="s0" cx="727.0" cy="233.0" r="3.0"/><circle class="s1" cx="775.5" cy="270.0" r="5.8"/><circle class="s3" cx="783.5" cy="375.0" r="3.2"/><circle class="s1" cx="712.0" cy="351.5" r="3.0"/><circle class="s1" cx="834.0" cy="144.0" r="5.8"/><circle class="s0" cx="886.0" cy="340.0" r="3.0"/><circle class="s1" cx="909.5" cy="168.5" r="5.8"/><circle class="s1" cx="737.5" cy="343.0" r="7.3"/><circle class="s3" cx="743.0" cy="376.5" r="3.0"/><circle class="s0" cx="812.0" cy="256.5" r="3.2"/><circle class="s3" cx="895.0" cy="377.0" r="3.3"/><circle class="s0" cx="720.5" cy="353.5" r="3.3"/><circle class="s3" cx="871.5" cy="238.0" r="3.0"/><circle class="s3" cx="869.0" cy="421.0" r="6.3"/><circle class="s2" cx="778.0" cy="178.0" r="3.0"/><circle class="s0" cx="788.5" cy="198.5" r="5.7"/><circle class="s1" cx="769.5" cy="293.5" r="5.8"/><circle class="s1" cx="878.5" cy="333.5" r="3.3"/><circle class="s2" cx="735.0" cy="244.5" r="5.7"/><circle class="s3" cx="812.5" cy="375.5" r="5.7"/><circle class="s2" cx="694.0" cy="298.5" r="3.3"/><circle class="s2" cx="822.0" cy="232.0" r="3.0"/><circle class="s2" cx="795.0" cy="296.0" r="5.7"/><circle class="s1" cx="921.5" cy="161.5" r="3.4"/><circle class="s1" cx="769.5" cy="319.5" r="5.7"/><circle class="s3" cx="766.0" cy="345.5" r="6.1"/><circle class="s3" cx="900.5" cy="191.0" r="3.0"/><circle class="s0" cx="712.5" cy="240.5" r="3.2"/><circle class="s3" cx="864.0" cy="369.0" r="5.9"/><circle class="s0" cx="891.0" cy="427.0" r="5.7"/><circle class="s3" cx="918.0" cy="179.5" r="3.2"/><circle class="s1" cx="767.0" cy="378.0" r="3.4"/><circle class="s2" cx="895.5" cy="435.0" r="3.3"/><circle class="s3" cx="800.0" cy="341.0" r="5.7"/><circle class="s2" cx="854.5" cy="162.0" r="5.7"/><circle class="s2" cx="867.0" cy="360.0" r="5.7"/><circle class="s2" cx="793.5" cy="238.5" r="5.8"/><circle class="s0" cx="758.5" cy="223.5" r="6.1"/><circle class="s0" cx="848.5" cy="359.5" r="6.1"/><circle class="s3" cx="747.5" cy="340.0" r="6.1"/><circle class="s3" cx="892.0" cy="184.0" r="6.1"/><circle class="s1" cx="903.5" cy="424.5" r="6.1"/><circle class="s3" cx="885.5" cy="179.0" r="6.1"/><circle class="s3" cx="875.0" cy="436.0" r="6.1"/><circle class="s3" cx="788.5" cy="282.5" r="6.1"/><circle class="s0" cx="813.0" cy="349.0" r="6.1"/><circle class="s0" cx="853.5" cy="220.0" r="6.1"/><circle class="s3" cx="838.5" cy="416.5" r="6.1"/><circle class="s1" cx="831.5" cy="379.5" r="6.1"/><circle class="s0" cx="799.0" cy="355.0" r="6.1"/><circle class="s2" cx="701.0" cy="300.5" r="6.1"/><circle class="s0" cx="787.5" cy="178.0" r="6.1"/><circle class="s3" cx="809.5" cy="254.5" r="5.9"/><circle class="s1" cx="746.0" cy="233.5" r="6.1"/><circle class="s2" cx="826.0" cy="173.5" r="6.1"/><circle class="s3" cx="793.5" cy="399.5" r="3.3"/><circle class="s3" cx="754.5" cy="272.0" r="6.1"/><circle class="s0" cx="914.0" cy="418.0" r="4.2"/><circle class="s0" cx="918.0" cy="396.0" r="6.1"/><circle class="s3" cx="722.0" cy="299.5" r="6.1"/><circle class="s0" cx="744.0" cy="298.0" r="6.1"/><circle class="s1" cx="837.0" cy="226.5" r="6.1"/><circle class="s0" cx="820.0" cy="420.5" r="6.1"/><circle class="s2" cx="758.5" cy="359.0" r="6.1"/><circle class="s1" cx="784.0" cy="271.5" r="6.1"/><circle class="s3" cx="792.5" cy="301.0" r="6.1"/><circle class="s2" cx="763.0" cy="248.0" r="6.1"/><circle class="s0" cx="780.0" cy="252.0" r="6.1"/><circle class="s2" cx="847.5" cy="337.0" r="6.1"/><circle class="s0" cx="783.0" cy="396.0" r="3.2"/><circle class="s0" cx="727.5" cy="337.5" r="6.1"/><circle class="s3" cx="863.0" cy="393.0" r="6.1"/><circle class="s0" cx="778.5" cy="244.0" r="6.1"/><circle class="s0" cx="738.0" cy="357.0" r="6.1"/><circle class="s1" cx="832.5" cy="336.0" r="6.1"/><circle class="s3" cx="752.5" cy="248.5" r="6.1"/><circle class="s0" cx="741.0" cy="368.0" r="6.1"/><circle class="s3" cx="746.0" cy="273.0" r="6.1"/><circle class="s3" cx="859.0" cy="328.5" r="6.1"/><circle class="s0" cx="735.0" cy="270.0" r="6.1"/><circle class="s3" cx="772.5" cy="215.5" r="5.5"/><circle class="s2" cx="810.5" cy="308.0" r="6.1"/><circle class="s3" cx="750.0" cy="366.0" r="6.1"/><circle class="s3" cx="827.0" cy="410.5" r="6.1"/><circle class="s1" cx="886.0" cy="443.5" r="3.9"/><circle class="s2" cx="855.5" cy="374.5" r="6.1"/><circle class="s3" cx="699.5" cy="289.5" r="6.1"/><circle class="s3" cx="839.0" cy="131.0" r="4.1"/><circle class="s3" cx="838.5" cy="342.0" r="6.1"/><circle class="s2" cx="912.5" cy="155.0" r="6.1"/><circle class="s3" cx="801.5" cy="261.5" r="6.1"/><circle class="s1" cx="851.0" cy="364.5" r="6.1"/><circle class="s2" cx="898.5" cy="389.5" r="6.1"/><circle class="s1" cx="858.5" cy="382.5" r="6.1"/><circle class="s3" cx="877.5" cy="354.5" r="6.1"/><circle class="s1" cx="819.0" cy="341.5" r="6.1"/><circle class="s2" cx="793.0" cy="207.5" r="6.1"/><circle class="s3" cx="782.0" cy="259.5" r="6.1"/><circle class="s1" cx="869.0" cy="384.5" r="6.1"/><circle class="s0" cx="814.5" cy="240.5" r="5.5"/><circle class="s3" cx="908.0" cy="387.5" r="3.4"/><circle class="s2" cx="772.0" cy="241.0" r="6.1"/><circle class="s2" cx="851.5" cy="189.5" r="6.1"/><circle class="s0" cx="858.5" cy="165.5" r="6.1"/><circle class="s2" cx="883.0" cy="351.0" r="6.1"/><circle class="s2" cx="796.5" cy="396.0" r="6.1"/><circle class="s0" cx="757.0" cy="280.5" r="6.1"/><circle class="s2" cx="699.5" cy="336.0" r="3.7"/><circle class="s1" cx="753.0" cy="229.0" r="6.1"/><circle class="s3" cx="786.5" cy="277.0" r="6.1"/><circle class="s1" cx="863.0" cy="445.5" r="3.7"/><circle class="s2" cx="735.0" cy="275.5" r="6.1"/><circle class="s3" cx="914.0" cy="391.0" r="4.2"/><circle class="s3" cx="861.5" cy="229.0" r="6.1"/><circle class="s1" cx="778.0" cy="355.5" r="6.1"/><circle class="s3" cx="705.5" cy="332.0" r="3.7"/><circle class="s3" cx="796.5" cy="378.0" r="5.8"/><circle class="s0" cx="713.0" cy="302.5" r="6.1"/><circle class="s0" cx="844.5" cy="134.5" r="5.5"/><circle class="s2" cx="909.5" cy="416.0" r="6.1"/><circle class="s1" cx="837.0" cy="380.5" r="6.1"/><circle class="s2" cx="869.5" cy="444.0" r="3.3"/><circle class="s1" cx="703.0" cy="294.0" r="6.1"/><circle class="s1" cx="719.5" cy="237.5" r="4.7"/><circle class="s1" cx="810.0" cy="360.0" r="6.1"/><circle class="s2" cx="741.0" cy="268.5" r="6.1"/><circle class="s0" cx="793.0" cy="168.0" r="6.1"/><circle class="s3" cx="842.0" cy="235.5" r="5.1"/><circle class="s3" cx="746.0" cy="318.5" r="6.1"/><circle class="s3" cx="804.0" cy="267.5" r="6.1"/><circle class="s2" cx="839.0" cy="363.5" r="6.1"/><circle class="s3" cx="779.0" cy="274.0" r="6.1"/><circle class="s1" cx="784.5" cy="216.5" r="6.1"/><circle class="s2" cx="805.0" cy="235.0" r="6.1"/><circle class="s2" cx="823.5" cy="161.0" r="6.1"/><circle class="s3" cx="842.5" cy="159.5" r="6.1"/><circle class="s1" cx="838.0" cy="387.0" r="6.1"/><circle class="s0" cx="828.0" cy="321.5" r="3.4"/><circle class="s3" cx="780.5" cy="373.0" r="5.7"/><circle class="s2" cx="769.5" cy="251.5" r="6.1"/><circle class="s2" cx="734.5" cy="239.0" r="6.1"/><circle class="s1" cx="852.0" cy="349.0" r="6.1"/><circle class="s2" cx="787.5" cy="305.0" r="6.1"/><circle class="s1" cx="859.5" cy="388.5" r="6.1"/><circle class="s0" cx="813.5" cy="277.0" r="4.6"/><circle class="s1" cx="814.0" cy="420.5" r="6.1"/><circle class="s2" cx="720.5" cy="312.5" r="6.1"/><circle class="s2" cx="814.5" cy="304.0" r="3.4"/><circle class="s0" cx="924.5" cy="174.0" r="3.2"/><circle class="s3" cx="802.0" cy="225.5" r="6.1"/><circle class="s0" cx="784.5" cy="202.0" r="6.1"/><circle class="s1" cx="891.5" cy="396.5" r="6.1"/><circle class="s1" cx="822.0" cy="433.0" r="3.3"/><circle class="s1" cx="767.0" cy="368.0" r="6.1"/><circle class="s0" cx="894.5" cy="160.5" r="5.8"/><circle class="s1" cx="817.5" cy="415.5" r="6.1"/><circle class="s0" cx="877.0" cy="196.0" r="6.1"/><circle class="s2" cx="782.5" cy="316.0" r="6.1"/><circle class="s1" cx="750.0" cy="358.0" r="6.1"/><circle class="s3" cx="791.5" cy="338.5" r="6.1"/><circle class="s0" cx="873.5" cy="168.0" r="6.1"/><circle class="s1" cx="880.0" cy="339.5" r="6.1"/><circle class="s0" cx="827.0" cy="167.5" r="6.1"/><circle class="s3" cx="811.0" cy="165.5" r="6.1"/><circle class="s0" cx="822.0" cy="426.0" r="6.1"/><circle class="s0" cx="793.0" cy="162.5" r="3.3"/><circle class="s1" cx="778.0" cy="219.0" r="6.1"/><circle class="s1" cx="858.5" cy="171.0" r="6.1"/><circle class="s3" cx="813.5" cy="213.0" r="6.1"/><circle class="s0" cx="833.5" cy="157.5" r="6.1"/><circle class="s0" cx="781.5" cy="337.0" r="6.1"/><circle class="s2" cx="692.0" cy="307.0" r="3.3"/><circle class="s0" cx="894.0" cy="445.5" r="3.2"/><circle class="s1" cx="901.0" cy="419.5" r="6.1"/><circle class="s0" cx="909.0" cy="181.5" r="3.2"/><circle class="s2" cx="845.5" cy="229.0" r="6.1"/><circle class="s3" cx="812.0" cy="156.0" r="6.1"/><circle class="s1" cx="711.5" cy="249.5" r="3.3"/><circle class="s2" cx="792.0" cy="374.0" r="6.1"/><circle class="s3" cx="862.5" cy="333.0" r="6.1"/><circle class="s2" cx="798.5" cy="273.0" r="6.1"/><circle class="s0" cx="744.5" cy="354.5" r="6.1"/><circle class="s3" cx="714.0" cy="256.5" r="5.9"/><circle class="s2" cx="820.0" cy="222.5" r="6.1"/><circle class="s0" cx="895.5" cy="429.5" r="3.2"/><circle class="s2" cx="880.0" cy="158.0" r="3.2"/><circle class="s1" cx="775.5" cy="186.0" r="3.3"/><circle class="s1" cx="847.0" cy="149.5" r="6.1"/><circle class="s0" cx="878.0" cy="171.5" r="6.1"/><circle class="s3" cx="869.0" cy="238.5" r="3.7"/><circle class="s3" cx="789.0" cy="353.0" r="6.1"/></g></g>
<ellipse cx="200" cy="362" rx="3.8" ry="4.4" fill="#fff"/><ellipse cx="601.6" cy="198" rx="3.4" ry="4.8" fill="#fff"/>
<rect x="254" y="34.1" width="160.8" height="191.7" fill="none" stroke="#0c0c0c" stroke-width="2.2"/>
<rect x="253.9" y="337.7" width="160.9" height="191.3" fill="none" stroke="#0c0c0c" stroke-width="2.2"/>
<line x1="53.2" y1="289.7" x2="918.5" y2="289.7" stroke="#0c0c0c" stroke-width="2.3" stroke-dasharray="6 2.3"/>
<path d="M560.5,58.2H896.3" stroke="#111" stroke-width="2" fill="none"/><path d="M560.6,47.7v21 M896.2,47.7v21" stroke="#111" stroke-width="1.3" fill="none"/>
<path d="M137.5,694.65v2.6 M137.5,1334.15v-2.6 M166.7,694.65v2.6 M166.7,1334.15v-2.6 M190.6,694.65v2.6 M190.6,1334.15v-2.6 M210.8,694.65v2.6 M210.8,1334.15v-2.6 M228.3,694.65v2.6 M228.3,1334.15v-2.6 M243.7,694.65v2.6 M243.7,1334.15v-2.6 M257.5,694.65v6.3 M257.5,1334.15v-6.3 M348.3,694.65v2.6 M348.3,1334.15v-2.6 M401.4,694.65v2.6 M401.4,1334.15v-2.6 M439.0,694.65v2.6 M439.0,1334.15v-2.6 M468.2,694.65v2.6 M468.2,1334.15v-2.6 M492.1,694.65v2.6 M492.1,1334.15v-2.6 M512.3,694.65v2.6 M512.3,1334.15v-2.6 M529.8,694.65v2.6 M529.8,1334.15v-2.6 M545.2,694.65v2.6 M545.2,1334.15v-2.6 M559.0,694.65v6.3 M559.0,1334.15v-6.3 M649.8,694.65v2.6 M649.8,1334.15v-2.6 M702.9,694.65v2.6 M702.9,1334.15v-2.6 M740.5,694.65v2.6 M740.5,1334.15v-2.6 M769.7,694.65v2.6 M769.7,1334.15v-2.6 M793.6,694.65v2.6 M793.6,1334.15v-2.6 M813.8,694.65v2.6 M813.8,1334.15v-2.6 M831.3,694.65v2.6 M831.3,1334.15v-2.6 M846.7,694.65v2.6 M846.7,1334.15v-2.6 M860.5,694.65v6.3 M860.5,1334.15v-6.3 M951.3,694.65v2.6 M951.3,1334.15v-2.6 M1004.4,694.65v2.6 M1004.4,1334.15v-2.6 M121.35,1328.3h2.8 M1010.55,1328.3h-2.8 M121.35,1312.3h2.8 M1010.55,1312.3h-2.8 M121.35,1299.2h2.8 M1010.55,1299.2h-2.8 M121.35,1288.1h2.8 M1010.55,1288.1h-2.8 M121.35,1278.6h2.8 M1010.55,1278.6h-2.8 M121.35,1270.1h2.8 M1010.55,1270.1h-2.8 M121.35,1262.5h6.5 M1010.55,1262.5h-6.5 M121.35,1212.8h2.8 M1010.55,1212.8h-2.8 M121.35,1183.7h2.8 M1010.55,1183.7h-2.8 M121.35,1163.1h2.8 M1010.55,1163.1h-2.8 M121.35,1147.0h2.8 M1010.55,1147.0h-2.8 M121.35,1134.0h2.8 M1010.55,1134.0h-2.8 M121.35,1122.9h2.8 M1010.55,1122.9h-2.8 M121.35,1113.3h2.8 M1010.55,1113.3h-2.8 M121.35,1104.9h2.8 M1010.55,1104.9h-2.8 M121.35,1097.3h6.5 M1010.55,1097.3h-6.5 M121.35,1047.6h2.8 M1010.55,1047.6h-2.8 M121.35,1018.5h2.8 M1010.55,1018.5h-2.8 M121.35,997.8h2.8 M1010.55,997.8h-2.8 M121.35,981.8h2.8 M1010.55,981.8h-2.8 M121.35,968.7h2.8 M1010.55,968.7h-2.8 M121.35,957.6h2.8 M1010.55,957.6h-2.8 M121.35,948.1h2.8 M1010.55,948.1h-2.8 M121.35,939.6h2.8 M1010.55,939.6h-2.8 M121.35,932.0h6.5 M1010.55,932.0h-6.5 M121.35,882.3h2.8 M1010.55,882.3h-2.8 M121.35,853.2h2.8 M1010.55,853.2h-2.8 M121.35,832.6h2.8 M1010.55,832.6h-2.8 M121.35,816.5h2.8 M1010.55,816.5h-2.8 M121.35,803.5h2.8 M1010.55,803.5h-2.8 M121.35,792.4h2.8 M1010.55,792.4h-2.8 M121.35,782.8h2.8 M1010.55,782.8h-2.8 M121.35,774.4h2.8 M1010.55,774.4h-2.8 M121.35,766.8h6.5 M1010.55,766.8h-6.5 M121.35,717.1h2.8 M1010.55,717.1h-2.8" stroke="#111" stroke-width="1" fill="none"/>
<line x1="119.3" y1="757.3" x2="1006.8" y2="1243.6" stroke="#111" stroke-width="3.1" stroke-dasharray="14.6 13.1"/>
<rect x="247.7" y="823.2" width="19.6" height="19.6" fill="#fff" stroke="#0c0c0c" stroke-width="1.1"/>
<rect x="389.8" y="905.6" width="19.6" height="19.6" fill="#fff" stroke="#0c0c0c" stroke-width="1.1"/>
<rect x="471.6" y="949.6" width="19.6" height="19.6" fill="#0c0c0c" stroke="#0c0c0c" stroke-width="1.1"/>
<rect x="546.7" y="990.5" width="19.6" height="19.6" fill="#fff" stroke="#0c0c0c" stroke-width="1.1"/>
<rect x="802.8" y="1129.7" width="19.6" height="19.6" fill="#fff" stroke="#0c0c0c" stroke-width="1.1"/>
<line x1="256.5" y1="694.9" x2="256.5" y2="1335.9" class="grid"/>
<line x1="556.5" y1="694.9" x2="556.5" y2="1335.9" class="grid"/>
<line x1="859.5" y1="694.9" x2="859.5" y2="1335.9" class="grid"/>
<line x1="127.6" y1="767.5" x2="1012.3" y2="767.5" class="grid"/>
<line x1="127.6" y1="933.5" x2="1012.3" y2="933.5" class="grid"/>
<line x1="127.6" y1="1098.5" x2="1012.3" y2="1098.5" class="grid"/>
<line x1="127.6" y1="1263.7" x2="1012.3" y2="1263.7" class="grid"/>
<rect x="119.6" y="692.9" width="892.6999999999999" height="643.0000000000001" fill="none" stroke="#0a0a0a" stroke-width="3.5"/>
<text transform="translate(10.5,59.8) scale(0.91,1)" font-size="53">a</text>
<text transform="translate(14.5,712.6) scale(1.06,1)" font-size="51">b</text>
<text transform="translate(725,29.7) scale(1.055,1)" font-size="30.3" text-anchor="middle">10 nm</text>
<text x="309.2" y="582.7" font-size="40.3" text-anchor="middle">EGFP-Noggin4</text>
<text x="583" y="528.6" font-size="41" text-anchor="middle">Noggin4</text>
<text x="860.2" y="528.6" font-size="41" text-anchor="middle">Noggin1</text>
<text transform="translate(63.6,779.0) scale(0.935,1)" font-size="32.3">10<tspan font-size="17.5" dy="-16" dx="1.2" fill="#2a2a2a">-6</tspan></text>
<text transform="translate(63.6,944.2) scale(0.935,1)" font-size="32.3">10<tspan font-size="17.5" dy="-16" dx="1.2" fill="#2a2a2a">-7</tspan></text>
<text transform="translate(63.6,1109.5) scale(0.935,1)" font-size="32.3">10<tspan font-size="17.5" dy="-16" dx="1.2" fill="#2a2a2a">-8</tspan></text>
<text transform="translate(63.6,1274.8) scale(0.935,1)" font-size="32.3">10<tspan font-size="17.5" dy="-16" dx="1.2" fill="#2a2a2a">-9</tspan></text>
<text x="254.7" y="1369.4" font-size="31.5" text-anchor="middle">0.01</text>
<text x="555.2" y="1369.4" font-size="31.5" text-anchor="middle">0.1</text>
<text x="860.0" y="1369.4" font-size="31.5" text-anchor="middle">1.0</text>
<text x="550.6" y="1412.2" font-size="32" text-anchor="middle">Viscosity, <tspan font-style="italic">Poises</tspan></text>
<text transform="translate(32.2,1054) rotate(-90)" font-size="32" text-anchor="middle">Diffusion coefficient, <tspan font-style="italic">cm</tspan><tspan font-size="17.5" dy="-18.5" dx="7">2</tspan><tspan dy="18.5" dx="-3.5" font-style="italic">/s</tspan></text>
<text transform="translate(267,1022.7) rotate(-90)" font-size="30.6" class="mono" >in water</text>
<text transform="translate(411.3,1100.9) rotate(-90)" font-size="30.8" class="mono" >in blood</text>
<text transform="translate(493.2,1209.3) rotate(-90)" font-size="30.35" class="mono" font-weight="bold">in our study</text>
<text transform="translate(823.5,1096.2) rotate(-90)" font-size="31.15" class="mono" >in protoplasm</text>
</svg>
</body></html>
